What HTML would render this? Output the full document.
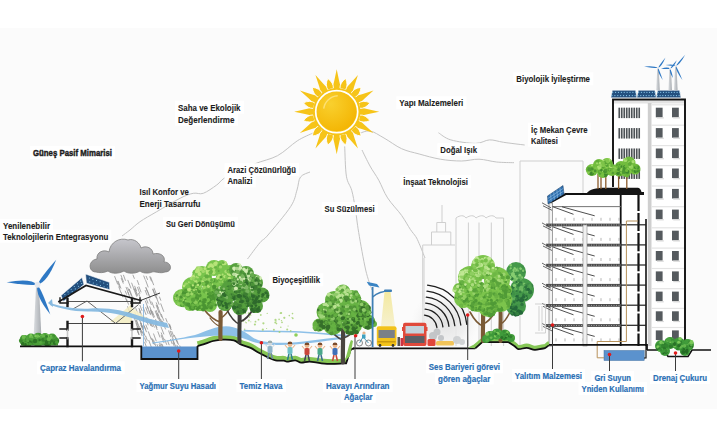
<!DOCTYPE html>
<html><head><meta charset="utf-8">
<style>
html,body{margin:0;padding:0;background:#fff;}
svg{display:block;}
.t{font-family:"Liberation Sans",sans-serif;font-weight:bold;fill:#1c1c1c;stroke:#1c1c1c;stroke-width:0.1px;font-size:9.8px;}
.g{stroke-width:0.45px;}
.b{font-family:"Liberation Sans",sans-serif;font-weight:bold;fill:#2a70b5;stroke:#2a70b5;stroke-width:0.2px;font-size:9.6px;}
</style></head><body>
<svg width="720" height="427" viewBox="0 0 720 427">
<defs>
<radialGradient id="sung" cx="0.35" cy="0.3" r="0.8"><stop offset="0" stop-color="#f9d02e"/><stop offset="1" stop-color="#f3b300"/></radialGradient>
<linearGradient id="towerg" x1="0" y1="0" x2="1" y2="0"><stop offset="0" stop-color="#dadde0"/><stop offset="1" stop-color="#a9adb2"/></linearGradient>
<radialGradient id="hazeg"><stop offset="0" stop-color="#e2e2e2"/><stop offset="0.6" stop-color="#ececec" stop-opacity="0.8"/><stop offset="1" stop-color="#f4f4f4" stop-opacity="0"/></radialGradient>
<linearGradient id="conegr" x1="0" y1="0" x2="0" y2="1"><stop offset="0" stop-color="#f3e9a0"/><stop offset="1" stop-color="#f6f1cf"/></linearGradient>
<linearGradient id="cloudg" x1="0" y1="0" x2="0" y2="1"><stop offset="0" stop-color="#c6c6cc"/><stop offset="1" stop-color="#8e8e8e"/></linearGradient>
</defs>
<rect x="0" y="0" width="720" height="427" fill="#fff"/>
<rect x="0" y="28" width="717" height="381" fill="#fbfbfb"/>
<g fill="none" stroke="#c4c4c4" stroke-width="1">
<path d="M122.0,236.0 C123.3,235.0 127.0,232.4 130.0,230.0 C133.0,227.6 135.6,224.8 140.0,221.7 C144.4,218.6 150.0,215.6 156.7,211.7 C163.4,207.8 173.9,201.4 180.0,198.3 C186.1,195.2 189.4,194.1 193.3,193.3 C197.2,192.5 199.4,194.7 203.3,193.3 C207.2,191.9 212.8,187.8 216.7,185.0 C220.6,182.2 220.4,180.2 226.7,176.7 C233.0,173.2 246.1,167.4 254.6,163.9 C263.1,160.4 270.4,159.5 277.5,155.7 C284.6,151.9 291.3,144.7 297.2,140.9 C303.1,137.1 310.4,134.3 313.0,133.0"/>
<path d="M247.5,259.0 C249.6,256.3 256.6,246.6 260.0,242.6 C263.4,238.6 262.9,241.0 268.0,235.0 C273.1,229.0 285.9,214.0 290.7,206.5 C295.5,199.0 295.4,194.9 297.0,190.0 C298.6,185.1 298.3,180.0 300.5,177.0 C302.7,174.0 308.4,172.8 310.0,172.0"/>
<path d="M344.7,146.4 C345.0,151.4 345.2,168.9 346.4,176.2 C347.6,183.5 350.2,185.0 351.7,190.3 C353.2,195.6 354.0,200.9 355.2,207.9 C356.4,214.9 356.9,222.2 358.7,232.5 C360.4,242.8 363.5,260.4 365.7,270.0 C367.9,279.6 370.9,286.7 372.0,290.0"/>
<path d="M362.0,150.0 C363.3,152.7 367.2,160.9 370.0,166.0 C372.8,171.1 375.9,175.0 378.8,180.3 C381.7,185.6 383.8,192.1 387.6,197.9 C391.4,203.8 397.8,210.1 401.6,215.4 C405.4,220.7 408.0,226.0 410.4,229.5 C412.8,233.0 414.2,234.2 415.7,236.5 C417.2,238.8 417.6,240.0 419.2,243.6 C420.8,247.2 424.0,255.6 425.0,258.0"/>
<path d="M358.0,134.0 C360.0,133.5 365.7,130.3 370.0,131.0 C374.3,131.7 378.7,135.1 384.0,138.0 C389.3,140.9 395.7,146.0 401.6,148.7 C407.5,151.4 412.8,152.2 419.2,154.0 C425.6,155.8 433.3,158.0 440.3,159.2 C447.3,160.4 454.9,161.0 461.4,161.0 C467.8,161.0 473.1,159.0 479.0,159.2 C484.9,159.4 490.7,161.4 496.5,162.0 C502.3,162.6 511.1,162.6 514.0,162.7"/>
<path d="M438.5,132.8 C440.6,134.0 444.6,138.1 450.8,139.9 C457.0,141.7 469.1,143.4 475.5,143.4 C481.9,143.4 484.8,140.1 489.5,139.9 C494.2,139.7 497.7,141.5 503.6,142.3 C509.5,143.2 521.2,144.6 524.7,145.0"/>
</g>
<g fill="none" stroke="#cfcfcf" stroke-width="1">
<path d="M520,346 V161 H583 V194"/>
<path d="M456,346 V218 C460,215 464,215 466,218 C470,215 474,215 476,218 C480,215 484,215 486,218 C490,215 494,215 496,218 L503.6,218 V346"/>
<path d="M468.4,222.5 V346 M479,222.5 V346 M491.3,222.5 V346"/>
<path d="M442,205 V222.5 M436.8,232 V222.5 H445.6 V232 M431.5,245 V232 H450.8 V245 M422.7,346 V245 H455"/>
<path d="M424,258 V346"/>
</g>
<path d="M331.86,90.75 Q334.31,81.29 336.70,69.20 Q339.09,81.29 341.54,90.75 Z" fill="#f6c419"/><path d="M342.99,91.14 Q349.83,84.17 357.95,74.89 Q353.98,86.56 351.36,95.98 Z" fill="#f6c419"/><path d="M352.42,97.04 Q361.84,94.42 373.51,90.45 Q364.23,98.57 357.26,105.41 Z" fill="#f6c419"/><path d="M357.65,106.86 Q367.11,109.31 379.20,111.70 Q367.11,114.09 357.65,116.54 Z" fill="#f6c419"/><path d="M357.26,117.99 Q364.23,124.83 373.51,132.95 Q361.84,128.98 352.42,126.36 Z" fill="#f6c419"/><path d="M351.36,127.42 Q353.98,136.84 357.95,148.51 Q349.83,139.23 342.99,132.26 Z" fill="#f6c419"/><path d="M341.54,132.65 Q339.09,142.11 336.70,154.20 Q334.31,142.11 331.86,132.65 Z" fill="#f6c419"/><path d="M330.41,132.26 Q323.57,139.23 315.45,148.51 Q319.42,136.84 322.04,127.42 Z" fill="#f6c419"/><path d="M320.98,126.36 Q311.56,128.98 299.89,132.95 Q309.17,124.83 316.14,117.99 Z" fill="#f6c419"/><path d="M315.75,116.54 Q306.29,114.09 294.20,111.70 Q306.29,109.31 315.75,106.86 Z" fill="#f6c419"/><path d="M316.14,105.41 Q309.17,98.57 299.89,90.45 Q311.56,94.42 320.98,97.04 Z" fill="#f6c419"/><path d="M322.04,95.98 Q319.42,86.56 315.45,74.89 Q323.57,84.17 330.41,91.14 Z" fill="#f6c419"/><path d="M339.97,88.43 Q339.73,82.86 345.63,78.38 Q348.50,85.21 345.50,89.91 Z" fill="#f6c419" stroke="#fff" stroke-width="0.9"/><path d="M351.17,93.18 Q353.75,88.24 361.10,87.30 Q360.16,94.65 355.22,97.23 Z" fill="#f6c419" stroke="#fff" stroke-width="0.9"/><path d="M358.49,102.90 Q363.19,99.90 370.02,102.77 Q365.54,108.67 359.97,108.43 Z" fill="#f6c419" stroke="#fff" stroke-width="0.9"/><path d="M359.97,114.97 Q365.54,114.73 370.02,120.63 Q363.19,123.50 358.49,120.50 Z" fill="#f6c419" stroke="#fff" stroke-width="0.9"/><path d="M355.22,126.17 Q360.16,128.75 361.10,136.10 Q353.75,135.16 351.17,130.22 Z" fill="#f6c419" stroke="#fff" stroke-width="0.9"/><path d="M345.50,133.49 Q348.50,138.19 345.63,145.02 Q339.73,140.54 339.97,134.97 Z" fill="#f6c419" stroke="#fff" stroke-width="0.9"/><path d="M333.43,134.97 Q333.67,140.54 327.77,145.02 Q324.90,138.19 327.90,133.49 Z" fill="#f6c419" stroke="#fff" stroke-width="0.9"/><path d="M322.23,130.22 Q319.65,135.16 312.30,136.10 Q313.24,128.75 318.18,126.17 Z" fill="#f6c419" stroke="#fff" stroke-width="0.9"/><path d="M314.91,120.50 Q310.21,123.50 303.38,120.63 Q307.86,114.73 313.43,114.97 Z" fill="#f6c419" stroke="#fff" stroke-width="0.9"/><path d="M313.43,108.43 Q307.86,108.67 303.38,102.77 Q310.21,99.90 314.91,102.90 Z" fill="#f6c419" stroke="#fff" stroke-width="0.9"/><path d="M318.18,97.23 Q313.24,94.65 312.30,87.30 Q319.65,88.24 322.23,93.18 Z" fill="#f6c419" stroke="#fff" stroke-width="0.9"/><path d="M327.90,89.91 Q324.90,85.21 327.77,78.38 Q333.67,82.86 333.43,88.43 Z" fill="#f6c419" stroke="#fff" stroke-width="0.9"/><circle cx="336.7" cy="111.7" r="23.8" fill="#f6c419"/><circle cx="336.7" cy="111.7" r="21" fill="none" stroke="#fff" stroke-width="1.7"/><circle cx="336.7" cy="111.7" r="19.6" fill="url(#sung)"/><path d="M323.7,108.7 A15,15 0 0 1 337.7,95.7" fill="none" stroke="#fde27c" stroke-width="1.4" opacity="0.9"/>
<g stroke="#8a8a8a" stroke-width="0.8" stroke-linecap="round" opacity="0.9">
<line x1="147.3" y1="306.6" x2="150.2" y2="314.2"/>
<line x1="145.8" y1="307.5" x2="148.0" y2="313.5"/>
<line x1="137.5" y1="287.3" x2="139.8" y2="293.4"/>
<line x1="140.3" y1="331.1" x2="142.0" y2="335.6"/>
<line x1="145.7" y1="280.5" x2="148.1" y2="287.0"/>
<line x1="150.6" y1="277.0" x2="153.6" y2="284.8"/>
<line x1="155.4" y1="321.1" x2="156.8" y2="324.9"/>
<line x1="133.0" y1="275.1" x2="134.3" y2="278.4"/>
<line x1="127.7" y1="287.7" x2="128.9" y2="290.8"/>
<line x1="143.2" y1="307.4" x2="146.0" y2="314.6"/>
<line x1="152.3" y1="311.4" x2="154.4" y2="316.9"/>
<line x1="149.8" y1="321.7" x2="151.5" y2="326.1"/>
<line x1="179.8" y1="345.8" x2="182.5" y2="353.0"/>
<line x1="145.9" y1="325.0" x2="147.5" y2="329.1"/>
<line x1="124.3" y1="294.8" x2="126.9" y2="301.6"/>
<line x1="156.3" y1="302.8" x2="158.2" y2="307.8"/>
<line x1="173.1" y1="343.0" x2="174.2" y2="346.0"/>
<line x1="153.0" y1="289.1" x2="155.0" y2="294.4"/>
<line x1="157.1" y1="344.6" x2="158.4" y2="348.0"/>
<line x1="160.7" y1="319.3" x2="162.3" y2="323.7"/>
<line x1="127.9" y1="280.3" x2="130.9" y2="288.1"/>
<line x1="140.1" y1="328.6" x2="141.7" y2="332.8"/>
<line x1="118.2" y1="281.3" x2="120.9" y2="288.3"/>
<line x1="139.0" y1="286.8" x2="141.0" y2="292.0"/>
<line x1="145.8" y1="287.7" x2="147.2" y2="291.4"/>
<line x1="136.6" y1="320.3" x2="138.6" y2="325.5"/>
<line x1="129.4" y1="289.3" x2="132.4" y2="297.2"/>
<line x1="148.4" y1="331.8" x2="151.2" y2="339.3"/>
<line x1="133.9" y1="289.2" x2="136.7" y2="296.4"/>
<line x1="136.0" y1="320.2" x2="139.0" y2="328.2"/>
<line x1="129.0" y1="289.4" x2="131.6" y2="296.2"/>
<line x1="133.8" y1="297.7" x2="135.1" y2="301.1"/>
<line x1="137.3" y1="280.5" x2="138.9" y2="284.7"/>
<line x1="144.8" y1="317.3" x2="146.8" y2="322.6"/>
<line x1="159.7" y1="343.1" x2="161.9" y2="348.9"/>
<line x1="145.8" y1="336.4" x2="147.2" y2="340.2"/>
<line x1="170.5" y1="339.4" x2="172.1" y2="343.7"/>
<line x1="146.1" y1="287.7" x2="149.0" y2="295.4"/>
<line x1="154.1" y1="288.2" x2="156.9" y2="295.6"/>
<line x1="146.7" y1="317.5" x2="148.0" y2="321.0"/>
<line x1="149.8" y1="276.8" x2="151.4" y2="281.0"/>
<line x1="143.6" y1="324.7" x2="146.4" y2="331.8"/>
<line x1="141.8" y1="316.9" x2="143.2" y2="320.8"/>
<line x1="137.2" y1="325.9" x2="138.7" y2="330.0"/>
<line x1="161.3" y1="314.3" x2="163.6" y2="320.3"/>
<line x1="155.3" y1="294.2" x2="156.9" y2="298.2"/>
<line x1="123.5" y1="275.2" x2="125.4" y2="280.4"/>
<line x1="121.3" y1="278.4" x2="123.2" y2="283.2"/>
<line x1="135.0" y1="315.2" x2="136.9" y2="320.0"/>
<line x1="176.0" y1="338.1" x2="178.4" y2="344.4"/>
<line x1="155.4" y1="323.8" x2="156.8" y2="327.5"/>
<line x1="114.7" y1="276.5" x2="117.6" y2="284.1"/>
<line x1="169.7" y1="324.5" x2="170.8" y2="327.6"/>
<line x1="149.9" y1="319.8" x2="152.5" y2="326.5"/>
<line x1="159.5" y1="297.0" x2="160.8" y2="300.3"/>
<line x1="156.7" y1="313.3" x2="159.5" y2="320.8"/>
<line x1="161.1" y1="327.1" x2="163.8" y2="334.0"/>
<line x1="153.5" y1="339.9" x2="155.9" y2="346.3"/>
<line x1="172.3" y1="338.9" x2="174.2" y2="343.9"/>
<line x1="168.7" y1="330.9" x2="170.9" y2="336.8"/>
<line x1="145.9" y1="319.0" x2="148.1" y2="324.9"/>
<line x1="134.2" y1="317.8" x2="136.6" y2="324.0"/>
<line x1="175.4" y1="345.5" x2="177.9" y2="352.2"/>
<line x1="151.8" y1="302.0" x2="154.1" y2="307.9"/>
<line x1="157.2" y1="305.7" x2="158.5" y2="309.1"/>
<line x1="136.6" y1="328.0" x2="138.9" y2="334.0"/>
<line x1="135.9" y1="308.6" x2="138.4" y2="315.1"/>
<line x1="150.7" y1="309.8" x2="153.5" y2="317.4"/>
<line x1="121.1" y1="292.4" x2="122.8" y2="296.9"/>
<line x1="140.8" y1="322.8" x2="142.3" y2="326.7"/>
<line x1="164.6" y1="339.2" x2="166.6" y2="344.4"/>
<line x1="151.8" y1="338.2" x2="154.3" y2="344.5"/>
<line x1="134.9" y1="288.3" x2="137.6" y2="295.3"/>
<line x1="173.0" y1="339.8" x2="174.9" y2="344.7"/>
<line x1="142.2" y1="316.0" x2="143.6" y2="319.7"/>
<line x1="158.9" y1="309.7" x2="161.6" y2="317.0"/>
<line x1="169.5" y1="325.2" x2="171.2" y2="329.6"/>
<line x1="134.7" y1="286.2" x2="136.4" y2="290.6"/>
<line x1="134.7" y1="289.4" x2="137.1" y2="295.5"/>
<line x1="139.5" y1="309.6" x2="142.2" y2="316.8"/>
<line x1="159.2" y1="344.7" x2="160.5" y2="348.1"/>
<line x1="146.2" y1="276.3" x2="147.5" y2="279.5"/>
<line x1="155.4" y1="325.0" x2="157.1" y2="329.6"/>
<line x1="137.5" y1="331.0" x2="138.9" y2="334.7"/>
<line x1="127.6" y1="306.7" x2="130.3" y2="313.9"/>
<line x1="125.3" y1="291.1" x2="126.6" y2="294.3"/>
<line x1="148.4" y1="319.3" x2="150.7" y2="325.5"/>
<line x1="162.5" y1="321.2" x2="165.5" y2="329.0"/>
<line x1="140.9" y1="323.3" x2="143.0" y2="328.7"/>
<line x1="118.8" y1="286.9" x2="120.8" y2="292.2"/>
<line x1="141.1" y1="325.4" x2="142.7" y2="329.8"/>
<line x1="149.2" y1="298.9" x2="151.3" y2="304.5"/>
<line x1="159.4" y1="318.2" x2="161.3" y2="323.2"/>
<line x1="170.3" y1="331.0" x2="171.6" y2="334.5"/>
<line x1="167.7" y1="341.1" x2="169.1" y2="344.8"/>
<line x1="149.8" y1="306.7" x2="152.6" y2="314.2"/>
<line x1="145.4" y1="301.1" x2="148.2" y2="308.5"/>
<line x1="171.8" y1="331.4" x2="173.9" y2="336.7"/>
<line x1="140.1" y1="320.9" x2="142.6" y2="327.5"/>
<line x1="161.3" y1="332.9" x2="163.8" y2="339.5"/>
<line x1="152.7" y1="289.4" x2="155.7" y2="297.3"/>
<line x1="162.2" y1="344.4" x2="164.8" y2="351.3"/>
<line x1="156.3" y1="297.1" x2="159.0" y2="304.3"/>
<line x1="126.5" y1="299.1" x2="128.5" y2="304.3"/>
<line x1="157.9" y1="313.6" x2="160.0" y2="319.1"/>
<line x1="143.8" y1="276.0" x2="145.1" y2="279.4"/>
<line x1="143.4" y1="331.6" x2="145.2" y2="336.3"/>
<line x1="141.8" y1="330.7" x2="143.3" y2="334.5"/>
<line x1="155.3" y1="311.2" x2="158.0" y2="318.4"/>
<line x1="168.7" y1="323.6" x2="170.7" y2="329.1"/>
<line x1="144.7" y1="342.3" x2="146.2" y2="346.4"/>
<line x1="139.5" y1="311.9" x2="142.1" y2="318.6"/>
<line x1="151.5" y1="320.0" x2="154.3" y2="327.2"/>
<line x1="141.3" y1="314.3" x2="143.2" y2="319.2"/>
<line x1="171.7" y1="334.9" x2="173.2" y2="338.9"/>
<line x1="174.4" y1="335.3" x2="176.5" y2="340.9"/>
<line x1="137.6" y1="315.3" x2="139.8" y2="320.9"/>
<line x1="150.5" y1="310.2" x2="151.7" y2="313.4"/>
<line x1="161.2" y1="343.8" x2="163.1" y2="348.8"/>
<line x1="157.9" y1="331.7" x2="159.9" y2="337.1"/>
<line x1="136.2" y1="323.8" x2="138.3" y2="329.4"/>
<line x1="160.8" y1="303.8" x2="163.7" y2="311.4"/>
<line x1="138.6" y1="293.4" x2="140.0" y2="297.0"/>
<line x1="156.2" y1="305.2" x2="159.0" y2="312.7"/>
<line x1="139.0" y1="308.3" x2="140.5" y2="312.3"/>
<line x1="165.8" y1="318.5" x2="167.2" y2="322.1"/>
<line x1="137.2" y1="330.1" x2="138.7" y2="334.1"/>
<line x1="145.2" y1="290.4" x2="147.0" y2="295.0"/>
<line x1="146.6" y1="299.6" x2="147.9" y2="303.1"/>
<line x1="139.5" y1="326.6" x2="141.6" y2="332.2"/>
<line x1="127.8" y1="292.0" x2="130.0" y2="297.7"/>
<line x1="140.0" y1="305.4" x2="141.9" y2="310.5"/>
<line x1="134.8" y1="312.1" x2="136.3" y2="316.1"/>
<line x1="155.6" y1="319.5" x2="157.7" y2="325.1"/>
<line x1="161.2" y1="335.3" x2="163.9" y2="342.6"/>
<line x1="147.4" y1="290.8" x2="150.1" y2="297.8"/>
<line x1="151.8" y1="339.0" x2="153.5" y2="343.6"/>
<line x1="148.8" y1="340.4" x2="151.8" y2="348.4"/>
<line x1="144.6" y1="337.9" x2="146.2" y2="342.1"/>
<line x1="144.4" y1="326.3" x2="145.7" y2="329.8"/>
<line x1="153.6" y1="333.9" x2="156.2" y2="340.9"/>
<line x1="131.7" y1="283.1" x2="134.1" y2="289.5"/>
<line x1="121.0" y1="275.3" x2="123.4" y2="281.7"/>
<line x1="176.2" y1="339.6" x2="177.5" y2="343.2"/>
<line x1="156.2" y1="310.4" x2="158.3" y2="315.9"/>
<line x1="140.6" y1="323.4" x2="141.8" y2="326.7"/>
<line x1="117.6" y1="281.6" x2="119.8" y2="287.4"/>
<line x1="149.5" y1="311.1" x2="150.9" y2="314.8"/>
<line x1="126.1" y1="287.3" x2="128.8" y2="294.5"/>
<line x1="177.0" y1="345.3" x2="178.3" y2="348.8"/>
</g>
<path d="M96,272 C88,272 88,260 97,259 C96,252 104,249 109,252 C110,242 120,237 128,240 C134,238 140,243 141,248 C146,245 153,248 153,254 C160,252 166,256 164,262 C172,262 173,272 165,272 C160,274 155,271 152,272 C148,274 142,273 140,271 C135,274 128,274 124,271 C118,274 112,274 108,271 C104,273 99,273 96,272 Z" fill="url(#cloudg)" stroke="#7d7d7d" stroke-width="0.8"/>
<polygon points="36.10,284.70 38.90,284.70 41.30,334.50 33.70,334.50" fill="url(#towerg)"/><path d="M37.50,284.70 Q47.37,282.38 56.20,259.80 Q40.62,277.30 37.50,284.70 Z" fill="#2e78c4"/><path d="M37.50,284.70 Q30.28,277.62 6.60,282.30 Q29.62,286.04 37.50,284.70 Z" fill="#2e78c4"/><path d="M37.50,284.70 Q34.73,294.70 50.30,314.40 Q42.49,291.35 37.50,284.70 Z" fill="#2e78c4"/><circle cx="37.50" cy="284.70" r="2.93" fill="#e4e8ee"/>
<rect x="21" y="340" width="37" height="5.5" fill="#3f9032"/>
<g fill="#4a9e38"><circle cx="25.0" cy="340.5" r="5.5"/><circle cx="31.0" cy="338.5" r="5.0"/><circle cx="38.0" cy="337.5" r="4.8"/><circle cx="45.0" cy="338.0" r="5.0"/><circle cx="52.0" cy="338.5" r="5.0"/><circle cx="55.0" cy="341.0" r="4.2"/><circle cx="28.0" cy="342.0" r="4.5"/><circle cx="48.0" cy="342.0" r="4.5"/><circle cx="38.0" cy="342.0" r="5.0"/></g><circle cx="26.4" cy="342.0" r="1.6" fill="#37822b"/><circle cx="28.4" cy="343.3" r="1.6" fill="#2c7224"/><circle cx="39.7" cy="336.1" r="1.4" fill="#7cc858"/><circle cx="51.0" cy="336.0" r="1.1" fill="#75c253"/><circle cx="54.1" cy="341.0" r="1.4" fill="#56a83f"/><circle cx="39.4" cy="334.5" r="1.4" fill="#429333"/><circle cx="26.0" cy="343.6" r="2.1" fill="#4da03a"/><circle cx="37.7" cy="340.2" r="1.6" fill="#4a9e38"/><circle cx="53.8" cy="336.1" r="1.3" fill="#3e8c30"/><circle cx="49.4" cy="342.9" r="1.9" fill="#2c7224"/><circle cx="24.8" cy="339.2" r="1.2" fill="#3a872d"/><circle cx="36.0" cy="337.7" r="1.5" fill="#58aa41"/><circle cx="39.3" cy="339.4" r="1.9" fill="#419232"/><circle cx="28.7" cy="340.9" r="1.7" fill="#3f8e30"/><circle cx="33.5" cy="340.8" r="1.1" fill="#4da039"/><circle cx="22.6" cy="343.6" r="1.4" fill="#2c7224"/><circle cx="46.7" cy="341.8" r="2.1" fill="#2c7224"/><circle cx="57.5" cy="340.7" r="1.6" fill="#2c7224"/><circle cx="34.6" cy="336.2" r="1.2" fill="#419032"/><circle cx="22.7" cy="343.5" r="1.6" fill="#2c7224"/><circle cx="30.1" cy="336.8" r="1.2" fill="#6cbb4e"/><circle cx="22.7" cy="337.4" r="2.2" fill="#3f8f31"/><circle cx="49.1" cy="339.2" r="2.2" fill="#53a63e"/><circle cx="40.5" cy="342.5" r="1.3" fill="#56a83f"/><circle cx="54.4" cy="340.8" r="1.7" fill="#3b882e"/><circle cx="53.1" cy="337.0" r="1.3" fill="#479a36"/><circle cx="20.9" cy="340.7" r="2.0" fill="#3f8e30"/><circle cx="42.8" cy="336.3" r="2.2" fill="#65b549"/><circle cx="25.5" cy="344.3" r="1.2" fill="#2c7224"/><circle cx="41.0" cy="337.2" r="1.3" fill="#53a53e"/><circle cx="34.7" cy="342.2" r="1.1" fill="#36812b"/><circle cx="47.7" cy="344.4" r="1.9" fill="#2c7224"/><circle cx="22.5" cy="342.9" r="1.9" fill="#52a43d"/><circle cx="29.9" cy="342.1" r="1.1" fill="#469935"/><circle cx="35.2" cy="337.0" r="1.4" fill="#3b892e"/><circle cx="39.6" cy="340.1" r="1.1" fill="#2c7224"/><circle cx="43.4" cy="339.6" r="2.2" fill="#357f2a"/><circle cx="32.1" cy="342.1" r="1.7" fill="#3a862d"/><circle cx="22.5" cy="343.6" r="1.4" fill="#2c7224"/><circle cx="22.9" cy="343.6" r="1.5" fill="#2c7224"/><circle cx="45.1" cy="338.8" r="1.5" fill="#439533"/><circle cx="35.7" cy="335.9" r="1.5" fill="#7cc858"/><circle cx="29.6" cy="342.2" r="1.9" fill="#2c7224"/><circle cx="37.8" cy="336.1" r="1.6" fill="#70be50"/><circle cx="23.3" cy="339.2" r="1.9" fill="#51a33c"/><circle cx="54.7" cy="343.1" r="1.9" fill="#2c7224"/><circle cx="46.1" cy="344.2" r="1.8" fill="#2c7224"/><circle cx="35.1" cy="341.0" r="2.2" fill="#2d7425"/><circle cx="32.2" cy="337.1" r="1.2" fill="#6bb94d"/><circle cx="49.0" cy="339.0" r="2.1" fill="#67b64a"/><circle cx="47.5" cy="335.7" r="1.8" fill="#70be50"/><circle cx="46.6" cy="336.4" r="1.4" fill="#36812b"/><circle cx="29.9" cy="344.0" r="1.8" fill="#469835"/><circle cx="27.8" cy="340.8" r="1.5" fill="#56a840"/><circle cx="56.7" cy="339.1" r="1.7" fill="#419132"/><circle cx="30.9" cy="335.3" r="1.3" fill="#7cc858"/><circle cx="56.5" cy="342.2" r="1.6" fill="#499d37"/><circle cx="21.5" cy="340.9" r="1.3" fill="#3a872d"/><circle cx="23.7" cy="337.0" r="2.1" fill="#6cbb4e"/><circle cx="27.3" cy="338.2" r="1.3" fill="#50a33b"/><circle cx="49.1" cy="342.9" r="1.1" fill="#409031"/><circle cx="51.8" cy="340.9" r="1.6" fill="#317927"/><circle cx="51.2" cy="337.4" r="1.4" fill="#62b247"/>
<path d="M128,305 L150,320 L136,320 Z" fill="#f7f1c9" opacity="0.9"/>
<polygon points="110,322 132,304 132,324" fill="#f3ecbd" opacity="0.8"/>
<polygon points="61,295.5 82,277.5 84,284.5 63.5,301.5" fill="#234f7e" stroke="#fff" stroke-width="0.6"/>
<polygon points="85.5,274 109.4,282.3 109.8,289.8 86.4,283.3" fill="#234f7e" stroke="#fff" stroke-width="0.6"/>
<g fill="#8fd0f0">
<circle cx="64.9" cy="294.6" r="0.55"/>
<circle cx="89.4" cy="278.0" r="0.55"/>
<circle cx="65.9" cy="297.0" r="0.55"/>
<circle cx="89.7" cy="281.8" r="0.55"/>
<circle cx="68.0" cy="291.9" r="0.55"/>
<circle cx="92.9" cy="279.3" r="0.55"/>
<circle cx="69.0" cy="294.3" r="0.55"/>
<circle cx="93.3" cy="283.0" r="0.55"/>
<circle cx="71.2" cy="289.2" r="0.55"/>
<circle cx="96.5" cy="280.5" r="0.55"/>
<circle cx="72.2" cy="291.6" r="0.55"/>
<circle cx="96.9" cy="284.2" r="0.55"/>
<circle cx="74.3" cy="286.5" r="0.55"/>
<circle cx="100.1" cy="281.8" r="0.55"/>
<circle cx="75.3" cy="288.9" r="0.55"/>
<circle cx="100.5" cy="285.5" r="0.55"/>
<circle cx="77.5" cy="283.8" r="0.55"/>
<circle cx="103.7" cy="283.0" r="0.55"/>
<circle cx="78.5" cy="286.2" r="0.55"/>
<circle cx="104.1" cy="286.7" r="0.55"/>
<circle cx="80.7" cy="281.1" r="0.55"/>
<circle cx="107.3" cy="284.3" r="0.55"/>
<circle cx="81.7" cy="283.5" r="0.55"/>
<circle cx="107.6" cy="288.0" r="0.55"/>
</g>
<g fill="none" stroke="#1a1a1a" stroke-linecap="square">
<path d="M59,301.5 L86,285.5 L141,300.5" stroke-width="1.7"/>
<path d="M68,301.5 H132" stroke="#555" stroke-width="1"/>
<path d="M68,323.5 H132" stroke="#444" stroke-width="1.2"/>
<path d="M67.5,299 V306 M67.5,322 V329.5 M67.5,338.5 V346 M132,299 V306 M132,322 V329.5 M132,338.5 V346" stroke-width="2.4"/>
<path d="M67.5,329.5 V338.5 M132,329.5 V338.5" stroke="#c8c8c8" stroke-width="1.6"/>
<path d="M60,298 V303 H68 M131,303 H140 V298" stroke-width="1.4"/>
<path d="M60,329 H67 M60,338 H67 M133,329 H140 M133,338 H140" stroke-width="1.4"/>
</g>
<path d="M72,309.5 L87,301 L115.6,323.4 L138.5,304.6" fill="none" stroke="#555" stroke-width="0.9"/>
<path d="M50,303 C60,306 72,309.5 91,308.5 C110,307.5 125,311 138,315.5 C150,319 158,321 167,323 L169,328 C158,326 148,323.5 138,320 C124,315.5 110,311.5 91,311.5 C72,312 60,308 50,305 Z" fill="#86b9e0" opacity="0.95"/>
<path d="M48,303 L52,299 L53,307 Z" fill="#86b9e0"/>
<path d="M197.5,346.0 C198.5,345.7 200.7,345.2 203.3,344.4 C205.9,343.6 209.8,341.8 213.0,341.0 C216.2,340.2 219.3,339.7 222.8,339.6 C226.3,339.5 230.9,339.5 233.9,340.3 C236.9,341.1 238.0,343.1 240.8,344.4 C243.6,345.7 247.6,346.5 250.6,347.9 C253.6,349.3 256.1,351.3 258.9,352.8 C261.7,354.3 264.4,355.7 267.2,357.0 C270.0,358.3 272.8,359.8 275.6,360.4 C278.4,361.0 282.0,360.4 283.9,360.6 C285.8,360.8 285.1,361.6 287.0,361.6 C288.9,361.6 292.9,360.2 295.3,360.4 C297.7,360.6 298.9,362.5 301.3,362.7 C303.7,362.9 306.2,361.5 309.5,361.6 C312.8,361.7 317.4,362.9 321.3,363.3 C325.2,363.7 329.0,363.9 333.1,363.9 C337.2,363.9 343.9,363.4 346.1,363.3" fill="none" stroke="#86c654" stroke-width="5" transform="translate(0,-2.2)"/>
<path d="M197.5,346.0 C198.5,345.7 200.7,345.2 203.3,344.4 C205.9,343.6 209.8,341.8 213.0,341.0 C216.2,340.2 219.3,339.7 222.8,339.6 C226.3,339.5 230.9,339.5 233.9,340.3 C236.9,341.1 238.0,343.1 240.8,344.4 C243.6,345.7 247.6,346.5 250.6,347.9 C253.6,349.3 256.1,351.3 258.9,352.8 C261.7,354.3 264.4,355.7 267.2,357.0 C270.0,358.3 272.8,359.8 275.6,360.4 C278.4,361.0 282.0,360.4 283.9,360.6 C285.8,360.8 285.1,361.6 287.0,361.6 C288.9,361.6 292.9,360.2 295.3,360.4 C297.7,360.6 298.9,362.5 301.3,362.7 C303.7,362.9 306.2,361.5 309.5,361.6 C312.8,361.7 317.4,362.9 321.3,363.3 C325.2,363.7 329.0,363.9 333.1,363.9 C337.2,363.9 343.9,363.4 346.1,363.3 C347,361 348,357 348.5,356.3 C349.5,353 350,351 350.8,349.8 C351.5,349 352,348.6 354,348.5" fill="none" stroke="#111" stroke-width="1.8"/>
<path d="M344,362 C347,356 348,347 351,340 L353,341 C352,346 351,352 350,356 Z" fill="#86c654"/>
<path d="M152,342.5 C165,341 172,339.5 179,338.3 C186,337 190,336 195,335 C200,333.5 205,331 210,329.5 C216,327.5 221,326.3 226,326.3 C236,326.5 244,331 252,337 C258,341 266,342.5 280,342.8 C300,343 320,339 345,336.5 L345,338.5 C320,341.5 300,345 280,345 C266,345 256,343.5 248,340 C240,337 234,335.4 226,335.4 C220,335.4 215,335.6 210,336 C205,336.5 200,337 195,337.6 C188,338.5 184,339 179,339.6 C170,341 160,343 152,343.6 Z" fill="#8dc0e8"/>
<path d="M243.6,330.6 C260,331.5 280,331 300,332 C320,333 335,335 348,336" fill="none" stroke="#8dc0e8" stroke-width="1.6"/>
<g fill="#9fd06a" opacity="0.8">
<circle cx="260.8" cy="315.0" r="0.9"/>
<circle cx="246.2" cy="322.7" r="0.7"/>
<circle cx="245.4" cy="322.1" r="0.5"/>
<circle cx="267.2" cy="313.4" r="0.6"/>
<circle cx="266.6" cy="328.5" r="0.6"/>
<circle cx="254.9" cy="324.5" r="1.1"/>
<circle cx="275.5" cy="319.9" r="1.1"/>
<circle cx="244.7" cy="329.2" r="0.7"/>
<circle cx="250.4" cy="314.4" r="0.7"/>
<circle cx="289.3" cy="315.6" r="0.8"/>
<circle cx="279.1" cy="319.4" r="0.8"/>
<circle cx="245.6" cy="313.2" r="0.6"/>
<circle cx="281.5" cy="320.6" r="0.7"/>
<circle cx="276.0" cy="321.1" r="0.7"/>
<circle cx="288.1" cy="326.0" r="0.6"/>
<circle cx="275.3" cy="322.5" r="1.0"/>
<circle cx="284.3" cy="317.8" r="1.1"/>
<circle cx="248.8" cy="320.4" r="1.0"/>
<circle cx="250.8" cy="321.8" r="0.5"/>
<circle cx="280.8" cy="327.3" r="0.8"/>
<circle cx="292.8" cy="318.3" r="0.9"/>
<circle cx="276.5" cy="323.6" r="0.8"/>
<circle cx="290.7" cy="330.9" r="0.8"/>
<circle cx="280.5" cy="313.2" r="0.9"/>
<circle cx="279.5" cy="331.9" r="1.0"/>
<circle cx="258.5" cy="319.7" r="0.9"/>
<circle cx="243.3" cy="321.2" r="0.6"/>
<circle cx="248.8" cy="313.2" r="1.0"/>
<circle cx="249.5" cy="317.0" r="0.7"/>
<circle cx="292.5" cy="313.6" r="0.8"/>
<circle cx="273.9" cy="329.7" r="1.0"/>
<circle cx="292.1" cy="317.6" r="0.7"/>
<circle cx="262.8" cy="329.7" r="1.1"/>
<circle cx="250.8" cy="315.5" r="0.6"/>
<circle cx="255.5" cy="321.7" r="0.9"/>
<circle cx="257.2" cy="312.1" r="0.8"/>
<circle cx="263.4" cy="323.3" r="1.1"/>
<circle cx="282.0" cy="322.3" r="0.9"/>
<circle cx="281.2" cy="313.1" r="1.0"/>
<circle cx="287.2" cy="329.5" r="1.0"/>
</g>
<g fill="none" stroke="#7a5a36" stroke-linecap="round"><path d="M220.5,339.0 C220.0,329.0 221.0,320.0 220.5,312.0" stroke-width="4.2"/><path d="M220.5,322.0 Q211.8,320.0 203.0,308.0" stroke-width="1.8"/><path d="M220.5,318.0 Q226.2,316.0 232.0,304.0" stroke-width="1.6"/><path d="M219.0,326.0 Q214.5,324.0 210.0,318.0" stroke-width="1.2"/></g>
<g fill="none" stroke="#3f3d3a" stroke-linecap="round"><path d="M239.5,342.0 C239.0,332.0 240.0,320.0 239.5,312.0" stroke-width="4.0"/><path d="M239.5,324.0 Q232.8,322.0 226.0,308.0" stroke-width="1.6"/><path d="M239.5,322.0 Q247.2,320.0 255.0,306.0" stroke-width="1.8"/></g>
<g fill="#78c44c"><circle cx="182.0" cy="298.0" r="9.0"/><circle cx="192.0" cy="287.0" r="10.0"/><circle cx="202.0" cy="276.0" r="10.0"/><circle cx="214.0" cy="268.0" r="8.0"/><circle cx="222.0" cy="266.0" r="6.0"/><circle cx="200.0" cy="300.0" r="11.0"/><circle cx="214.0" cy="290.0" r="12.0"/><circle cx="226.0" cy="280.0" r="10.0"/><circle cx="190.0" cy="305.0" r="6.0"/><circle cx="210.0" cy="305.0" r="7.0"/><circle cx="230.0" cy="270.0" r="5.0"/></g><circle cx="181.5" cy="305.6" r="1.3" fill="#4a9432"/><circle cx="204.2" cy="283.7" r="1.9" fill="#67b242"/><circle cx="225.7" cy="282.8" r="1.0" fill="#56a038"/><circle cx="201.1" cy="298.7" r="2.1" fill="#72be48"/><circle cx="232.2" cy="280.0" r="1.5" fill="#90d05d"/><circle cx="200.6" cy="286.3" r="1.3" fill="#94d260"/><circle cx="186.8" cy="284.3" r="1.0" fill="#9dd666"/><circle cx="213.5" cy="269.2" r="2.0" fill="#5ea93d"/><circle cx="218.5" cy="298.1" r="1.5" fill="#4a9432"/><circle cx="192.1" cy="291.3" r="2.0" fill="#4c9633"/><circle cx="204.8" cy="291.4" r="1.3" fill="#9fd768"/><circle cx="223.2" cy="281.8" r="1.7" fill="#99d463"/><circle cx="217.3" cy="296.1" r="1.5" fill="#63ae40"/><circle cx="205.0" cy="301.8" r="1.5" fill="#539d37"/><circle cx="175.7" cy="297.7" r="1.7" fill="#4a9432"/><circle cx="197.8" cy="268.4" r="2.2" fill="#a5da6c"/><circle cx="221.5" cy="288.7" r="1.3" fill="#4a9432"/><circle cx="209.4" cy="284.3" r="1.7" fill="#8dce5b"/><circle cx="224.0" cy="287.5" r="1.5" fill="#5faa3e"/><circle cx="208.9" cy="270.0" r="1.6" fill="#96d361"/><circle cx="195.5" cy="278.0" r="1.7" fill="#82c953"/><circle cx="211.6" cy="284.2" r="1.3" fill="#b2e175"/><circle cx="184.2" cy="291.1" r="2.0" fill="#529c36"/><circle cx="189.1" cy="305.3" r="1.1" fill="#4a9432"/><circle cx="179.9" cy="293.4" r="1.1" fill="#7dc650"/><circle cx="217.8" cy="284.0" r="1.6" fill="#7fc751"/><circle cx="199.5" cy="269.3" r="2.1" fill="#b8e47a"/><circle cx="205.1" cy="270.5" r="2.0" fill="#88cc57"/><circle cx="182.2" cy="298.5" r="1.8" fill="#88cc57"/><circle cx="215.7" cy="289.0" r="2.2" fill="#81c852"/><circle cx="223.3" cy="287.4" r="1.8" fill="#7fc751"/><circle cx="197.9" cy="290.7" r="1.8" fill="#7ac54e"/><circle cx="192.3" cy="306.2" r="2.1" fill="#62ad40"/><circle cx="219.9" cy="281.9" r="1.0" fill="#8fcf5c"/><circle cx="208.9" cy="268.4" r="2.2" fill="#6cb845"/><circle cx="217.4" cy="287.0" r="1.4" fill="#72be48"/><circle cx="186.0" cy="296.1" r="1.2" fill="#6cb745"/><circle cx="179.6" cy="295.6" r="1.6" fill="#7ec750"/><circle cx="193.5" cy="306.9" r="1.0" fill="#4a9432"/><circle cx="215.5" cy="305.1" r="1.4" fill="#4a9432"/><circle cx="187.8" cy="298.9" r="1.2" fill="#8ecf5c"/><circle cx="230.4" cy="270.7" r="1.7" fill="#68b343"/><circle cx="226.0" cy="279.2" r="1.3" fill="#84ca55"/><circle cx="194.5" cy="292.8" r="1.5" fill="#519b36"/><circle cx="209.0" cy="271.3" r="1.3" fill="#b8e47a"/><circle cx="231.3" cy="284.2" r="1.9" fill="#7ac54d"/><circle cx="215.2" cy="264.0" r="2.1" fill="#b8e47a"/><circle cx="188.2" cy="299.9" r="2.1" fill="#87cb57"/><circle cx="230.3" cy="275.2" r="1.6" fill="#9bd565"/><circle cx="179.3" cy="294.9" r="1.0" fill="#a9dc6f"/><circle cx="210.6" cy="283.7" r="1.1" fill="#87cb57"/><circle cx="186.6" cy="293.0" r="1.7" fill="#4a9432"/><circle cx="216.4" cy="295.4" r="1.6" fill="#6eba46"/><circle cx="214.1" cy="294.4" r="1.5" fill="#4a9432"/><circle cx="193.0" cy="305.6" r="1.4" fill="#4a9432"/><circle cx="194.1" cy="288.9" r="1.7" fill="#68b443"/><circle cx="177.7" cy="293.9" r="2.0" fill="#86cb56"/><circle cx="204.1" cy="306.4" r="1.6" fill="#6ab544"/><circle cx="223.1" cy="263.2" r="1.2" fill="#68b343"/><circle cx="224.8" cy="276.6" r="1.6" fill="#b2e176"/><circle cx="230.9" cy="275.1" r="1.2" fill="#55a038"/><circle cx="192.9" cy="308.7" r="2.1" fill="#4a9432"/><circle cx="216.4" cy="268.8" r="1.2" fill="#9fd768"/><circle cx="218.0" cy="295.7" r="1.1" fill="#6db946"/><circle cx="207.6" cy="288.8" r="1.5" fill="#4c9633"/><circle cx="197.9" cy="277.6" r="1.0" fill="#aedf72"/><circle cx="213.7" cy="281.9" r="1.1" fill="#6cb845"/><circle cx="225.2" cy="280.9" r="1.7" fill="#77c34b"/><circle cx="206.3" cy="286.5" r="1.5" fill="#61ac3f"/><circle cx="216.3" cy="299.2" r="1.6" fill="#6ab544"/><circle cx="203.2" cy="271.4" r="1.7" fill="#a5da6c"/><circle cx="190.3" cy="294.6" r="1.1" fill="#9fd768"/><circle cx="205.2" cy="307.3" r="1.9" fill="#67b342"/><circle cx="228.6" cy="276.1" r="2.0" fill="#65b041"/><circle cx="196.4" cy="297.6" r="1.7" fill="#4c9633"/><circle cx="186.7" cy="290.3" r="1.1" fill="#5aa53b"/><circle cx="215.9" cy="298.4" r="1.6" fill="#62ad3f"/><circle cx="183.4" cy="299.1" r="2.2" fill="#98d463"/><circle cx="223.9" cy="293.6" r="2.1" fill="#6db946"/><circle cx="214.6" cy="297.5" r="2.1" fill="#5ca73c"/><circle cx="234.2" cy="280.0" r="1.5" fill="#539d37"/><circle cx="210.8" cy="281.5" r="1.4" fill="#adde72"/><circle cx="188.6" cy="300.2" r="1.2" fill="#96d361"/><circle cx="212.5" cy="292.3" r="1.2" fill="#4a9432"/><circle cx="190.9" cy="288.8" r="1.7" fill="#8ecf5b"/><circle cx="188.8" cy="296.6" r="2.0" fill="#4c9633"/><circle cx="203.9" cy="306.1" r="1.7" fill="#4a9432"/><circle cx="197.1" cy="274.6" r="2.0" fill="#b8e47a"/><circle cx="180.4" cy="300.1" r="2.2" fill="#5ea93d"/><circle cx="209.1" cy="276.1" r="1.4" fill="#83c954"/><circle cx="200.9" cy="283.7" r="1.5" fill="#91d05d"/><circle cx="222.3" cy="296.6" r="1.8" fill="#56a139"/><circle cx="196.8" cy="270.2" r="1.3" fill="#b8e47a"/><circle cx="210.7" cy="307.5" r="1.6" fill="#4a9432"/><circle cx="225.6" cy="281.5" r="2.2" fill="#59a43a"/><circle cx="212.1" cy="288.2" r="1.0" fill="#74c049"/><circle cx="197.5" cy="282.4" r="2.0" fill="#88cc57"/><circle cx="209.8" cy="299.4" r="1.9" fill="#4a9432"/><circle cx="204.0" cy="300.0" r="1.8" fill="#4c9633"/><circle cx="212.7" cy="281.4" r="1.8" fill="#69b443"/><circle cx="224.4" cy="292.3" r="1.3" fill="#68b443"/><circle cx="207.3" cy="267.4" r="1.6" fill="#72bd48"/><circle cx="205.1" cy="300.0" r="1.4" fill="#5ea93d"/><circle cx="216.5" cy="281.1" r="1.7" fill="#62ae40"/><circle cx="228.8" cy="273.8" r="2.0" fill="#b8e47a"/><circle cx="206.0" cy="279.3" r="1.9" fill="#7ac54d"/><circle cx="183.6" cy="294.9" r="2.0" fill="#58a23a"/><circle cx="190.0" cy="292.5" r="1.7" fill="#89cc58"/><circle cx="183.9" cy="302.4" r="1.4" fill="#4a9432"/><circle cx="200.2" cy="300.9" r="1.2" fill="#4a9432"/><circle cx="212.4" cy="268.1" r="1.5" fill="#62ae40"/><circle cx="211.2" cy="273.4" r="1.2" fill="#86cb56"/><circle cx="181.7" cy="298.4" r="1.9" fill="#70bc47"/><circle cx="188.2" cy="298.5" r="1.4" fill="#4f9a35"/><circle cx="210.6" cy="307.9" r="1.0" fill="#5faa3e"/><circle cx="194.6" cy="305.1" r="1.8" fill="#73bf49"/><circle cx="204.2" cy="279.8" r="1.3" fill="#b0e074"/><circle cx="224.7" cy="284.4" r="1.3" fill="#62ad40"/><circle cx="218.0" cy="277.2" r="2.1" fill="#70bc47"/><circle cx="193.1" cy="280.1" r="2.1" fill="#77c34b"/><circle cx="198.2" cy="307.4" r="1.2" fill="#4a9432"/><circle cx="182.1" cy="295.6" r="1.5" fill="#a1d86a"/><circle cx="213.2" cy="300.0" r="2.0" fill="#4a9432"/><circle cx="214.8" cy="280.4" r="2.2" fill="#69b443"/><circle cx="213.4" cy="272.4" r="2.1" fill="#b8e47a"/><circle cx="210.2" cy="278.2" r="1.7" fill="#71bd48"/><circle cx="195.3" cy="281.7" r="2.1" fill="#acde71"/><circle cx="199.7" cy="295.4" r="1.9" fill="#509a35"/><circle cx="224.2" cy="284.8" r="2.2" fill="#73bf49"/><circle cx="197.9" cy="297.9" r="1.0" fill="#4a9432"/><circle cx="223.4" cy="263.7" r="1.5" fill="#b8e47a"/><circle cx="219.2" cy="276.2" r="2.0" fill="#b5e277"/><circle cx="192.1" cy="282.4" r="1.7" fill="#a5da6d"/><circle cx="193.8" cy="277.6" r="2.1" fill="#6ab644"/><circle cx="209.8" cy="264.8" r="1.5" fill="#8fcf5c"/><circle cx="206.7" cy="308.3" r="1.3" fill="#4a9432"/><circle cx="194.8" cy="290.6" r="2.0" fill="#a9dc6f"/><circle cx="191.8" cy="278.4" r="1.9" fill="#a6db6d"/><circle cx="204.6" cy="287.9" r="2.1" fill="#99d463"/><circle cx="193.5" cy="277.0" r="2.2" fill="#b8e47a"/><circle cx="203.2" cy="309.2" r="2.2" fill="#4a9432"/><circle cx="220.0" cy="278.9" r="1.8" fill="#509a35"/><circle cx="198.4" cy="284.6" r="1.6" fill="#4d9733"/><circle cx="216.3" cy="290.0" r="1.2" fill="#4a9432"/><circle cx="198.9" cy="299.0" r="1.1" fill="#8acd58"/><circle cx="207.4" cy="273.6" r="1.3" fill="#b8e47a"/><circle cx="212.8" cy="288.0" r="1.1" fill="#9dd666"/><circle cx="190.9" cy="308.0" r="2.0" fill="#4a9432"/><circle cx="229.2" cy="282.4" r="1.7" fill="#5ca73c"/><circle cx="185.7" cy="300.1" r="1.6" fill="#4a9432"/><circle cx="203.7" cy="281.2" r="2.0" fill="#58a23a"/><circle cx="226.6" cy="284.2" r="1.4" fill="#8cce5a"/><circle cx="209.0" cy="289.3" r="1.7" fill="#65b141"/><circle cx="198.7" cy="293.6" r="1.4" fill="#75c14a"/><circle cx="204.9" cy="291.2" r="2.2" fill="#62ad3f"/><circle cx="183.3" cy="294.0" r="1.9" fill="#4a9432"/><circle cx="208.7" cy="279.3" r="2.1" fill="#89cc58"/><circle cx="226.3" cy="280.1" r="2.0" fill="#72be49"/><circle cx="196.5" cy="300.2" r="1.4" fill="#5ca73c"/><circle cx="195.3" cy="281.8" r="1.2" fill="#b8e47a"/><circle cx="189.4" cy="306.2" r="1.3" fill="#4d9733"/><circle cx="205.4" cy="299.7" r="1.5" fill="#4a9432"/><circle cx="222.0" cy="285.7" r="1.6" fill="#56a139"/><circle cx="198.1" cy="298.8" r="1.1" fill="#4a9432"/><circle cx="207.6" cy="288.4" r="2.1" fill="#76c24b"/><circle cx="207.8" cy="282.1" r="1.1" fill="#66b142"/><circle cx="203.2" cy="302.6" r="1.9" fill="#4a9432"/><circle cx="215.6" cy="263.8" r="1.8" fill="#b6e379"/><circle cx="191.5" cy="286.9" r="1.1" fill="#529c36"/><circle cx="197.3" cy="308.8" r="1.6" fill="#65b041"/><circle cx="199.2" cy="307.8" r="1.3" fill="#4a9432"/><circle cx="204.0" cy="308.2" r="1.3" fill="#4a9432"/><circle cx="220.9" cy="277.5" r="1.0" fill="#77c34b"/><circle cx="189.9" cy="288.7" r="1.9" fill="#76c24b"/><circle cx="226.1" cy="271.6" r="1.8" fill="#a7db6e"/><circle cx="185.3" cy="289.8" r="2.2" fill="#69b443"/><circle cx="206.6" cy="292.5" r="1.5" fill="#88cc58"/><circle cx="190.6" cy="297.2" r="1.3" fill="#76c24a"/><circle cx="196.2" cy="284.9" r="1.7" fill="#8cce5a"/><circle cx="216.7" cy="288.4" r="1.4" fill="#9bd565"/><circle cx="216.5" cy="294.5" r="2.1" fill="#4a9432"/><circle cx="192.9" cy="286.2" r="1.2" fill="#8cce5a"/><circle cx="217.3" cy="290.0" r="1.3" fill="#549e37"/><circle cx="185.6" cy="290.2" r="1.5" fill="#519b35"/><circle cx="192.2" cy="292.8" r="1.3" fill="#9dd667"/><circle cx="194.5" cy="292.1" r="1.0" fill="#68b343"/><circle cx="188.8" cy="301.3" r="1.0" fill="#4d9834"/><circle cx="177.9" cy="298.9" r="1.4" fill="#93d15f"/><circle cx="213.2" cy="272.3" r="1.3" fill="#73bf49"/><circle cx="205.5" cy="276.7" r="1.4" fill="#59a43a"/><circle cx="223.6" cy="294.3" r="1.7" fill="#4a9432"/><circle cx="227.8" cy="281.3" r="1.7" fill="#5ea93d"/><circle cx="206.2" cy="290.0" r="1.5" fill="#65b041"/><circle cx="205.0" cy="268.6" r="1.5" fill="#b8e47a"/><circle cx="207.4" cy="272.8" r="1.6" fill="#b3e176"/><circle cx="202.8" cy="281.2" r="1.4" fill="#b7e379"/><circle cx="214.2" cy="288.9" r="2.0" fill="#62ad3f"/><circle cx="218.6" cy="296.7" r="1.4" fill="#84ca54"/><circle cx="216.0" cy="267.6" r="1.2" fill="#67b242"/><circle cx="228.4" cy="270.9" r="2.0" fill="#62ad3f"/><circle cx="183.1" cy="305.7" r="1.5" fill="#61ac3f"/><circle cx="180.4" cy="292.1" r="1.8" fill="#8dce5b"/><circle cx="223.4" cy="292.2" r="2.1" fill="#92d15e"/><circle cx="196.9" cy="289.9" r="1.6" fill="#4c9633"/><circle cx="222.1" cy="291.9" r="2.1" fill="#64af40"/><circle cx="198.7" cy="292.3" r="1.6" fill="#9fd768"/><circle cx="175.4" cy="297.7" r="1.1" fill="#a9dc6f"/><circle cx="205.0" cy="278.6" r="2.2" fill="#a3d96b"/><circle cx="188.4" cy="303.5" r="1.7" fill="#6fba46"/><circle cx="192.8" cy="307.4" r="1.8" fill="#5da83d"/><circle cx="196.7" cy="275.2" r="1.5" fill="#6ab644"/><circle cx="217.1" cy="293.9" r="1.1" fill="#5ba63b"/><circle cx="183.8" cy="294.4" r="1.4" fill="#6bb745"/><circle cx="197.1" cy="304.9" r="1.9" fill="#6eb946"/><circle cx="222.4" cy="284.4" r="1.6" fill="#6cb845"/><circle cx="185.2" cy="283.2" r="1.7" fill="#7ac54d"/><circle cx="221.3" cy="295.7" r="1.3" fill="#4a9432"/><circle cx="212.9" cy="299.5" r="1.6" fill="#4a9432"/><circle cx="194.6" cy="272.2" r="2.1" fill="#74c049"/><circle cx="233.5" cy="268.7" r="1.6" fill="#79c44d"/><circle cx="199.9" cy="302.7" r="1.9" fill="#4a9432"/><circle cx="217.1" cy="297.0" r="1.6" fill="#4b9532"/><circle cx="188.6" cy="301.9" r="1.8" fill="#7ec750"/><circle cx="197.4" cy="289.8" r="1.6" fill="#60ab3e"/><circle cx="199.2" cy="291.7" r="1.8" fill="#4a9432"/><circle cx="193.1" cy="288.4" r="1.6" fill="#74c04a"/><circle cx="199.3" cy="268.2" r="1.5" fill="#b5e278"/><circle cx="185.6" cy="303.9" r="1.2" fill="#65b041"/><circle cx="208.7" cy="305.5" r="1.7" fill="#4a9432"/><circle cx="219.1" cy="277.5" r="1.3" fill="#afdf73"/><circle cx="195.0" cy="274.4" r="1.2" fill="#9ad564"/><circle cx="185.4" cy="303.1" r="1.2" fill="#58a23a"/><circle cx="200.0" cy="307.0" r="1.7" fill="#4a9432"/><circle cx="197.7" cy="269.8" r="1.1" fill="#8dce5b"/><circle cx="222.5" cy="262.2" r="1.5" fill="#7ec750"/><circle cx="216.0" cy="291.5" r="1.6" fill="#87cb57"/><circle cx="197.0" cy="274.7" r="2.2" fill="#78c44c"/><circle cx="195.5" cy="305.1" r="1.9" fill="#6ab544"/><circle cx="194.9" cy="288.4" r="2.0" fill="#a8dc6f"/><circle cx="186.2" cy="284.5" r="2.0" fill="#9dd666"/><circle cx="210.3" cy="292.8" r="1.3" fill="#4c9633"/><circle cx="192.9" cy="303.7" r="1.8" fill="#4a9432"/><circle cx="212.9" cy="272.5" r="1.6" fill="#b8e47a"/><circle cx="181.4" cy="298.4" r="1.0" fill="#7ac54d"/><circle cx="221.1" cy="279.8" r="1.7" fill="#74c049"/><circle cx="189.9" cy="294.1" r="2.1" fill="#5aa43b"/><circle cx="204.7" cy="306.0" r="1.9" fill="#4a9432"/><circle cx="199.5" cy="274.0" r="2.0" fill="#b8e47a"/><circle cx="186.5" cy="304.3" r="2.1" fill="#55a038"/><circle cx="199.6" cy="283.3" r="1.7" fill="#509a35"/><circle cx="185.0" cy="287.0" r="1.2" fill="#74c04a"/><circle cx="195.7" cy="307.3" r="1.9" fill="#4a9432"/><circle cx="201.9" cy="304.9" r="1.2" fill="#6bb745"/><circle cx="230.1" cy="274.7" r="1.6" fill="#b8e47a"/><circle cx="213.7" cy="280.7" r="1.6" fill="#529d37"/><circle cx="230.3" cy="285.2" r="1.7" fill="#6bb745"/><circle cx="210.1" cy="305.8" r="2.0" fill="#5ea93d"/><circle cx="222.8" cy="290.7" r="1.7" fill="#86cb56"/><circle cx="194.2" cy="279.3" r="1.8" fill="#7ec750"/><circle cx="209.7" cy="285.7" r="2.0" fill="#62ad40"/><circle cx="193.0" cy="287.0" r="2.2" fill="#58a33a"/><circle cx="212.7" cy="304.1" r="2.2" fill="#61ac3f"/><circle cx="207.7" cy="290.6" r="1.1" fill="#5ca73c"/><circle cx="190.8" cy="298.9" r="1.3" fill="#73bf49"/><circle cx="190.5" cy="285.4" r="1.4" fill="#63ae40"/><circle cx="224.8" cy="263.1" r="2.1" fill="#b8e47a"/><circle cx="200.9" cy="279.0" r="1.0" fill="#68b343"/><circle cx="192.9" cy="300.2" r="1.0" fill="#4a9432"/><circle cx="210.1" cy="295.5" r="1.5" fill="#4a9432"/><circle cx="210.0" cy="265.7" r="1.2" fill="#b8e47a"/><circle cx="218.6" cy="271.1" r="1.0" fill="#5ea93d"/><circle cx="189.0" cy="289.4" r="1.9" fill="#b7e379"/><circle cx="178.3" cy="303.9" r="1.6" fill="#8dce5b"/><circle cx="203.9" cy="279.4" r="1.8" fill="#8ecf5c"/><circle cx="231.8" cy="282.4" r="1.0" fill="#6bb745"/><circle cx="212.4" cy="295.5" r="1.5" fill="#4a9432"/><circle cx="217.6" cy="277.9" r="1.5" fill="#b8e47a"/><circle cx="208.5" cy="289.3" r="1.6" fill="#68b343"/><circle cx="215.9" cy="290.7" r="1.5" fill="#4a9432"/><circle cx="202.7" cy="304.8" r="1.6" fill="#4a9432"/><circle cx="208.5" cy="303.3" r="1.3" fill="#4a9432"/><circle cx="192.5" cy="292.3" r="1.5" fill="#a5da6c"/><circle cx="229.2" cy="271.8" r="1.8" fill="#89cc58"/><circle cx="212.4" cy="280.1" r="1.8" fill="#7ec750"/><circle cx="195.4" cy="302.2" r="1.9" fill="#89cc58"/><circle cx="219.7" cy="275.9" r="1.4" fill="#b8e47a"/><circle cx="210.1" cy="302.3" r="1.3" fill="#4a9432"/><circle cx="181.1" cy="297.0" r="1.7" fill="#4a9432"/><circle cx="217.1" cy="269.1" r="1.6" fill="#70bc47"/><circle cx="209.2" cy="279.1" r="1.5" fill="#9ad564"/><circle cx="206.2" cy="284.4" r="1.1" fill="#539d37"/><circle cx="211.3" cy="293.0" r="1.3" fill="#56a038"/><circle cx="197.9" cy="270.6" r="2.2" fill="#b8e47a"/><circle cx="192.4" cy="286.4" r="1.0" fill="#65b141"/><circle cx="196.4" cy="289.5" r="1.6" fill="#4e9834"/><circle cx="193.0" cy="292.2" r="1.4" fill="#63ae40"/><circle cx="207.5" cy="274.2" r="1.4" fill="#b8e47a"/><circle cx="204.6" cy="306.9" r="1.9" fill="#4a9432"/><circle cx="196.5" cy="271.7" r="1.6" fill="#b8e47a"/><circle cx="176.9" cy="299.2" r="1.1" fill="#4a9432"/><circle cx="207.7" cy="272.8" r="1.3" fill="#b8e47a"/><circle cx="228.9" cy="272.1" r="1.5" fill="#77c34b"/><circle cx="193.9" cy="281.4" r="1.2" fill="#b8e47a"/><circle cx="213.3" cy="300.9" r="1.2" fill="#6ab544"/><circle cx="182.2" cy="304.8" r="1.1" fill="#76c24b"/><circle cx="210.1" cy="283.3" r="1.8" fill="#59a33a"/><circle cx="220.0" cy="265.4" r="2.0" fill="#65b141"/><circle cx="188.9" cy="282.3" r="1.0" fill="#a8dc6e"/><circle cx="195.0" cy="284.0" r="1.8" fill="#58a23a"/><circle cx="211.8" cy="306.5" r="1.5" fill="#539d37"/><circle cx="188.4" cy="304.7" r="2.1" fill="#4a9432"/><circle cx="211.1" cy="265.3" r="2.0" fill="#b8e47a"/><circle cx="228.8" cy="288.3" r="2.1" fill="#4a9432"/><circle cx="220.5" cy="279.4" r="1.4" fill="#77c34b"/><circle cx="198.0" cy="284.9" r="1.2" fill="#b8e47a"/><circle cx="212.5" cy="266.4" r="1.7" fill="#b8e47a"/><circle cx="187.8" cy="294.5" r="2.0" fill="#8ecf5c"/><circle cx="192.5" cy="282.6" r="2.1" fill="#76c24b"/><circle cx="216.1" cy="262.8" r="1.6" fill="#b8e47a"/><circle cx="222.3" cy="293.5" r="1.4" fill="#4d9734"/><circle cx="226.4" cy="277.0" r="1.4" fill="#81c853"/><circle cx="196.2" cy="308.0" r="1.3" fill="#6cb745"/><circle cx="192.6" cy="287.1" r="1.6" fill="#519c36"/><circle cx="200.2" cy="306.9" r="1.6" fill="#4a9432"/><circle cx="205.3" cy="278.6" r="1.1" fill="#89cc58"/><circle cx="185.9" cy="301.0" r="1.2" fill="#81c852"/><circle cx="211.4" cy="296.3" r="1.1" fill="#4a9432"/><circle cx="213.6" cy="269.8" r="1.7" fill="#acde71"/><circle cx="192.9" cy="285.4" r="1.1" fill="#b8e47a"/><circle cx="196.1" cy="289.8" r="1.1" fill="#9cd666"/><circle cx="193.1" cy="299.8" r="2.2" fill="#58a239"/><circle cx="211.1" cy="308.0" r="1.6" fill="#4a9432"/><circle cx="177.0" cy="295.2" r="1.0" fill="#4e9834"/><circle cx="192.7" cy="304.9" r="1.4" fill="#69b543"/><circle cx="191.6" cy="293.9" r="1.5" fill="#a0d869"/><circle cx="231.4" cy="271.0" r="1.8" fill="#98d463"/><circle cx="208.6" cy="290.7" r="1.8" fill="#5da73c"/><circle cx="193.3" cy="278.3" r="1.6" fill="#99d464"/><circle cx="208.7" cy="307.1" r="1.5" fill="#539d37"/><circle cx="188.3" cy="299.2" r="1.9" fill="#75c14a"/><circle cx="208.9" cy="297.5" r="2.0" fill="#4a9432"/><circle cx="208.5" cy="286.3" r="1.7" fill="#b0e074"/><circle cx="208.4" cy="299.8" r="1.7" fill="#72be48"/><circle cx="176.2" cy="298.9" r="1.5" fill="#4b9532"/><circle cx="216.3" cy="295.4" r="1.1" fill="#6ab644"/><circle cx="220.8" cy="278.6" r="1.5" fill="#a7db6d"/><circle cx="183.9" cy="286.0" r="1.3" fill="#b8e47a"/><circle cx="214.2" cy="287.0" r="2.2" fill="#4a9432"/><circle cx="207.9" cy="282.5" r="1.7" fill="#77c34b"/><circle cx="183.7" cy="292.9" r="1.7" fill="#4a9432"/><circle cx="222.6" cy="274.5" r="1.0" fill="#b3e176"/><circle cx="196.9" cy="295.0" r="1.7" fill="#509a35"/><circle cx="200.7" cy="303.8" r="2.0" fill="#58a23a"/><circle cx="176.4" cy="298.7" r="1.5" fill="#96d361"/><circle cx="200.9" cy="269.0" r="2.0" fill="#a9dc6f"/><circle cx="197.6" cy="309.2" r="1.2" fill="#4a9432"/><circle cx="210.7" cy="268.9" r="1.7" fill="#72be48"/><circle cx="223.3" cy="262.6" r="1.3" fill="#6bb644"/><circle cx="226.5" cy="283.3" r="1.1" fill="#4a9432"/><circle cx="231.6" cy="284.6" r="1.2" fill="#65b041"/><circle cx="207.1" cy="282.5" r="1.9" fill="#549e37"/><circle cx="211.5" cy="271.4" r="1.3" fill="#6bb644"/><circle cx="201.6" cy="307.2" r="1.1" fill="#6eb946"/><circle cx="196.6" cy="276.7" r="1.0" fill="#aedf73"/><circle cx="203.7" cy="283.5" r="1.4" fill="#60ab3e"/><circle cx="209.6" cy="276.2" r="1.2" fill="#68b443"/><circle cx="203.8" cy="283.5" r="1.6" fill="#77c34b"/><circle cx="206.8" cy="276.4" r="2.1" fill="#63ae40"/><circle cx="208.2" cy="294.0" r="1.4" fill="#4e9834"/><circle cx="210.3" cy="284.4" r="1.5" fill="#70bc48"/><circle cx="206.8" cy="271.0" r="1.2" fill="#b8e47a"/><circle cx="210.5" cy="272.5" r="2.1" fill="#6cb745"/><circle cx="220.9" cy="277.1" r="1.4" fill="#529d36"/><circle cx="195.8" cy="291.7" r="1.5" fill="#5ca73c"/><circle cx="198.0" cy="297.4" r="1.2" fill="#519b36"/><circle cx="197.5" cy="308.6" r="1.7" fill="#4a9432"/><circle cx="211.5" cy="280.2" r="1.4" fill="#64b041"/><circle cx="200.3" cy="303.5" r="1.5" fill="#75c14a"/><circle cx="220.5" cy="266.9" r="1.7" fill="#a1d869"/><circle cx="213.2" cy="297.5" r="2.1" fill="#4a9432"/><circle cx="209.9" cy="266.1" r="1.4" fill="#b8e47a"/><circle cx="187.8" cy="286.3" r="2.1" fill="#77c34b"/><circle cx="208.6" cy="266.9" r="1.2" fill="#b7e379"/><circle cx="229.3" cy="278.2" r="1.6" fill="#b0e074"/><circle cx="206.3" cy="307.8" r="1.2" fill="#4a9432"/>
<g fill="#56a03e"><circle cx="240.0" cy="282.0" r="8.0"/><circle cx="236.0" cy="270.0" r="7.0"/><circle cx="246.0" cy="274.0" r="8.0"/><circle cx="254.0" cy="283.0" r="9.0"/><circle cx="262.0" cy="295.0" r="7.5"/><circle cx="248.0" cy="295.0" r="12.0"/><circle cx="232.0" cy="290.0" r="11.0"/><circle cx="225.0" cy="303.0" r="8.0"/><circle cx="240.0" cy="307.0" r="8.0"/><circle cx="256.0" cy="306.0" r="7.0"/><circle cx="222.0" cy="294.0" r="8.0"/></g><circle cx="259.8" cy="301.7" r="1.4" fill="#2e6a2c"/><circle cx="245.6" cy="294.8" r="1.2" fill="#3d7e32"/><circle cx="234.7" cy="283.3" r="2.2" fill="#488d37"/><circle cx="266.9" cy="291.4" r="1.3" fill="#438735"/><circle cx="236.8" cy="279.2" r="2.1" fill="#99c97e"/><circle cx="240.6" cy="292.3" r="1.0" fill="#6dae54"/><circle cx="249.8" cy="271.8" r="2.0" fill="#468b37"/><circle cx="253.5" cy="311.0" r="1.9" fill="#2e6a2c"/><circle cx="254.7" cy="300.6" r="1.6" fill="#397931"/><circle cx="238.4" cy="311.9" r="2.0" fill="#2e6a2c"/><circle cx="243.2" cy="311.7" r="1.6" fill="#2e6a2c"/><circle cx="251.4" cy="271.0" r="1.3" fill="#468b37"/><circle cx="239.3" cy="290.0" r="1.7" fill="#418434"/><circle cx="239.7" cy="312.4" r="1.1" fill="#2e6a2c"/><circle cx="258.9" cy="301.2" r="1.2" fill="#2e6a2c"/><circle cx="248.5" cy="276.7" r="2.1" fill="#c4e3a7"/><circle cx="218.7" cy="298.3" r="2.1" fill="#99c97e"/><circle cx="219.4" cy="299.3" r="1.1" fill="#4e953a"/><circle cx="246.1" cy="302.1" r="1.4" fill="#539c3c"/><circle cx="255.5" cy="302.0" r="1.9" fill="#2e6a2c"/><circle cx="261.5" cy="300.1" r="1.3" fill="#36752f"/><circle cx="249.0" cy="279.1" r="1.5" fill="#d2ecb4"/><circle cx="244.3" cy="283.2" r="1.2" fill="#539c3c"/><circle cx="245.6" cy="284.7" r="1.7" fill="#d2ecb4"/><circle cx="223.5" cy="293.9" r="2.0" fill="#438735"/><circle cx="252.0" cy="275.9" r="1.6" fill="#88bf6e"/><circle cx="233.3" cy="268.0" r="1.3" fill="#7cb762"/><circle cx="240.3" cy="287.1" r="1.8" fill="#78b45e"/><circle cx="234.9" cy="289.6" r="1.1" fill="#488e38"/><circle cx="233.9" cy="290.4" r="1.1" fill="#95c679"/><circle cx="257.8" cy="281.8" r="2.1" fill="#50973b"/><circle cx="245.9" cy="277.6" r="1.4" fill="#397931"/><circle cx="260.1" cy="298.3" r="1.5" fill="#6aac51"/><circle cx="233.5" cy="288.2" r="1.7" fill="#9aca7f"/><circle cx="219.9" cy="292.9" r="1.6" fill="#5ca343"/><circle cx="254.7" cy="283.3" r="1.1" fill="#b1d794"/><circle cx="248.9" cy="304.0" r="1.6" fill="#2e6a2c"/><circle cx="230.2" cy="286.7" r="1.3" fill="#3f8133"/><circle cx="240.6" cy="287.8" r="2.0" fill="#2e6a2c"/><circle cx="238.3" cy="276.0" r="1.8" fill="#9ccb81"/><circle cx="265.0" cy="293.6" r="1.1" fill="#2e6a2c"/><circle cx="248.2" cy="268.9" r="1.3" fill="#d2ecb4"/><circle cx="249.6" cy="298.8" r="1.6" fill="#3f8234"/><circle cx="252.4" cy="275.9" r="1.6" fill="#3f8234"/><circle cx="251.6" cy="283.8" r="1.9" fill="#2e6a2c"/><circle cx="243.6" cy="269.8" r="1.0" fill="#b6db9a"/><circle cx="244.9" cy="309.6" r="1.6" fill="#448735"/><circle cx="237.9" cy="283.9" r="2.1" fill="#468b37"/><circle cx="251.7" cy="287.5" r="1.4" fill="#2e6a2c"/><circle cx="254.2" cy="297.6" r="2.0" fill="#2e6a2c"/><circle cx="221.9" cy="295.5" r="1.8" fill="#519a3c"/><circle cx="252.1" cy="309.7" r="2.0" fill="#2e6a2c"/><circle cx="253.2" cy="294.7" r="2.1" fill="#2e6a2c"/><circle cx="254.1" cy="293.7" r="2.0" fill="#5ca343"/><circle cx="216.5" cy="295.1" r="1.3" fill="#529b3c"/><circle cx="243.1" cy="287.2" r="2.2" fill="#92c577"/><circle cx="238.1" cy="307.2" r="1.9" fill="#2e6a2c"/><circle cx="238.1" cy="298.4" r="1.3" fill="#4c9239"/><circle cx="218.8" cy="302.5" r="1.5" fill="#2e6a2c"/><circle cx="249.8" cy="304.5" r="1.2" fill="#2e6a2c"/><circle cx="236.8" cy="277.9" r="1.7" fill="#d2ecb4"/><circle cx="241.4" cy="282.6" r="2.0" fill="#69ab50"/><circle cx="227.1" cy="297.0" r="1.6" fill="#478c37"/><circle cx="259.1" cy="278.4" r="2.0" fill="#4b9139"/><circle cx="248.5" cy="283.2" r="1.1" fill="#3a7a31"/><circle cx="247.3" cy="283.1" r="2.0" fill="#51993b"/><circle cx="257.5" cy="296.0" r="1.3" fill="#4a9038"/><circle cx="236.4" cy="274.5" r="2.1" fill="#d2ecb4"/><circle cx="231.5" cy="281.7" r="1.1" fill="#a5d089"/><circle cx="236.4" cy="271.0" r="1.4" fill="#badd9e"/><circle cx="235.4" cy="296.5" r="1.4" fill="#2e6a2c"/><circle cx="219.8" cy="298.6" r="1.4" fill="#50983b"/><circle cx="258.1" cy="296.2" r="2.0" fill="#438635"/><circle cx="254.0" cy="302.6" r="2.1" fill="#2e6a2c"/><circle cx="226.1" cy="295.6" r="1.4" fill="#3c7e32"/><circle cx="232.5" cy="271.4" r="1.4" fill="#498f38"/><circle cx="237.6" cy="310.3" r="2.2" fill="#458936"/><circle cx="229.7" cy="281.4" r="2.1" fill="#3e8033"/><circle cx="255.2" cy="285.6" r="1.3" fill="#498f38"/><circle cx="259.7" cy="283.1" r="1.8" fill="#79b55f"/><circle cx="245.9" cy="280.2" r="1.9" fill="#86be6c"/><circle cx="260.8" cy="285.2" r="1.2" fill="#377630"/><circle cx="240.4" cy="307.7" r="1.9" fill="#3d7e32"/><circle cx="245.8" cy="283.3" r="1.5" fill="#2f6c2c"/><circle cx="237.4" cy="295.5" r="2.0" fill="#529a3c"/><circle cx="245.0" cy="293.8" r="2.2" fill="#418434"/><circle cx="236.2" cy="284.2" r="1.1" fill="#549d3d"/><circle cx="223.0" cy="288.0" r="1.2" fill="#51993b"/><circle cx="239.1" cy="265.3" r="2.1" fill="#d2ecb4"/><circle cx="259.0" cy="290.2" r="2.1" fill="#377630"/><circle cx="231.5" cy="295.6" r="2.1" fill="#2e6a2c"/><circle cx="252.5" cy="289.4" r="1.2" fill="#2e6a2c"/><circle cx="246.9" cy="273.4" r="1.4" fill="#aed692"/><circle cx="234.7" cy="285.1" r="2.0" fill="#72b159"/><circle cx="258.3" cy="292.4" r="1.3" fill="#438735"/><circle cx="222.2" cy="300.0" r="1.8" fill="#35742f"/><circle cx="243.9" cy="296.8" r="1.9" fill="#377630"/><circle cx="251.6" cy="287.7" r="1.9" fill="#b1d895"/><circle cx="259.0" cy="307.1" r="1.0" fill="#2e6a2c"/><circle cx="247.4" cy="291.4" r="2.1" fill="#76b45d"/><circle cx="236.8" cy="277.8" r="2.0" fill="#d2ecb4"/><circle cx="251.5" cy="277.0" r="1.7" fill="#3e7f33"/><circle cx="233.6" cy="284.4" r="1.5" fill="#468b37"/><circle cx="248.9" cy="268.6" r="1.3" fill="#66a94d"/><circle cx="228.7" cy="291.1" r="1.6" fill="#58a140"/><circle cx="255.9" cy="299.4" r="1.5" fill="#2e6a2c"/><circle cx="236.2" cy="280.7" r="1.3" fill="#75b35b"/><circle cx="219.8" cy="287.7" r="1.6" fill="#b9dc9c"/><circle cx="243.5" cy="278.7" r="1.7" fill="#d1ebb3"/><circle cx="246.2" cy="297.6" r="1.8" fill="#2e6a2c"/><circle cx="259.9" cy="278.2" r="2.0" fill="#d2ecb4"/><circle cx="252.9" cy="280.5" r="1.5" fill="#64a84b"/><circle cx="243.9" cy="269.1" r="1.7" fill="#d2ecb4"/><circle cx="244.5" cy="311.4" r="1.6" fill="#2e6a2c"/><circle cx="257.6" cy="311.5" r="1.4" fill="#3e8033"/><circle cx="220.6" cy="300.0" r="1.7" fill="#2e6a2c"/><circle cx="251.5" cy="290.3" r="1.3" fill="#68ab4f"/><circle cx="216.6" cy="295.6" r="1.5" fill="#549e3d"/><circle cx="237.4" cy="282.5" r="1.3" fill="#b6da99"/><circle cx="241.0" cy="306.1" r="2.1" fill="#51993b"/><circle cx="251.8" cy="283.7" r="1.1" fill="#4f973b"/><circle cx="239.6" cy="290.1" r="1.7" fill="#377730"/><circle cx="251.7" cy="301.7" r="1.0" fill="#4a9038"/><circle cx="237.7" cy="269.0" r="1.4" fill="#d2ecb4"/><circle cx="241.3" cy="295.3" r="2.1" fill="#397931"/><circle cx="235.1" cy="269.6" r="1.8" fill="#d2ecb4"/><circle cx="237.3" cy="313.0" r="1.4" fill="#35742f"/><circle cx="265.2" cy="294.7" r="1.9" fill="#5da444"/><circle cx="247.4" cy="305.5" r="1.6" fill="#2e6a2c"/><circle cx="229.1" cy="307.2" r="1.8" fill="#67aa4e"/><circle cx="241.5" cy="294.9" r="1.5" fill="#488e38"/><circle cx="249.7" cy="277.9" r="1.0" fill="#3d7e32"/><circle cx="223.3" cy="304.6" r="1.5" fill="#2e6a2c"/><circle cx="239.0" cy="277.2" r="1.1" fill="#549e3d"/><circle cx="240.1" cy="290.5" r="2.1" fill="#529b3c"/><circle cx="236.5" cy="282.1" r="1.7" fill="#377630"/><circle cx="240.0" cy="285.8" r="2.1" fill="#59a241"/><circle cx="257.5" cy="297.0" r="1.7" fill="#539c3c"/><circle cx="243.3" cy="275.5" r="1.6" fill="#93c578"/><circle cx="221.6" cy="302.5" r="2.0" fill="#2e6a2c"/><circle cx="226.7" cy="307.4" r="1.7" fill="#2e6a2c"/><circle cx="243.3" cy="299.1" r="1.9" fill="#4f973b"/><circle cx="236.6" cy="297.8" r="1.6" fill="#3d7f33"/><circle cx="254.8" cy="284.7" r="2.1" fill="#4d953a"/><circle cx="254.3" cy="297.3" r="1.1" fill="#2e6a2c"/><circle cx="245.1" cy="295.7" r="2.2" fill="#448936"/><circle cx="246.2" cy="303.3" r="1.4" fill="#2e6a2c"/><circle cx="257.5" cy="280.8" r="1.8" fill="#b4d997"/><circle cx="248.3" cy="284.1" r="2.2" fill="#519a3c"/><circle cx="258.1" cy="284.0" r="1.7" fill="#306d2d"/><circle cx="233.1" cy="296.9" r="2.1" fill="#306c2c"/><circle cx="249.6" cy="298.0" r="1.0" fill="#438735"/><circle cx="236.2" cy="268.2" r="1.4" fill="#4e953a"/><circle cx="245.5" cy="301.6" r="2.0" fill="#4f973b"/><circle cx="245.2" cy="283.7" r="1.5" fill="#35732f"/><circle cx="228.4" cy="287.8" r="2.2" fill="#377630"/><circle cx="262.3" cy="296.5" r="1.3" fill="#34722e"/><circle cx="246.0" cy="271.0" r="2.0" fill="#d2ecb4"/><circle cx="243.2" cy="301.2" r="1.3" fill="#3c7d32"/><circle cx="239.2" cy="293.0" r="2.0" fill="#69ac50"/><circle cx="223.0" cy="305.8" r="1.3" fill="#2e6a2c"/><circle cx="244.3" cy="274.9" r="1.7" fill="#468b37"/><circle cx="239.7" cy="270.7" r="1.6" fill="#c2e2a4"/><circle cx="220.3" cy="299.8" r="2.0" fill="#2e6a2c"/><circle cx="246.1" cy="304.7" r="1.3" fill="#4e953a"/><circle cx="226.9" cy="292.8" r="1.1" fill="#4e963a"/><circle cx="257.9" cy="309.5" r="2.2" fill="#2e6a2c"/><circle cx="238.0" cy="266.0" r="1.6" fill="#67ab4f"/><circle cx="257.5" cy="277.5" r="2.1" fill="#d2ecb4"/><circle cx="215.8" cy="293.7" r="1.2" fill="#529b3c"/><circle cx="222.2" cy="295.4" r="2.0" fill="#418434"/><circle cx="239.3" cy="311.8" r="2.1" fill="#2e6a2c"/><circle cx="246.1" cy="281.0" r="1.9" fill="#36752f"/><circle cx="220.2" cy="291.9" r="1.0" fill="#d2ecb4"/><circle cx="247.6" cy="300.8" r="1.9" fill="#2e6a2c"/><circle cx="237.8" cy="277.9" r="1.8" fill="#d2ecb4"/><circle cx="258.9" cy="310.5" r="2.0" fill="#316e2d"/><circle cx="243.1" cy="309.5" r="1.1" fill="#2e6a2c"/><circle cx="265.7" cy="292.9" r="1.3" fill="#2e6a2c"/><circle cx="233.5" cy="297.5" r="1.4" fill="#2e6a2c"/><circle cx="265.4" cy="297.3" r="1.2" fill="#428535"/><circle cx="267.3" cy="297.5" r="1.8" fill="#5ca343"/><circle cx="231.4" cy="284.7" r="1.3" fill="#448735"/><circle cx="224.6" cy="291.2" r="1.1" fill="#33712e"/><circle cx="219.0" cy="297.7" r="1.9" fill="#408234"/><circle cx="241.3" cy="278.9" r="1.3" fill="#6eaf55"/><circle cx="236.2" cy="283.9" r="1.3" fill="#d0eab2"/><circle cx="229.4" cy="283.3" r="1.9" fill="#559f3d"/><circle cx="224.1" cy="292.0" r="1.3" fill="#6bad52"/><circle cx="234.2" cy="299.2" r="1.2" fill="#2e6a2c"/><circle cx="222.4" cy="289.9" r="1.4" fill="#3c7d32"/><circle cx="233.8" cy="288.1" r="1.9" fill="#387830"/><circle cx="257.9" cy="277.9" r="1.6" fill="#519a3c"/><circle cx="243.6" cy="279.4" r="1.0" fill="#d2ecb4"/><circle cx="236.5" cy="266.8" r="1.6" fill="#5ca343"/><circle cx="237.2" cy="296.5" r="1.3" fill="#70b057"/><circle cx="258.5" cy="301.7" r="1.5" fill="#2e6a2c"/><circle cx="239.5" cy="310.2" r="1.1" fill="#468b37"/><circle cx="240.0" cy="301.8" r="1.3" fill="#2e6a2c"/><circle cx="242.8" cy="310.5" r="1.4" fill="#2e6a2c"/><circle cx="257.1" cy="310.4" r="1.7" fill="#2e6a2c"/><circle cx="246.4" cy="283.6" r="1.1" fill="#35742f"/><circle cx="267.4" cy="296.9" r="1.2" fill="#397931"/><circle cx="233.9" cy="274.2" r="1.8" fill="#bcde9f"/><circle cx="226.4" cy="297.5" r="1.9" fill="#76b45d"/><circle cx="234.0" cy="306.9" r="1.7" fill="#2e6a2c"/><circle cx="255.0" cy="287.7" r="2.1" fill="#2e6a2c"/><circle cx="246.0" cy="293.8" r="1.0" fill="#83bb69"/><circle cx="220.7" cy="300.9" r="1.9" fill="#2e6a2c"/><circle cx="249.6" cy="297.5" r="1.3" fill="#438735"/><circle cx="252.4" cy="291.4" r="1.3" fill="#9dcb82"/><circle cx="221.4" cy="298.1" r="1.2" fill="#3a7a31"/><circle cx="267.2" cy="293.5" r="1.3" fill="#316f2d"/><circle cx="258.8" cy="292.5" r="1.4" fill="#36742f"/><circle cx="237.4" cy="297.5" r="1.4" fill="#3a7a31"/><circle cx="267.7" cy="295.7" r="1.5" fill="#2e6a2c"/><circle cx="241.2" cy="296.9" r="1.7" fill="#549e3d"/><circle cx="245.6" cy="287.9" r="1.2" fill="#9ac97e"/><circle cx="231.2" cy="297.2" r="1.2" fill="#498f38"/><circle cx="216.5" cy="293.8" r="1.4" fill="#519a3c"/><circle cx="226.2" cy="304.6" r="1.9" fill="#2e6a2c"/><circle cx="220.8" cy="307.3" r="1.1" fill="#6dae54"/><circle cx="244.8" cy="295.8" r="1.9" fill="#2e6a2c"/><circle cx="252.3" cy="290.0" r="1.3" fill="#448836"/><circle cx="255.9" cy="305.6" r="1.4" fill="#2e6a2c"/><circle cx="237.0" cy="296.8" r="2.0" fill="#3d7e32"/><circle cx="255.0" cy="308.7" r="1.2" fill="#428535"/><circle cx="234.2" cy="307.6" r="2.2" fill="#2e6a2c"/><circle cx="224.9" cy="295.6" r="1.5" fill="#2e6b2c"/><circle cx="244.4" cy="274.1" r="1.5" fill="#488d37"/><circle cx="238.1" cy="297.4" r="2.0" fill="#4e963a"/><circle cx="236.5" cy="285.2" r="1.8" fill="#448836"/><circle cx="252.0" cy="309.2" r="1.5" fill="#2e6a2c"/><circle cx="240.7" cy="283.8" r="1.3" fill="#c6e4a8"/><circle cx="254.5" cy="309.8" r="1.9" fill="#2e6a2c"/><circle cx="218.2" cy="299.3" r="1.9" fill="#2e6a2c"/><circle cx="225.1" cy="299.8" r="1.5" fill="#4b9139"/><circle cx="253.3" cy="298.5" r="1.8" fill="#549e3d"/><circle cx="223.8" cy="303.3" r="1.6" fill="#559f3d"/><circle cx="234.9" cy="291.8" r="1.1" fill="#326f2d"/><circle cx="221.3" cy="288.0" r="1.6" fill="#549e3d"/><circle cx="240.7" cy="297.1" r="2.0" fill="#3f8133"/><circle cx="218.8" cy="295.3" r="1.7" fill="#99c97e"/><circle cx="228.7" cy="304.3" r="1.7" fill="#33712e"/><circle cx="246.9" cy="283.4" r="1.7" fill="#306d2d"/><circle cx="223.5" cy="293.6" r="1.8" fill="#2e6a2c"/><circle cx="221.2" cy="294.2" r="1.1" fill="#8fc374"/><circle cx="255.9" cy="288.2" r="1.8" fill="#418334"/><circle cx="244.8" cy="284.5" r="1.6" fill="#7db763"/><circle cx="258.3" cy="280.5" r="1.8" fill="#438635"/><circle cx="236.9" cy="304.4" r="1.0" fill="#448735"/><circle cx="233.3" cy="285.0" r="2.0" fill="#4d953a"/><circle cx="225.4" cy="303.0" r="1.3" fill="#2e6a2c"/><circle cx="248.0" cy="273.7" r="1.1" fill="#408334"/><circle cx="238.4" cy="291.7" r="1.3" fill="#36752f"/><circle cx="243.1" cy="290.0" r="1.7" fill="#448836"/><circle cx="234.8" cy="282.9" r="2.2" fill="#81ba67"/><circle cx="240.4" cy="267.8" r="1.9" fill="#d2ecb4"/><circle cx="233.6" cy="286.4" r="1.3" fill="#3b7b31"/><circle cx="241.0" cy="296.1" r="1.2" fill="#2e6a2c"/><circle cx="256.2" cy="283.4" r="1.8" fill="#87be6d"/><circle cx="258.1" cy="276.5" r="1.3" fill="#89bf6e"/><circle cx="224.4" cy="308.8" r="1.0" fill="#66a94d"/><circle cx="219.4" cy="304.4" r="1.9" fill="#397931"/><circle cx="234.1" cy="284.3" r="1.5" fill="#d2ecb4"/><circle cx="216.9" cy="290.7" r="1.5" fill="#3d7e32"/><circle cx="251.8" cy="306.0" r="1.5" fill="#2e6a2c"/><circle cx="238.9" cy="276.7" r="2.0" fill="#529b3c"/><circle cx="265.0" cy="296.2" r="1.1" fill="#65a94c"/><circle cx="229.2" cy="305.5" r="1.2" fill="#4d9339"/><circle cx="239.0" cy="290.6" r="1.9" fill="#5ba343"/><circle cx="226.7" cy="288.3" r="1.8" fill="#559f3d"/><circle cx="256.0" cy="280.3" r="1.5" fill="#34722e"/><circle cx="240.8" cy="271.9" r="1.7" fill="#4b9139"/><circle cx="240.2" cy="277.4" r="1.3" fill="#d2ecb4"/><circle cx="247.8" cy="298.9" r="1.0" fill="#2e6b2c"/><circle cx="256.2" cy="299.5" r="1.6" fill="#2e6a2c"/><circle cx="244.2" cy="285.3" r="2.0" fill="#4e953a"/><circle cx="250.0" cy="303.9" r="1.7" fill="#418434"/><circle cx="222.6" cy="293.2" r="1.6" fill="#c8e6aa"/><circle cx="238.1" cy="309.1" r="1.0" fill="#468a36"/><circle cx="242.3" cy="280.6" r="1.7" fill="#83bb69"/><circle cx="254.9" cy="308.6" r="1.7" fill="#377630"/><circle cx="247.1" cy="299.0" r="1.6" fill="#36742f"/><circle cx="219.3" cy="298.3" r="1.4" fill="#4b9139"/><circle cx="251.2" cy="272.8" r="1.5" fill="#a9d38d"/><circle cx="251.7" cy="306.1" r="1.3" fill="#2e6a2c"/><circle cx="216.5" cy="292.2" r="1.9" fill="#6dae54"/><circle cx="221.4" cy="299.3" r="1.3" fill="#4f973b"/><circle cx="219.2" cy="302.7" r="1.7" fill="#418334"/><circle cx="241.8" cy="279.7" r="2.0" fill="#b7db9a"/><circle cx="234.9" cy="269.5" r="1.0" fill="#d2ecb4"/><circle cx="239.0" cy="295.9" r="2.2" fill="#2e6a2c"/><circle cx="240.9" cy="298.9" r="1.0" fill="#377730"/><circle cx="233.3" cy="288.6" r="1.9" fill="#62a74a"/><circle cx="256.9" cy="297.8" r="1.9" fill="#2e6a2c"/><circle cx="246.0" cy="294.3" r="1.9" fill="#3c7d32"/><circle cx="251.9" cy="286.7" r="1.5" fill="#377730"/><circle cx="253.9" cy="311.4" r="1.2" fill="#2e6a2c"/><circle cx="234.0" cy="283.7" r="1.2" fill="#408334"/><circle cx="231.4" cy="303.6" r="1.5" fill="#76b35c"/><circle cx="255.0" cy="290.8" r="1.0" fill="#51993b"/><circle cx="252.3" cy="275.1" r="2.2" fill="#66aa4d"/><circle cx="222.9" cy="299.1" r="1.6" fill="#498f38"/><circle cx="229.8" cy="287.9" r="1.9" fill="#4c9339"/><circle cx="246.5" cy="287.4" r="2.0" fill="#7fb965"/><circle cx="267.7" cy="296.8" r="1.2" fill="#34732f"/><circle cx="237.7" cy="304.4" r="1.5" fill="#448936"/><circle cx="235.8" cy="278.7" r="1.4" fill="#56a03e"/><circle cx="234.2" cy="268.5" r="1.9" fill="#d2ecb4"/><circle cx="230.1" cy="295.9" r="1.8" fill="#529a3c"/><circle cx="236.4" cy="271.0" r="1.7" fill="#4d953a"/><circle cx="252.7" cy="299.5" r="1.2" fill="#2e6a2c"/><circle cx="239.8" cy="291.6" r="1.8" fill="#3d7e32"/><circle cx="230.4" cy="303.0" r="1.2" fill="#3b7c32"/><circle cx="244.2" cy="281.0" r="1.2" fill="#549e3d"/><circle cx="233.8" cy="283.7" r="1.1" fill="#3c7e32"/><circle cx="239.9" cy="305.8" r="2.1" fill="#3b7c32"/><circle cx="223.8" cy="288.7" r="1.3" fill="#8abf6f"/><circle cx="237.6" cy="271.8" r="2.1" fill="#71b057"/><circle cx="242.5" cy="276.2" r="2.0" fill="#77b45d"/><circle cx="258.8" cy="295.9" r="1.0" fill="#2e6a2c"/><circle cx="235.9" cy="288.4" r="2.0" fill="#cfeab1"/><circle cx="241.9" cy="301.5" r="1.9" fill="#2e6a2c"/><circle cx="254.3" cy="296.5" r="1.9" fill="#3b7b31"/><circle cx="256.5" cy="278.1" r="1.2" fill="#418434"/><circle cx="241.0" cy="311.7" r="2.1" fill="#3f8234"/><circle cx="238.0" cy="301.4" r="1.1" fill="#559e3d"/><circle cx="223.6" cy="294.2" r="1.7" fill="#306c2c"/><circle cx="240.4" cy="282.5" r="1.9" fill="#5aa242"/><circle cx="249.8" cy="280.7" r="1.1" fill="#a1ce85"/><circle cx="233.1" cy="294.9" r="1.5" fill="#468b37"/><circle cx="255.7" cy="286.5" r="1.7" fill="#3d7e32"/><circle cx="235.4" cy="303.5" r="2.0" fill="#488d37"/><circle cx="241.8" cy="292.3" r="1.3" fill="#56a03e"/><circle cx="252.0" cy="284.7" r="1.3" fill="#4b9239"/><circle cx="250.3" cy="278.4" r="1.7" fill="#80ba66"/><circle cx="236.9" cy="268.5" r="1.7" fill="#acd48f"/><circle cx="263.0" cy="294.6" r="1.7" fill="#2e6a2c"/><circle cx="253.0" cy="296.2" r="1.9" fill="#2e6a2c"/><circle cx="236.3" cy="292.1" r="1.6" fill="#3c7e32"/>
<g fill="none" stroke="#4a4440" stroke-linecap="round"><path d="M343.0,362.5 C342.5,352.5 343.5,334.0 343.0,326.0" stroke-width="4.2"/><path d="M343.0,340.0 Q335.5,338.0 328.0,326.0" stroke-width="1.6"/><path d="M343.0,338.0 Q351.5,336.0 360.0,324.0" stroke-width="1.8"/></g>
<g fill="#66b243"><circle cx="343.0" cy="292.0" r="7.5"/><circle cx="334.0" cy="300.0" r="9.0"/><circle cx="352.0" cy="299.0" r="9.0"/><circle cx="326.0" cy="312.0" r="9.5"/><circle cx="343.0" cy="310.0" r="12.0"/><circle cx="360.0" cy="311.0" r="11.0"/><circle cx="319.0" cy="325.0" r="6.5"/><circle cx="333.0" cy="325.0" r="10.0"/><circle cx="352.0" cy="325.0" r="10.0"/><circle cx="368.0" cy="322.0" r="7.5"/><circle cx="374.0" cy="324.0" r="3.0"/></g><circle cx="328.2" cy="312.3" r="1.7" fill="#71b84d"/><circle cx="329.6" cy="296.2" r="1.6" fill="#519638"/><circle cx="366.5" cy="308.8" r="1.2" fill="#488933"/><circle cx="353.6" cy="329.1" r="1.9" fill="#356f2a"/><circle cx="361.5" cy="314.7" r="1.0" fill="#5da53e"/><circle cx="368.4" cy="308.6" r="2.1" fill="#407f30"/><circle cx="338.3" cy="325.6" r="2.1" fill="#468733"/><circle cx="353.1" cy="299.7" r="1.5" fill="#72b94e"/><circle cx="335.5" cy="314.4" r="2.1" fill="#509538"/><circle cx="356.6" cy="332.3" r="2.2" fill="#356f2a"/><circle cx="356.0" cy="292.5" r="2.2" fill="#589f3c"/><circle cx="366.2" cy="313.8" r="1.1" fill="#5ea73f"/><circle cx="318.7" cy="325.6" r="1.2" fill="#529739"/><circle cx="331.8" cy="324.0" r="1.1" fill="#356f2a"/><circle cx="359.0" cy="301.2" r="2.2" fill="#448432"/><circle cx="325.6" cy="305.2" r="1.2" fill="#64af42"/><circle cx="315.7" cy="329.1" r="2.2" fill="#569c3a"/><circle cx="342.5" cy="311.0" r="1.7" fill="#4e9237"/><circle cx="348.8" cy="316.2" r="1.6" fill="#356f2a"/><circle cx="340.6" cy="321.5" r="1.4" fill="#5fa93f"/><circle cx="339.6" cy="314.2" r="1.7" fill="#a4d67d"/><circle cx="353.1" cy="308.2" r="1.4" fill="#4b8e35"/><circle cx="358.2" cy="322.4" r="1.1" fill="#6cb549"/><circle cx="329.1" cy="307.7" r="1.4" fill="#5fa93f"/><circle cx="336.3" cy="300.3" r="1.7" fill="#9cd276"/><circle cx="332.2" cy="303.6" r="1.0" fill="#569c3a"/><circle cx="349.4" cy="322.2" r="1.3" fill="#539939"/><circle cx="325.0" cy="306.6" r="1.1" fill="#5aa13d"/><circle cx="333.6" cy="301.4" r="1.5" fill="#549939"/><circle cx="334.5" cy="317.8" r="1.5" fill="#356f2a"/><circle cx="346.9" cy="293.9" r="2.0" fill="#5ea73f"/><circle cx="364.7" cy="317.4" r="1.4" fill="#356f2a"/><circle cx="335.2" cy="305.7" r="1.5" fill="#7cbf58"/><circle cx="355.4" cy="311.0" r="1.4" fill="#6ab447"/><circle cx="350.7" cy="298.9" r="1.1" fill="#539839"/><circle cx="370.8" cy="320.1" r="2.1" fill="#356f2a"/><circle cx="355.4" cy="311.3" r="2.1" fill="#5ca53e"/><circle cx="352.2" cy="301.8" r="2.0" fill="#9dd277"/><circle cx="343.5" cy="324.7" r="1.2" fill="#4e9136"/><circle cx="347.2" cy="326.5" r="2.0" fill="#59a03c"/><circle cx="372.0" cy="325.9" r="1.0" fill="#356f2a"/><circle cx="353.2" cy="328.9" r="1.3" fill="#5ca53e"/><circle cx="330.2" cy="311.4" r="1.6" fill="#68b345"/><circle cx="318.5" cy="310.1" r="1.4" fill="#8fca6a"/><circle cx="335.5" cy="317.6" r="1.4" fill="#4a8c34"/><circle cx="320.9" cy="312.9" r="1.5" fill="#4e9237"/><circle cx="336.9" cy="315.4" r="1.5" fill="#3c792d"/><circle cx="364.3" cy="316.4" r="1.4" fill="#4d9036"/><circle cx="344.8" cy="320.5" r="1.8" fill="#4f9337"/><circle cx="342.5" cy="296.7" r="1.8" fill="#84c35f"/><circle cx="340.3" cy="329.7" r="1.4" fill="#356f2a"/><circle cx="370.5" cy="325.1" r="1.6" fill="#488a34"/><circle cx="320.9" cy="326.3" r="2.1" fill="#3a762c"/><circle cx="363.7" cy="318.7" r="1.7" fill="#356f2a"/><circle cx="319.6" cy="314.6" r="1.2" fill="#b8e290"/><circle cx="314.5" cy="327.8" r="2.0" fill="#6fb74b"/><circle cx="356.1" cy="327.5" r="1.7" fill="#356f2a"/><circle cx="362.1" cy="310.6" r="1.1" fill="#407e2f"/><circle cx="349.1" cy="327.1" r="1.2" fill="#509538"/><circle cx="329.0" cy="316.0" r="1.5" fill="#418030"/><circle cx="336.5" cy="304.6" r="1.5" fill="#8dc968"/><circle cx="318.3" cy="310.0" r="1.5" fill="#3e7c2e"/><circle cx="357.2" cy="323.3" r="1.6" fill="#356f2a"/><circle cx="344.0" cy="317.4" r="1.2" fill="#356f2a"/><circle cx="319.1" cy="322.9" r="1.6" fill="#356f2a"/><circle cx="325.7" cy="314.5" r="1.3" fill="#75bb51"/><circle cx="331.9" cy="320.7" r="2.0" fill="#559b3a"/><circle cx="350.4" cy="297.9" r="1.0" fill="#b6e18e"/><circle cx="343.7" cy="303.9" r="1.4" fill="#addb85"/><circle cx="333.6" cy="324.3" r="2.2" fill="#65b142"/><circle cx="343.7" cy="315.1" r="2.0" fill="#559c3a"/><circle cx="365.6" cy="313.0" r="1.9" fill="#4e9237"/><circle cx="342.9" cy="295.9" r="1.9" fill="#b8e290"/><circle cx="329.3" cy="329.0" r="1.5" fill="#509437"/><circle cx="318.9" cy="327.4" r="1.4" fill="#59a13c"/><circle cx="350.1" cy="319.1" r="1.4" fill="#86c461"/><circle cx="340.9" cy="309.3" r="1.7" fill="#91cb6b"/><circle cx="347.8" cy="290.2" r="1.8" fill="#b8e290"/><circle cx="320.2" cy="330.1" r="1.1" fill="#356f2a"/><circle cx="362.4" cy="323.4" r="1.8" fill="#4d8f36"/><circle cx="354.9" cy="325.9" r="1.9" fill="#4e9136"/><circle cx="347.3" cy="289.9" r="1.4" fill="#a4d67e"/><circle cx="359.0" cy="319.3" r="1.2" fill="#3e7b2e"/><circle cx="354.3" cy="316.8" r="2.1" fill="#69b345"/><circle cx="334.2" cy="321.5" r="1.7" fill="#428231"/><circle cx="354.4" cy="307.8" r="1.2" fill="#74ba51"/><circle cx="317.4" cy="321.2" r="1.7" fill="#3d7a2e"/><circle cx="360.3" cy="302.7" r="1.5" fill="#8ec968"/><circle cx="345.3" cy="296.9" r="1.4" fill="#5da53e"/><circle cx="334.3" cy="305.0" r="1.9" fill="#68b344"/><circle cx="335.6" cy="328.0" r="1.3" fill="#60aa40"/><circle cx="362.9" cy="321.8" r="1.2" fill="#59a03c"/><circle cx="339.7" cy="322.7" r="1.9" fill="#356f2a"/><circle cx="350.9" cy="291.6" r="1.2" fill="#acdb85"/><circle cx="346.8" cy="313.6" r="1.3" fill="#7abd56"/><circle cx="348.4" cy="314.3" r="2.2" fill="#468733"/><circle cx="356.9" cy="299.6" r="1.6" fill="#4a8c35"/><circle cx="351.5" cy="321.8" r="1.9" fill="#7abd56"/><circle cx="355.4" cy="309.6" r="1.6" fill="#569c3a"/><circle cx="325.4" cy="311.5" r="1.6" fill="#b8e290"/><circle cx="354.3" cy="307.1" r="2.2" fill="#579e3b"/><circle cx="363.7" cy="316.4" r="1.4" fill="#7abe56"/><circle cx="347.5" cy="332.4" r="2.0" fill="#407e2f"/><circle cx="367.9" cy="315.3" r="1.9" fill="#356f2a"/><circle cx="360.3" cy="301.9" r="2.1" fill="#498a34"/><circle cx="368.1" cy="306.7" r="1.6" fill="#417f30"/><circle cx="323.3" cy="309.9" r="1.6" fill="#549a3a"/><circle cx="340.0" cy="317.8" r="1.6" fill="#61ab40"/><circle cx="361.5" cy="304.9" r="2.1" fill="#94cd6e"/><circle cx="359.1" cy="303.1" r="1.6" fill="#78bc54"/><circle cx="351.2" cy="295.6" r="1.3" fill="#b8e290"/><circle cx="342.4" cy="294.2" r="1.2" fill="#b8e290"/><circle cx="338.8" cy="292.8" r="1.1" fill="#b8e290"/><circle cx="323.8" cy="309.5" r="1.0" fill="#b8e290"/><circle cx="341.7" cy="305.2" r="1.1" fill="#549a3a"/><circle cx="338.8" cy="304.6" r="2.2" fill="#b8e290"/><circle cx="343.4" cy="292.6" r="1.4" fill="#83c35e"/><circle cx="359.6" cy="298.3" r="1.6" fill="#529638"/><circle cx="329.0" cy="297.8" r="1.8" fill="#5ea83f"/><circle cx="332.5" cy="315.6" r="1.1" fill="#356f2a"/><circle cx="331.8" cy="328.2" r="1.5" fill="#61ac40"/><circle cx="334.4" cy="319.4" r="1.2" fill="#356f2a"/><circle cx="366.5" cy="312.8" r="1.4" fill="#356f2a"/><circle cx="339.5" cy="295.9" r="1.6" fill="#60aa40"/><circle cx="359.1" cy="315.5" r="1.5" fill="#38742b"/><circle cx="344.2" cy="292.0" r="1.0" fill="#73b94f"/><circle cx="328.2" cy="327.9" r="2.1" fill="#356f2a"/><circle cx="368.8" cy="307.4" r="1.9" fill="#356f2a"/><circle cx="334.4" cy="303.2" r="1.5" fill="#b8e290"/><circle cx="322.8" cy="317.5" r="1.0" fill="#509438"/><circle cx="327.1" cy="313.2" r="1.9" fill="#65b142"/><circle cx="351.7" cy="325.0" r="1.2" fill="#39752c"/><circle cx="327.3" cy="327.1" r="1.8" fill="#39752c"/><circle cx="335.1" cy="315.4" r="1.1" fill="#5ba33d"/><circle cx="366.5" cy="314.9" r="1.2" fill="#356f2a"/><circle cx="347.5" cy="308.1" r="1.1" fill="#4a8c34"/><circle cx="335.2" cy="309.2" r="1.7" fill="#b3df8b"/><circle cx="360.1" cy="306.0" r="1.7" fill="#4f9337"/><circle cx="326.7" cy="302.2" r="1.4" fill="#478833"/><circle cx="340.6" cy="288.4" r="1.2" fill="#b8e290"/><circle cx="372.6" cy="321.8" r="2.2" fill="#356f2a"/><circle cx="352.2" cy="332.4" r="1.5" fill="#356f2a"/><circle cx="362.5" cy="305.2" r="2.1" fill="#356f2a"/><circle cx="331.7" cy="332.6" r="1.1" fill="#539839"/><circle cx="359.2" cy="299.3" r="1.8" fill="#6ab447"/><circle cx="315.6" cy="322.7" r="1.5" fill="#65b142"/><circle cx="335.1" cy="322.6" r="1.3" fill="#356f2a"/><circle cx="339.3" cy="288.0" r="1.9" fill="#b8e290"/><circle cx="336.8" cy="292.4" r="1.6" fill="#b8e290"/><circle cx="346.7" cy="312.2" r="2.0" fill="#63ae41"/><circle cx="331.3" cy="308.1" r="2.0" fill="#448331"/><circle cx="332.0" cy="296.6" r="1.0" fill="#60aa40"/><circle cx="321.4" cy="311.6" r="1.2" fill="#60aa40"/><circle cx="362.3" cy="308.2" r="1.9" fill="#356f2a"/><circle cx="340.7" cy="301.6" r="1.7" fill="#b8e290"/><circle cx="328.8" cy="325.7" r="1.3" fill="#4d9036"/><circle cx="353.2" cy="319.1" r="2.0" fill="#356f2a"/><circle cx="345.6" cy="327.2" r="1.3" fill="#36712a"/><circle cx="354.2" cy="330.6" r="1.6" fill="#356f2a"/><circle cx="355.6" cy="332.3" r="1.7" fill="#356f2a"/><circle cx="339.5" cy="311.0" r="1.2" fill="#93cc6d"/><circle cx="348.0" cy="305.2" r="1.5" fill="#7ec05a"/><circle cx="364.4" cy="307.5" r="1.2" fill="#356f2a"/><circle cx="333.2" cy="311.1" r="2.0" fill="#68b345"/><circle cx="349.8" cy="312.6" r="1.3" fill="#569c3a"/><circle cx="336.8" cy="310.8" r="2.2" fill="#3b782d"/><circle cx="354.2" cy="294.1" r="1.2" fill="#509438"/><circle cx="337.5" cy="327.1" r="1.3" fill="#4f9337"/><circle cx="333.3" cy="304.4" r="1.2" fill="#9fd379"/><circle cx="346.7" cy="322.6" r="1.8" fill="#356f2a"/><circle cx="343.9" cy="297.9" r="1.1" fill="#7bbe57"/><circle cx="356.2" cy="317.6" r="1.1" fill="#6bb447"/><circle cx="325.1" cy="326.8" r="1.1" fill="#356f2a"/><circle cx="337.5" cy="289.6" r="2.2" fill="#b8e290"/><circle cx="335.6" cy="331.6" r="1.2" fill="#5da53e"/><circle cx="344.0" cy="320.6" r="1.0" fill="#59a03c"/><circle cx="335.1" cy="322.9" r="1.7" fill="#356f2a"/><circle cx="342.7" cy="312.0" r="1.6" fill="#5ea73f"/><circle cx="351.0" cy="332.5" r="1.2" fill="#356f2a"/><circle cx="356.9" cy="311.3" r="1.1" fill="#3c792d"/><circle cx="347.6" cy="306.9" r="1.7" fill="#a1d47a"/><circle cx="333.7" cy="310.3" r="1.4" fill="#73b94f"/><circle cx="335.9" cy="315.3" r="2.1" fill="#356f2a"/><circle cx="368.2" cy="327.4" r="2.2" fill="#438231"/><circle cx="345.1" cy="322.1" r="1.8" fill="#539839"/><circle cx="342.0" cy="308.8" r="2.0" fill="#5ca53e"/><circle cx="341.3" cy="316.1" r="1.5" fill="#8fca6a"/><circle cx="367.2" cy="324.4" r="2.0" fill="#5da63e"/><circle cx="336.5" cy="295.2" r="2.1" fill="#8ec969"/><circle cx="340.6" cy="329.1" r="1.4" fill="#356f2a"/><circle cx="332.2" cy="310.3" r="1.4" fill="#70b74c"/><circle cx="354.7" cy="329.5" r="1.2" fill="#356f2a"/><circle cx="327.1" cy="303.3" r="1.2" fill="#68b345"/><circle cx="347.5" cy="331.9" r="1.9" fill="#356f2a"/><circle cx="366.0" cy="327.6" r="1.5" fill="#356f2a"/><circle cx="331.4" cy="293.9" r="1.7" fill="#64af42"/><circle cx="330.5" cy="304.2" r="1.5" fill="#75ba51"/><circle cx="353.2" cy="318.3" r="1.1" fill="#4e9136"/><circle cx="343.7" cy="305.9" r="2.0" fill="#418030"/><circle cx="334.2" cy="305.8" r="2.1" fill="#61ac40"/><circle cx="325.9" cy="304.4" r="1.8" fill="#b8e290"/><circle cx="346.5" cy="313.8" r="1.3" fill="#90cb6b"/><circle cx="347.5" cy="298.8" r="1.8" fill="#458532"/><circle cx="346.8" cy="294.5" r="2.1" fill="#b8e290"/><circle cx="321.5" cy="311.6" r="1.4" fill="#59a03c"/><circle cx="367.9" cy="322.4" r="1.1" fill="#549a3a"/><circle cx="340.7" cy="300.2" r="2.0" fill="#b8e290"/><circle cx="326.8" cy="326.8" r="1.1" fill="#356f2a"/><circle cx="337.6" cy="328.3" r="1.1" fill="#356f2a"/><circle cx="338.7" cy="304.2" r="1.3" fill="#afdd88"/><circle cx="329.9" cy="320.1" r="1.1" fill="#5ea73f"/><circle cx="327.1" cy="307.0" r="1.3" fill="#64af42"/><circle cx="357.8" cy="295.2" r="1.7" fill="#63ae41"/><circle cx="338.2" cy="312.1" r="1.8" fill="#529739"/><circle cx="341.3" cy="286.9" r="2.0" fill="#7dbf58"/><circle cx="344.4" cy="314.1" r="2.1" fill="#6db649"/><circle cx="356.9" cy="295.5" r="2.2" fill="#559c3a"/><circle cx="343.9" cy="293.3" r="1.4" fill="#6cb649"/><circle cx="359.9" cy="314.3" r="1.6" fill="#7cbf57"/><circle cx="367.5" cy="308.8" r="2.0" fill="#509438"/><circle cx="341.6" cy="309.6" r="2.0" fill="#579d3b"/><circle cx="361.7" cy="312.7" r="2.1" fill="#60aa40"/><circle cx="369.6" cy="312.2" r="2.0" fill="#356f2a"/><circle cx="360.0" cy="302.2" r="1.7" fill="#65b142"/><circle cx="329.0" cy="320.3" r="1.5" fill="#4a8c35"/><circle cx="320.0" cy="312.8" r="1.9" fill="#82c25d"/><circle cx="324.0" cy="304.5" r="1.5" fill="#b8e290"/><circle cx="325.9" cy="310.3" r="1.1" fill="#a5d77e"/><circle cx="347.4" cy="332.0" r="1.6" fill="#356f2a"/><circle cx="330.7" cy="300.3" r="1.1" fill="#4e9136"/><circle cx="340.8" cy="297.6" r="1.2" fill="#4c8f36"/><circle cx="349.6" cy="310.6" r="1.3" fill="#84c460"/><circle cx="319.3" cy="320.6" r="1.3" fill="#3d7b2e"/><circle cx="333.9" cy="323.6" r="1.8" fill="#65b042"/><circle cx="330.2" cy="310.5" r="2.0" fill="#76bb52"/><circle cx="360.7" cy="310.2" r="1.5" fill="#448331"/><circle cx="347.8" cy="314.5" r="1.1" fill="#5ca43e"/><circle cx="323.9" cy="317.3" r="1.9" fill="#80c15b"/><circle cx="367.3" cy="321.8" r="1.1" fill="#468733"/><circle cx="348.6" cy="322.8" r="1.2" fill="#356f2a"/><circle cx="360.3" cy="309.2" r="1.2" fill="#418030"/><circle cx="347.8" cy="318.8" r="1.2" fill="#417f30"/><circle cx="321.8" cy="316.5" r="1.2" fill="#38742b"/><circle cx="363.3" cy="304.3" r="2.2" fill="#62ad41"/><circle cx="352.1" cy="297.7" r="1.0" fill="#5ea73f"/><circle cx="331.0" cy="320.3" r="1.0" fill="#74ba50"/><circle cx="346.2" cy="301.0" r="1.1" fill="#428231"/><circle cx="364.3" cy="304.2" r="1.5" fill="#438231"/><circle cx="355.7" cy="301.0" r="1.5" fill="#a2d57b"/><circle cx="327.7" cy="305.6" r="1.4" fill="#b8e290"/><circle cx="349.7" cy="312.4" r="1.3" fill="#4d8f36"/><circle cx="334.7" cy="294.2" r="1.3" fill="#90ca6a"/><circle cx="361.8" cy="315.3" r="1.9" fill="#3c782d"/><circle cx="346.4" cy="306.2" r="1.1" fill="#85c460"/><circle cx="363.8" cy="310.0" r="2.1" fill="#8cc867"/><circle cx="350.2" cy="316.4" r="1.2" fill="#539839"/><circle cx="320.8" cy="310.0" r="1.3" fill="#6db649"/><circle cx="332.5" cy="308.6" r="1.4" fill="#8bc765"/><circle cx="321.5" cy="316.5" r="2.2" fill="#9ed378"/><circle cx="360.7" cy="311.6" r="1.6" fill="#3a762c"/><circle cx="356.1" cy="310.6" r="1.0" fill="#356f2a"/><circle cx="358.5" cy="313.1" r="1.6" fill="#59a13c"/><circle cx="332.6" cy="322.4" r="1.6" fill="#5fa93f"/><circle cx="329.4" cy="302.6" r="1.9" fill="#64af41"/><circle cx="350.4" cy="315.8" r="1.2" fill="#65b142"/><circle cx="345.1" cy="297.3" r="1.7" fill="#529738"/><circle cx="334.8" cy="306.4" r="1.9" fill="#b8e290"/><circle cx="361.1" cy="302.9" r="1.3" fill="#4e9136"/><circle cx="325.6" cy="315.5" r="1.9" fill="#4e9136"/><circle cx="319.6" cy="323.8" r="1.5" fill="#4f9337"/><circle cx="345.2" cy="306.5" r="1.5" fill="#9ad074"/><circle cx="354.3" cy="321.2" r="1.2" fill="#356f2a"/><circle cx="370.0" cy="325.6" r="2.2" fill="#356f2a"/><circle cx="321.8" cy="324.4" r="1.1" fill="#356f2a"/><circle cx="351.1" cy="333.2" r="2.0" fill="#3f7d2f"/><circle cx="366.1" cy="306.0" r="1.5" fill="#70b74c"/><circle cx="333.3" cy="304.0" r="1.3" fill="#428131"/><circle cx="318.5" cy="330.2" r="1.3" fill="#58a03c"/><circle cx="332.4" cy="295.2" r="1.7" fill="#93cc6e"/><circle cx="338.5" cy="310.4" r="2.0" fill="#7dbf59"/><circle cx="372.8" cy="323.2" r="1.1" fill="#356f2a"/><circle cx="329.0" cy="294.6" r="2.2" fill="#b8e290"/><circle cx="348.7" cy="290.1" r="1.1" fill="#b0dd88"/><circle cx="331.4" cy="333.2" r="2.1" fill="#519538"/><circle cx="332.9" cy="318.6" r="2.1" fill="#86c561"/><circle cx="338.5" cy="301.9" r="1.7" fill="#60aa40"/><circle cx="347.8" cy="305.2" r="1.3" fill="#82c25e"/><circle cx="344.1" cy="324.5" r="1.9" fill="#468733"/><circle cx="343.9" cy="290.3" r="2.0" fill="#b8e290"/><circle cx="343.7" cy="303.9" r="2.0" fill="#68b345"/><circle cx="337.0" cy="302.8" r="1.0" fill="#91cb6c"/><circle cx="347.9" cy="308.9" r="1.5" fill="#5da63e"/><circle cx="320.3" cy="329.0" r="2.0" fill="#60aa40"/><circle cx="347.6" cy="327.6" r="2.1" fill="#356f2a"/><circle cx="337.3" cy="289.6" r="1.5" fill="#7cbf57"/><circle cx="360.6" cy="325.4" r="1.8" fill="#356f2a"/><circle cx="369.0" cy="312.5" r="2.1" fill="#80c15b"/><circle cx="326.5" cy="321.2" r="1.6" fill="#8fca6a"/><circle cx="358.1" cy="322.7" r="1.9" fill="#356f2a"/><circle cx="325.3" cy="311.9" r="1.3" fill="#38732b"/><circle cx="367.2" cy="307.1" r="1.8" fill="#559b3a"/><circle cx="321.7" cy="321.9" r="2.0" fill="#36702a"/><circle cx="331.0" cy="296.2" r="2.1" fill="#b8e290"/><circle cx="341.0" cy="304.3" r="1.8" fill="#68b345"/><circle cx="333.4" cy="301.5" r="1.9" fill="#5aa13c"/><circle cx="372.4" cy="321.9" r="1.5" fill="#356f2a"/><circle cx="335.5" cy="315.2" r="2.1" fill="#62ad41"/><circle cx="354.6" cy="307.8" r="1.7" fill="#4d9036"/><circle cx="352.5" cy="309.8" r="1.6" fill="#579d3b"/><circle cx="344.0" cy="307.0" r="1.2" fill="#4f9337"/><circle cx="348.9" cy="314.0" r="1.2" fill="#9ed378"/><circle cx="342.1" cy="313.4" r="1.8" fill="#6eb64a"/><circle cx="365.0" cy="318.9" r="1.5" fill="#78bc54"/><circle cx="344.3" cy="286.3" r="1.4" fill="#7bbe57"/><circle cx="331.8" cy="316.5" r="1.6" fill="#4e9137"/><circle cx="368.0" cy="311.0" r="1.1" fill="#5da63e"/><circle cx="348.4" cy="302.9" r="1.4" fill="#64b042"/><circle cx="367.5" cy="314.2" r="1.9" fill="#61ab40"/><circle cx="331.3" cy="297.0" r="2.0" fill="#5ba33d"/><circle cx="350.1" cy="291.7" r="1.8" fill="#a7d880"/><circle cx="357.7" cy="316.1" r="1.3" fill="#356f2a"/><circle cx="324.5" cy="325.5" r="1.9" fill="#73ba4f"/><circle cx="338.4" cy="329.6" r="1.8" fill="#356f2a"/><circle cx="330.0" cy="303.2" r="1.8" fill="#8ac765"/><circle cx="369.3" cy="322.5" r="1.8" fill="#356f2a"/><circle cx="335.8" cy="310.4" r="2.0" fill="#498b34"/><circle cx="336.7" cy="302.5" r="1.3" fill="#64af42"/><circle cx="354.5" cy="309.3" r="1.7" fill="#86c461"/><circle cx="323.6" cy="327.0" r="2.2" fill="#356f2a"/><circle cx="361.6" cy="304.4" r="1.8" fill="#91cb6b"/><circle cx="326.5" cy="323.4" r="2.0" fill="#448432"/><circle cx="335.8" cy="299.8" r="1.8" fill="#509337"/><circle cx="337.2" cy="313.2" r="1.8" fill="#5fa93f"/><circle cx="346.1" cy="298.8" r="2.1" fill="#468632"/><circle cx="325.4" cy="322.0" r="1.8" fill="#356f2a"/><circle cx="326.7" cy="321.5" r="1.4" fill="#4c8f36"/><circle cx="350.7" cy="307.3" r="1.9" fill="#519538"/><circle cx="349.5" cy="333.2" r="1.7" fill="#356f2a"/><circle cx="363.7" cy="316.4" r="1.4" fill="#407e2f"/><circle cx="346.6" cy="297.4" r="2.0" fill="#4d8f36"/><circle cx="337.6" cy="311.2" r="2.0" fill="#96ce70"/><circle cx="361.9" cy="323.5" r="2.0" fill="#5fa93f"/><circle cx="344.2" cy="287.1" r="2.1" fill="#b8e290"/><circle cx="353.0" cy="300.4" r="1.4" fill="#4f9237"/><circle cx="347.8" cy="328.7" r="1.4" fill="#356f2a"/><circle cx="350.1" cy="316.6" r="1.5" fill="#5da53e"/><circle cx="327.4" cy="325.2" r="1.2" fill="#61ac40"/><circle cx="370.5" cy="326.6" r="1.9" fill="#4a8d35"/><circle cx="339.6" cy="295.6" r="1.8" fill="#b8e290"/><circle cx="348.9" cy="299.8" r="1.2" fill="#509437"/><circle cx="341.5" cy="288.5" r="2.1" fill="#b8e290"/><circle cx="345.0" cy="292.0" r="1.8" fill="#b8e290"/><circle cx="330.8" cy="330.1" r="2.0" fill="#63ae41"/><circle cx="352.8" cy="326.8" r="1.1" fill="#458632"/><circle cx="324.0" cy="316.6" r="1.1" fill="#a8d981"/><circle cx="367.8" cy="327.5" r="2.1" fill="#356f2a"/><circle cx="357.6" cy="313.0" r="1.0" fill="#579d3b"/><circle cx="342.5" cy="290.3" r="1.7" fill="#58a03c"/><circle cx="327.5" cy="330.1" r="1.3" fill="#356f2a"/><circle cx="321.0" cy="325.6" r="2.0" fill="#356f2a"/><circle cx="339.1" cy="315.3" r="1.3" fill="#8cc867"/><circle cx="339.8" cy="322.7" r="2.1" fill="#71b84d"/><circle cx="328.2" cy="326.6" r="2.1" fill="#356f2a"/><circle cx="343.1" cy="320.3" r="2.0" fill="#5ba43d"/><circle cx="320.0" cy="330.0" r="1.1" fill="#39752c"/><circle cx="353.4" cy="328.4" r="1.9" fill="#356f2a"/><circle cx="337.6" cy="297.1" r="1.7" fill="#b8e290"/><circle cx="326.1" cy="322.5" r="1.7" fill="#5da53e"/><circle cx="348.0" cy="316.7" r="1.3" fill="#75ba51"/><circle cx="357.1" cy="295.1" r="2.2" fill="#63ae41"/><circle cx="352.3" cy="333.1" r="1.9" fill="#356f2a"/><circle cx="356.7" cy="294.2" r="1.7" fill="#83c35f"/><circle cx="342.7" cy="318.3" r="2.0" fill="#356f2a"/><circle cx="358.0" cy="316.6" r="1.0" fill="#356f2a"/><circle cx="336.8" cy="320.7" r="1.5" fill="#438331"/><circle cx="341.1" cy="313.2" r="1.6" fill="#356f2a"/><circle cx="358.6" cy="315.4" r="2.1" fill="#36702a"/><circle cx="352.1" cy="297.5" r="1.1" fill="#85c460"/><circle cx="327.8" cy="327.6" r="2.0" fill="#356f2a"/><circle cx="337.3" cy="309.8" r="1.4" fill="#4d9036"/><circle cx="360.2" cy="314.4" r="1.9" fill="#5fa93f"/><circle cx="343.6" cy="311.0" r="1.5" fill="#509538"/><circle cx="372.5" cy="324.8" r="1.0" fill="#529638"/>
<line x1="269.0" y1="353.0" x2="267.5" y2="359.0" stroke="#6c8aa0" stroke-width="1.6"/><line x1="271.0" y1="353.0" x2="272.5" y2="359.0" stroke="#6c8aa0" stroke-width="1.6"/><rect x="267.5" y="346.0" width="5" height="7" rx="1.5" fill="#8fb4c8"/><line x1="267.5" y1="347.0" x2="265.0" y2="344.0" stroke="#cfd8de" stroke-width="1.1"/><line x1="272.5" y1="347.0" x2="275.0" y2="344.0" stroke="#cfd8de" stroke-width="1.1"/><circle cx="270.0" cy="343.5" r="2.4" fill="#cfd8de"/><path d="M267.6,343.0 a2.4,2.4 0 0 1 4.8,0 Z" fill="#9aa"/>
<line x1="289.0" y1="354.0" x2="287.5" y2="360.0" stroke="#2f7f8a" stroke-width="1.6"/><line x1="291.0" y1="354.0" x2="292.5" y2="360.0" stroke="#2f7f8a" stroke-width="1.6"/><rect x="287.5" y="347.0" width="5" height="7" rx="1.5" fill="#6fc0c8"/><line x1="287.5" y1="348.0" x2="285.0" y2="345.0" stroke="#e8b48a" stroke-width="1.1"/><line x1="292.5" y1="348.0" x2="295.0" y2="345.0" stroke="#e8b48a" stroke-width="1.1"/><circle cx="290.0" cy="344.5" r="2.4" fill="#e8b48a"/><path d="M287.6,344.0 a2.4,2.4 0 0 1 4.8,0 Z" fill="#7a4a2a"/>
<line x1="306.0" y1="355.0" x2="304.5" y2="361.0" stroke="#445" stroke-width="1.6"/><line x1="308.0" y1="355.0" x2="309.5" y2="361.0" stroke="#445" stroke-width="1.6"/><rect x="304.5" y="348.0" width="5" height="7" rx="1.5" fill="#c8453a"/><line x1="304.5" y1="349.0" x2="302.0" y2="346.0" stroke="#e8b48a" stroke-width="1.1"/><line x1="309.5" y1="349.0" x2="312.0" y2="346.0" stroke="#e8b48a" stroke-width="1.1"/><circle cx="307.0" cy="345.5" r="2.4" fill="#e8b48a"/><path d="M304.6,345.0 a2.4,2.4 0 0 1 4.8,0 Z" fill="#7a4a2a"/>
<line x1="319.0" y1="355.0" x2="317.5" y2="361.0" stroke="#3b6f8a" stroke-width="1.6"/><line x1="321.0" y1="355.0" x2="322.5" y2="361.0" stroke="#3b6f8a" stroke-width="1.6"/><rect x="317.5" y="348.0" width="5" height="7" rx="1.5" fill="#4aa78a"/><line x1="317.5" y1="349.0" x2="315.0" y2="346.0" stroke="#e8b48a" stroke-width="1.1"/><line x1="322.5" y1="349.0" x2="325.0" y2="346.0" stroke="#e8b48a" stroke-width="1.1"/><circle cx="320.0" cy="345.5" r="2.4" fill="#e8b48a"/><path d="M317.6,345.0 a2.4,2.4 0 0 1 4.8,0 Z" fill="#7a4a2a"/>
<line x1="334.0" y1="355.0" x2="332.5" y2="361.0" stroke="#c64a3a" stroke-width="1.6"/><line x1="336.0" y1="355.0" x2="337.5" y2="361.0" stroke="#c64a3a" stroke-width="1.6"/><rect x="332.5" y="348.0" width="5" height="7" rx="1.5" fill="#3e6fb8"/><line x1="332.5" y1="349.0" x2="330.0" y2="346.0" stroke="#e8b48a" stroke-width="1.1"/><line x1="337.5" y1="349.0" x2="340.0" y2="346.0" stroke="#e8b48a" stroke-width="1.1"/><circle cx="335.0" cy="345.5" r="2.4" fill="#e8b48a"/><path d="M332.6,345.0 a2.4,2.4 0 0 1 4.8,0 Z" fill="#7a4a2a"/>
<circle cx="296" cy="335" r="1.8" fill="#8ccf5a"/>
<ellipse cx="445" cy="322" rx="34" ry="30" fill="url(#hazeg)"/>
<polygon points="366.7,281.7 377,284 379.6,287.6 369,285.5" fill="#3a84c4"/>
<path d="M372.6,287 V347" stroke="#3f7fb5" stroke-width="1.8"/>
<path d="M372.6,297 C378,292 384,291 390,291" fill="none" stroke="#3f7fb5" stroke-width="1.5"/>
<polygon points="384.5,292 390.5,292 395,326 381,326" fill="url(#conegr)"/>
<rect x="384" y="289.5" width="8" height="2.5" rx="1" fill="#3f7fb5"/>
<g fill="none" stroke="#555" stroke-width="0.7"><circle cx="359.5" cy="343" r="3"/><circle cx="368.5" cy="343" r="3"/></g>
<path d="M359.5,343 L363,337 L368.5,343" fill="none" stroke="#3a8fb0" stroke-width="0.9"/><circle cx="364" cy="333" r="1.6" fill="#e8b48a"/><rect x="362" y="334.5" width="3.5" height="4" fill="#3fa0c0"/>
<rect x="376.8" y="326.2" width="19.7" height="19.8" rx="2" fill="#f2c21a"/>
<rect x="378.5" y="330" width="16.3" height="8" fill="#7a8087"/>
<rect x="377.5" y="341" width="18" height="1.5" fill="#c99a10"/>
<circle cx="380" cy="345.5" r="1.4" fill="#333"/><circle cx="393" cy="345.5" r="1.4" fill="#333"/>
<rect x="397.5" y="337" width="2.5" height="9" fill="#555"/><rect x="400.5" y="338" width="2.5" height="8" fill="#c34"/>
<rect x="403" y="322.7" width="23.5" height="23.3" rx="2" fill="#e04a3c"/>
<rect x="405.5" y="326" width="18.5" height="7.5" fill="#c5d3dc"/>
<rect x="405" y="336" width="19.5" height="7" fill="#5a5f66"/>
<rect x="402" y="327" width="1.5" height="4" fill="#e04a3c"/><rect x="426" y="327" width="1.5" height="4" fill="#e04a3c"/>
<g fill="#b9bcbf" opacity="0.8"><circle cx="433" cy="336" r="4"/><circle cx="437" cy="332" r="3.5"/><circle cx="441" cy="338" r="3"/></g>
<rect x="427.5" y="339" width="8" height="7" rx="1.5" fill="#e0453a"/>
<rect x="436" y="341" width="18" height="4.5" rx="1.5" fill="#f2c45a"/>
<g fill="#c9ccce" opacity="0.8"><circle cx="457" cy="340" r="4"/><circle cx="462" cy="342" r="3"/></g>
<path d="M353,348.3 H475.3" stroke="#111" stroke-width="1.8"/>
<g fill="none" stroke="#1d1d1d" stroke-width="1.3" stroke-linecap="round">
<path d="M427.6,285.2 A44.0,44.0 0 0 1 466.8,324.4"/>
<path d="M427.0,291.2 A38.0,38.0 0 0 1 460.8,325.0"/>
<path d="M426.3,297.2 A32.0,32.0 0 0 1 454.8,325.7"/>
<path d="M425.7,303.1 A26.0,26.0 0 0 1 448.9,326.3"/>
<path d="M425.1,309.1 A20.0,20.0 0 0 1 442.9,326.9"/>
<path d="M424.5,315.1 A14.0,14.0 0 0 1 436.9,327.5"/>
</g>
<rect x="613" y="99.5" width="72" height="246" fill="#ffffff"/>
<rect x="614" y="100.5" width="70" height="3" fill="#e3e3e3"/>
<rect x="647.8" y="103" width="3.7" height="243" fill="#cfcfcf"/>
<rect x="651.5" y="104.2" width="33" height="1.2" fill="#e4e4e4"/>
<rect x="655.8" y="107.7" width="6.8" height="9.6" fill="#555a5e"/><rect x="672" y="107.7" width="6.8" height="9.6" fill="#555a5e"/>
<rect x="657" y="117.3" width="6.8" height="1.2" fill="#d8d8d8"/><rect x="673.2" y="117.3" width="6.8" height="1.2" fill="#d8d8d8"/>
<rect x="651.5" y="124.6" width="33" height="1.2" fill="#e4e4e4"/>
<rect x="655.8" y="128.1" width="6.8" height="9.6" fill="#555a5e"/><rect x="672" y="128.1" width="6.8" height="9.6" fill="#555a5e"/>
<rect x="657" y="137.7" width="6.8" height="1.2" fill="#d8d8d8"/><rect x="673.2" y="137.7" width="6.8" height="1.2" fill="#d8d8d8"/>
<rect x="651.5" y="145.0" width="33" height="1.2" fill="#e4e4e4"/>
<rect x="655.8" y="148.5" width="6.8" height="9.6" fill="#555a5e"/><rect x="672" y="148.5" width="6.8" height="9.6" fill="#555a5e"/>
<rect x="657" y="158.1" width="6.8" height="1.2" fill="#d8d8d8"/><rect x="673.2" y="158.1" width="6.8" height="1.2" fill="#d8d8d8"/>
<rect x="651.5" y="165.0" width="33" height="1.2" fill="#e4e4e4"/>
<rect x="655.8" y="168.5" width="6.8" height="9.6" fill="#555a5e"/><rect x="672" y="168.5" width="6.8" height="9.6" fill="#555a5e"/>
<rect x="657" y="178.1" width="6.8" height="1.2" fill="#d8d8d8"/><rect x="673.2" y="178.1" width="6.8" height="1.2" fill="#d8d8d8"/>
<rect x="651.5" y="185.4" width="33" height="1.2" fill="#e4e4e4"/>
<rect x="655.8" y="188.9" width="6.8" height="9.6" fill="#555a5e"/><rect x="672" y="188.9" width="6.8" height="9.6" fill="#555a5e"/>
<rect x="657" y="198.5" width="6.8" height="1.2" fill="#d8d8d8"/><rect x="673.2" y="198.5" width="6.8" height="1.2" fill="#d8d8d8"/>
<rect x="651.5" y="206.1" width="33" height="1.2" fill="#e4e4e4"/>
<rect x="655.8" y="209.6" width="6.8" height="9.6" fill="#555a5e"/><rect x="672" y="209.6" width="6.8" height="9.6" fill="#555a5e"/>
<rect x="657" y="219.2" width="6.8" height="1.2" fill="#d8d8d8"/><rect x="673.2" y="219.2" width="6.8" height="1.2" fill="#d8d8d8"/>
<rect x="651.5" y="227.2" width="33" height="1.2" fill="#e4e4e4"/>
<rect x="655.8" y="230.7" width="6.8" height="9.6" fill="#555a5e"/><rect x="672" y="230.7" width="6.8" height="9.6" fill="#555a5e"/>
<rect x="657" y="240.3" width="6.8" height="1.2" fill="#d8d8d8"/><rect x="673.2" y="240.3" width="6.8" height="1.2" fill="#d8d8d8"/>
<rect x="651.5" y="247.5" width="33" height="1.2" fill="#e4e4e4"/>
<rect x="655.8" y="251.0" width="6.8" height="9.6" fill="#555a5e"/><rect x="672" y="251.0" width="6.8" height="9.6" fill="#555a5e"/>
<rect x="657" y="260.6" width="6.8" height="1.2" fill="#d8d8d8"/><rect x="673.2" y="260.6" width="6.8" height="1.2" fill="#d8d8d8"/>
<rect x="651.5" y="267.9" width="33" height="1.2" fill="#e4e4e4"/>
<rect x="655.8" y="271.4" width="6.8" height="9.6" fill="#555a5e"/><rect x="672" y="271.4" width="6.8" height="9.6" fill="#555a5e"/>
<rect x="657" y="281.0" width="6.8" height="1.2" fill="#d8d8d8"/><rect x="673.2" y="281.0" width="6.8" height="1.2" fill="#d8d8d8"/>
<rect x="651.5" y="288.1" width="33" height="1.2" fill="#e4e4e4"/>
<rect x="655.8" y="291.6" width="6.8" height="9.6" fill="#555a5e"/><rect x="672" y="291.6" width="6.8" height="9.6" fill="#555a5e"/>
<rect x="657" y="301.2" width="6.8" height="1.2" fill="#d8d8d8"/><rect x="673.2" y="301.2" width="6.8" height="1.2" fill="#d8d8d8"/>
<rect x="651.5" y="307.8" width="33" height="1.2" fill="#e4e4e4"/>
<rect x="655.8" y="311.3" width="6.8" height="9.6" fill="#555a5e"/><rect x="672" y="311.3" width="6.8" height="9.6" fill="#555a5e"/>
<rect x="657" y="320.9" width="6.8" height="1.2" fill="#d8d8d8"/><rect x="673.2" y="320.9" width="6.8" height="1.2" fill="#d8d8d8"/>
<rect x="651.5" y="326.9" width="33" height="1.2" fill="#e4e4e4"/>
<rect x="655.8" y="330.4" width="6.8" height="9.6" fill="#555a5e"/><rect x="672" y="330.4" width="6.8" height="9.6" fill="#555a5e"/>
<rect x="657" y="340.0" width="6.8" height="1.2" fill="#d8d8d8"/><rect x="673.2" y="340.0" width="6.8" height="1.2" fill="#d8d8d8"/>
<rect x="617.8" y="107.7" width="22.5" height="10.4" fill="#e6e6e6"/>
<rect x="618.5" y="107.7" width="1.5" height="10.4" fill="#4d5256"/>
<rect x="621.0" y="107.7" width="1.5" height="10.4" fill="#4d5256"/>
<rect x="623.5" y="107.7" width="1.5" height="10.4" fill="#4d5256"/>
<rect x="626.0" y="107.7" width="1.5" height="10.4" fill="#4d5256"/>
<rect x="628.5" y="107.7" width="1.5" height="10.4" fill="#4d5256"/>
<rect x="631.0" y="107.7" width="1.5" height="10.4" fill="#4d5256"/>
<rect x="633.5" y="107.7" width="1.5" height="10.4" fill="#4d5256"/>
<rect x="636.0" y="107.7" width="1.5" height="10.4" fill="#4d5256"/>
<rect x="638.5" y="107.7" width="1.5" height="10.4" fill="#4d5256"/>
<rect x="617.8" y="128.1" width="22.5" height="10.4" fill="#e6e6e6"/>
<rect x="618.5" y="128.1" width="1.5" height="10.4" fill="#4d5256"/>
<rect x="621.0" y="128.1" width="1.5" height="10.4" fill="#4d5256"/>
<rect x="623.5" y="128.1" width="1.5" height="10.4" fill="#4d5256"/>
<rect x="626.0" y="128.1" width="1.5" height="10.4" fill="#4d5256"/>
<rect x="628.5" y="128.1" width="1.5" height="10.4" fill="#4d5256"/>
<rect x="631.0" y="128.1" width="1.5" height="10.4" fill="#4d5256"/>
<rect x="633.5" y="128.1" width="1.5" height="10.4" fill="#4d5256"/>
<rect x="636.0" y="128.1" width="1.5" height="10.4" fill="#4d5256"/>
<rect x="638.5" y="128.1" width="1.5" height="10.4" fill="#4d5256"/>
<rect x="617.8" y="148.5" width="22.5" height="10.4" fill="#e6e6e6"/>
<rect x="618.5" y="148.5" width="1.5" height="10.4" fill="#4d5256"/>
<rect x="621.0" y="148.5" width="1.5" height="10.4" fill="#4d5256"/>
<rect x="623.5" y="148.5" width="1.5" height="10.4" fill="#4d5256"/>
<rect x="626.0" y="148.5" width="1.5" height="10.4" fill="#4d5256"/>
<rect x="628.5" y="148.5" width="1.5" height="10.4" fill="#4d5256"/>
<rect x="631.0" y="148.5" width="1.5" height="10.4" fill="#4d5256"/>
<rect x="633.5" y="148.5" width="1.5" height="10.4" fill="#4d5256"/>
<rect x="636.0" y="148.5" width="1.5" height="10.4" fill="#4d5256"/>
<rect x="638.5" y="148.5" width="1.5" height="10.4" fill="#4d5256"/>
<rect x="617.8" y="168.5" width="22.5" height="10.4" fill="#e6e6e6"/>
<rect x="618.5" y="168.5" width="1.5" height="10.4" fill="#4d5256"/>
<rect x="621.0" y="168.5" width="1.5" height="10.4" fill="#4d5256"/>
<rect x="623.5" y="168.5" width="1.5" height="10.4" fill="#4d5256"/>
<rect x="626.0" y="168.5" width="1.5" height="10.4" fill="#4d5256"/>
<rect x="628.5" y="168.5" width="1.5" height="10.4" fill="#4d5256"/>
<rect x="631.0" y="168.5" width="1.5" height="10.4" fill="#4d5256"/>
<rect x="633.5" y="168.5" width="1.5" height="10.4" fill="#4d5256"/>
<rect x="636.0" y="168.5" width="1.5" height="10.4" fill="#4d5256"/>
<rect x="638.5" y="168.5" width="1.5" height="10.4" fill="#4d5256"/>
<path d="M613,187 V99.5 H685 V346" fill="none" stroke="#111" stroke-width="1.9"/>
<polygon points="612.4,90.3 635.5,90.3 637.0,97.8 610.9,97.8" fill="#24507f" stroke="#fff" stroke-width="0.5"/>
<circle cx="612.7" cy="92.3" r="0.6" fill="#8fd0f0"/>
<circle cx="612.0" cy="95.6" r="0.6" fill="#8fd0f0"/>
<circle cx="615.6" cy="92.3" r="0.6" fill="#8fd0f0"/>
<circle cx="614.9" cy="95.6" r="0.6" fill="#8fd0f0"/>
<circle cx="618.5" cy="92.3" r="0.6" fill="#8fd0f0"/>
<circle cx="617.8" cy="95.6" r="0.6" fill="#8fd0f0"/>
<circle cx="621.4" cy="92.3" r="0.6" fill="#8fd0f0"/>
<circle cx="620.7" cy="95.6" r="0.6" fill="#8fd0f0"/>
<circle cx="624.2" cy="92.3" r="0.6" fill="#8fd0f0"/>
<circle cx="623.6" cy="95.6" r="0.6" fill="#8fd0f0"/>
<circle cx="627.1" cy="92.3" r="0.6" fill="#8fd0f0"/>
<circle cx="626.5" cy="95.6" r="0.6" fill="#8fd0f0"/>
<circle cx="630.0" cy="92.3" r="0.6" fill="#8fd0f0"/>
<circle cx="629.4" cy="95.6" r="0.6" fill="#8fd0f0"/>
<circle cx="632.9" cy="92.3" r="0.6" fill="#8fd0f0"/>
<circle cx="632.3" cy="95.6" r="0.6" fill="#8fd0f0"/>
<circle cx="635.8" cy="92.3" r="0.6" fill="#8fd0f0"/>
<circle cx="635.1" cy="95.6" r="0.6" fill="#8fd0f0"/>
<polygon points="638.4,90.3 654.8,90.3 656.3,97.8 636.9,97.8" fill="#24507f" stroke="#fff" stroke-width="0.5"/>
<circle cx="638.7" cy="92.3" r="0.6" fill="#8fd0f0"/>
<circle cx="638.0" cy="95.6" r="0.6" fill="#8fd0f0"/>
<circle cx="641.4" cy="92.3" r="0.6" fill="#8fd0f0"/>
<circle cx="640.8" cy="95.6" r="0.6" fill="#8fd0f0"/>
<circle cx="644.2" cy="92.3" r="0.6" fill="#8fd0f0"/>
<circle cx="643.5" cy="95.6" r="0.6" fill="#8fd0f0"/>
<circle cx="646.9" cy="92.3" r="0.6" fill="#8fd0f0"/>
<circle cx="646.2" cy="95.6" r="0.6" fill="#8fd0f0"/>
<circle cx="649.6" cy="92.3" r="0.6" fill="#8fd0f0"/>
<circle cx="649.0" cy="95.6" r="0.6" fill="#8fd0f0"/>
<circle cx="652.4" cy="92.3" r="0.6" fill="#8fd0f0"/>
<circle cx="651.7" cy="95.6" r="0.6" fill="#8fd0f0"/>
<circle cx="655.1" cy="92.3" r="0.6" fill="#8fd0f0"/>
<circle cx="654.4" cy="95.6" r="0.6" fill="#8fd0f0"/>
<polygon points="657.7,90.3 679.5,90.3 681.0,97.8 656.2,97.8" fill="#24507f" stroke="#fff" stroke-width="0.5"/>
<circle cx="658.0" cy="92.3" r="0.6" fill="#8fd0f0"/>
<circle cx="657.3" cy="95.6" r="0.6" fill="#8fd0f0"/>
<circle cx="660.7" cy="92.3" r="0.6" fill="#8fd0f0"/>
<circle cx="660.1" cy="95.6" r="0.6" fill="#8fd0f0"/>
<circle cx="663.5" cy="92.3" r="0.6" fill="#8fd0f0"/>
<circle cx="662.8" cy="95.6" r="0.6" fill="#8fd0f0"/>
<circle cx="666.2" cy="92.3" r="0.6" fill="#8fd0f0"/>
<circle cx="665.5" cy="95.6" r="0.6" fill="#8fd0f0"/>
<circle cx="668.9" cy="92.3" r="0.6" fill="#8fd0f0"/>
<circle cx="668.2" cy="95.6" r="0.6" fill="#8fd0f0"/>
<circle cx="671.6" cy="92.3" r="0.6" fill="#8fd0f0"/>
<circle cx="671.0" cy="95.6" r="0.6" fill="#8fd0f0"/>
<circle cx="674.3" cy="92.3" r="0.6" fill="#8fd0f0"/>
<circle cx="673.7" cy="95.6" r="0.6" fill="#8fd0f0"/>
<circle cx="677.1" cy="92.3" r="0.6" fill="#8fd0f0"/>
<circle cx="676.4" cy="95.6" r="0.6" fill="#8fd0f0"/>
<circle cx="679.8" cy="92.3" r="0.6" fill="#8fd0f0"/>
<circle cx="679.1" cy="95.6" r="0.6" fill="#8fd0f0"/>
<polygon points="657.30,68.00 658.70,68.00 659.80,90.30 656.20,90.30" fill="url(#towerg)"/><path d="M658.00,68.00 Q654.73,65.44 644.00,66.50 Q654.43,68.28 658.00,68.00 Z" fill="#2e78c4"/><path d="M658.00,68.00 Q661.67,66.65 665.50,57.50 Q659.34,64.99 658.00,68.00 Z" fill="#2e78c4"/><path d="M658.00,68.00 Q657.13,71.80 662.70,80.00 Q659.79,70.76 658.00,68.00 Z" fill="#2e78c4"/><circle cx="658.00" cy="68.00" r="0.99" fill="#e4e8ee"/>
<polygon points="669.50,68.70 670.90,68.70 672.00,90.30 668.40,90.30" fill="url(#towerg)"/><path d="M670.20,68.70 Q667.90,66.50 661.00,68.70 Q667.90,69.36 670.20,68.70 Z" fill="#2e78c4"/><path d="M670.20,68.70 Q673.58,67.96 676.80,60.30 Q671.33,66.19 670.20,68.70 Z" fill="#2e78c4"/><path d="M670.20,68.70 Q668.79,71.66 673.00,78.00 Q671.53,70.83 670.20,68.70 Z" fill="#2e78c4"/><circle cx="670.20" cy="68.70" r="0.99" fill="#e4e8ee"/>
<polygon points="675.10,66.00 676.50,66.00 677.60,90.30 674.00,90.30" fill="url(#towerg)"/><path d="M675.80,66.00 Q679.84,64.58 685.20,54.70 Q677.64,62.75 675.80,66.00 Z" fill="#2e78c4"/><path d="M675.80,66.00 Q673.44,63.56 665.50,65.00 Q673.16,66.41 675.80,66.00 Z" fill="#2e78c4"/><path d="M675.80,66.00 Q675.46,70.44 682.40,80.00 Q678.05,69.22 675.80,66.00 Z" fill="#2e78c4"/><circle cx="675.80" cy="66.00" r="0.99" fill="#e4e8ee"/>
<rect x="549" y="194" width="95" height="152" fill="#ffffff"/>
<g fill="none" stroke="#111">
<path d="M548.7,203.4 L565.6,194 H644" stroke-width="2.2"/>
<path d="M620.7,194 V346" stroke-width="1.8"/>
<path d="M638.5,194 V346" stroke-width="2.2" stroke-dasharray="18.1,2" stroke-dashoffset="1.1"/>
<path d="M646,219 V346" stroke-width="1.6"/>
</g>
<path d="M586,194 C590,189 596,187.8 605,187.8 H638 C640,188 641,190 641.5,192 H644 V195 H586 Z" fill="#151515"/>
<rect x="549" y="203" width="3.6" height="143" fill="#f2f2f2" stroke="#8a8a8a" stroke-width="0.8"/>
<rect x="552" y="206.2" width="69" height="0.9" fill="#666"/>
<rect x="546" y="223.6" width="75" height="2.8" fill="#4a4a4a"/>
<line x1="546" y1="225.0" x2="621" y2="225.0" stroke="#cfcfcf" stroke-width="0.7" stroke-dasharray="1,1.5"/>
<rect x="621" y="224.2" width="25" height="1.2" fill="#222"/>
<rect x="546" y="243.7" width="75" height="2.8" fill="#4a4a4a"/>
<line x1="546" y1="245.1" x2="621" y2="245.1" stroke="#cfcfcf" stroke-width="0.7" stroke-dasharray="1,1.5"/>
<rect x="621" y="244.3" width="25" height="1.2" fill="#222"/>
<rect x="546" y="263.8" width="75" height="2.8" fill="#4a4a4a"/>
<line x1="546" y1="265.2" x2="621" y2="265.2" stroke="#cfcfcf" stroke-width="0.7" stroke-dasharray="1,1.5"/>
<rect x="621" y="264.4" width="25" height="1.2" fill="#222"/>
<rect x="546" y="283.9" width="75" height="2.8" fill="#4a4a4a"/>
<line x1="546" y1="285.3" x2="621" y2="285.3" stroke="#cfcfcf" stroke-width="0.7" stroke-dasharray="1,1.5"/>
<rect x="621" y="284.5" width="25" height="1.2" fill="#222"/>
<rect x="546" y="304.0" width="75" height="2.8" fill="#4a4a4a"/>
<line x1="546" y1="305.4" x2="621" y2="305.4" stroke="#cfcfcf" stroke-width="0.7" stroke-dasharray="1,1.5"/>
<rect x="621" y="304.6" width="25" height="1.2" fill="#222"/>
<rect x="546" y="324.1" width="75" height="2.8" fill="#4a4a4a"/>
<line x1="546" y1="325.5" x2="621" y2="325.5" stroke="#cfcfcf" stroke-width="0.7" stroke-dasharray="1,1.5"/>
<rect x="621" y="324.7" width="25" height="1.2" fill="#222"/>
<path d="M542,202.8 L551,207.8 M543,205.8 L552,210.3" stroke="#444" stroke-width="0.8"/>
<path d="M553,206.8 L573.5,214.3 M562,206.8 L594.7,215.8" stroke="#3a3a3a" stroke-width="0.9"/>
<line x1="556.0" y1="217.8" x2="556.0" y2="220.8" stroke="#888" stroke-width="0.6"/>
<line x1="565.0" y1="217.8" x2="565.0" y2="220.8" stroke="#888" stroke-width="0.6"/>
<line x1="574.0" y1="217.8" x2="574.0" y2="220.8" stroke="#888" stroke-width="0.6"/>
<line x1="583.0" y1="217.8" x2="583.0" y2="220.8" stroke="#888" stroke-width="0.6"/>
<line x1="592.0" y1="217.8" x2="592.0" y2="220.8" stroke="#888" stroke-width="0.6"/>
<line x1="601.0" y1="217.8" x2="601.0" y2="220.8" stroke="#888" stroke-width="0.6"/>
<line x1="610.0" y1="217.8" x2="610.0" y2="220.8" stroke="#888" stroke-width="0.6"/>
<line x1="619.0" y1="217.8" x2="619.0" y2="220.8" stroke="#888" stroke-width="0.6"/>
<path d="M542,222.9 L551,227.9 M543,225.9 L552,230.4" stroke="#444" stroke-width="0.8"/>
<path d="M553,226.9 L573.5,234.4 M562,226.9 L594.7,235.9" stroke="#3a3a3a" stroke-width="0.9"/>
<line x1="556.0" y1="237.9" x2="556.0" y2="240.9" stroke="#888" stroke-width="0.6"/>
<line x1="565.0" y1="237.9" x2="565.0" y2="240.9" stroke="#888" stroke-width="0.6"/>
<line x1="574.0" y1="237.9" x2="574.0" y2="240.9" stroke="#888" stroke-width="0.6"/>
<line x1="583.0" y1="237.9" x2="583.0" y2="240.9" stroke="#888" stroke-width="0.6"/>
<line x1="592.0" y1="237.9" x2="592.0" y2="240.9" stroke="#888" stroke-width="0.6"/>
<line x1="601.0" y1="237.9" x2="601.0" y2="240.9" stroke="#888" stroke-width="0.6"/>
<line x1="610.0" y1="237.9" x2="610.0" y2="240.9" stroke="#888" stroke-width="0.6"/>
<line x1="619.0" y1="237.9" x2="619.0" y2="240.9" stroke="#888" stroke-width="0.6"/>
<path d="M542,243.0 L551,248.0 M543,246.0 L552,250.5" stroke="#444" stroke-width="0.8"/>
<path d="M553,247.0 L573.5,254.5 M562,247.0 L594.7,256.0" stroke="#3a3a3a" stroke-width="0.9"/>
<line x1="556.0" y1="258.0" x2="556.0" y2="261.0" stroke="#888" stroke-width="0.6"/>
<line x1="565.0" y1="258.0" x2="565.0" y2="261.0" stroke="#888" stroke-width="0.6"/>
<line x1="574.0" y1="258.0" x2="574.0" y2="261.0" stroke="#888" stroke-width="0.6"/>
<line x1="583.0" y1="258.0" x2="583.0" y2="261.0" stroke="#888" stroke-width="0.6"/>
<line x1="592.0" y1="258.0" x2="592.0" y2="261.0" stroke="#888" stroke-width="0.6"/>
<line x1="601.0" y1="258.0" x2="601.0" y2="261.0" stroke="#888" stroke-width="0.6"/>
<line x1="610.0" y1="258.0" x2="610.0" y2="261.0" stroke="#888" stroke-width="0.6"/>
<line x1="619.0" y1="258.0" x2="619.0" y2="261.0" stroke="#888" stroke-width="0.6"/>
<path d="M542,263.1 L551,268.1 M543,266.1 L552,270.6" stroke="#444" stroke-width="0.8"/>
<path d="M553,267.1 L573.5,274.6 M562,267.1 L594.7,276.1" stroke="#3a3a3a" stroke-width="0.9"/>
<line x1="556.0" y1="278.1" x2="556.0" y2="281.1" stroke="#888" stroke-width="0.6"/>
<line x1="565.0" y1="278.1" x2="565.0" y2="281.1" stroke="#888" stroke-width="0.6"/>
<line x1="574.0" y1="278.1" x2="574.0" y2="281.1" stroke="#888" stroke-width="0.6"/>
<line x1="583.0" y1="278.1" x2="583.0" y2="281.1" stroke="#888" stroke-width="0.6"/>
<line x1="592.0" y1="278.1" x2="592.0" y2="281.1" stroke="#888" stroke-width="0.6"/>
<line x1="601.0" y1="278.1" x2="601.0" y2="281.1" stroke="#888" stroke-width="0.6"/>
<line x1="610.0" y1="278.1" x2="610.0" y2="281.1" stroke="#888" stroke-width="0.6"/>
<line x1="619.0" y1="278.1" x2="619.0" y2="281.1" stroke="#888" stroke-width="0.6"/>
<path d="M542,283.2 L551,288.2 M543,286.2 L552,290.7" stroke="#444" stroke-width="0.8"/>
<path d="M553,287.2 L573.5,294.7 M562,287.2 L594.7,296.2" stroke="#3a3a3a" stroke-width="0.9"/>
<line x1="556.0" y1="298.2" x2="556.0" y2="301.2" stroke="#888" stroke-width="0.6"/>
<line x1="565.0" y1="298.2" x2="565.0" y2="301.2" stroke="#888" stroke-width="0.6"/>
<line x1="574.0" y1="298.2" x2="574.0" y2="301.2" stroke="#888" stroke-width="0.6"/>
<line x1="583.0" y1="298.2" x2="583.0" y2="301.2" stroke="#888" stroke-width="0.6"/>
<line x1="592.0" y1="298.2" x2="592.0" y2="301.2" stroke="#888" stroke-width="0.6"/>
<line x1="601.0" y1="298.2" x2="601.0" y2="301.2" stroke="#888" stroke-width="0.6"/>
<line x1="610.0" y1="298.2" x2="610.0" y2="301.2" stroke="#888" stroke-width="0.6"/>
<line x1="619.0" y1="298.2" x2="619.0" y2="301.2" stroke="#888" stroke-width="0.6"/>
<path d="M542,303.3 L551,308.3 M543,306.3 L552,310.8" stroke="#444" stroke-width="0.8"/>
<path d="M553,307.3 L573.5,314.8 M562,307.3 L594.7,316.3" stroke="#3a3a3a" stroke-width="0.9"/>
<line x1="556.0" y1="318.3" x2="556.0" y2="321.3" stroke="#888" stroke-width="0.6"/>
<line x1="565.0" y1="318.3" x2="565.0" y2="321.3" stroke="#888" stroke-width="0.6"/>
<line x1="574.0" y1="318.3" x2="574.0" y2="321.3" stroke="#888" stroke-width="0.6"/>
<line x1="583.0" y1="318.3" x2="583.0" y2="321.3" stroke="#888" stroke-width="0.6"/>
<line x1="592.0" y1="318.3" x2="592.0" y2="321.3" stroke="#888" stroke-width="0.6"/>
<line x1="601.0" y1="318.3" x2="601.0" y2="321.3" stroke="#888" stroke-width="0.6"/>
<line x1="610.0" y1="318.3" x2="610.0" y2="321.3" stroke="#888" stroke-width="0.6"/>
<line x1="619.0" y1="318.3" x2="619.0" y2="321.3" stroke="#888" stroke-width="0.6"/>
<path d="M542,323.4 L551,328.4 M543,326.4 L552,330.9" stroke="#444" stroke-width="0.8"/>
<path d="M553,327.4 L573.5,334.9 M562,327.4 L594.7,336.4" stroke="#3a3a3a" stroke-width="0.9"/>
<line x1="556.0" y1="338.4" x2="556.0" y2="341.4" stroke="#888" stroke-width="0.6"/>
<line x1="565.0" y1="338.4" x2="565.0" y2="341.4" stroke="#888" stroke-width="0.6"/>
<line x1="574.0" y1="338.4" x2="574.0" y2="341.4" stroke="#888" stroke-width="0.6"/>
<line x1="583.0" y1="338.4" x2="583.0" y2="341.4" stroke="#888" stroke-width="0.6"/>
<line x1="592.0" y1="338.4" x2="592.0" y2="341.4" stroke="#888" stroke-width="0.6"/>
<line x1="601.0" y1="338.4" x2="601.0" y2="341.4" stroke="#888" stroke-width="0.6"/>
<line x1="610.0" y1="338.4" x2="610.0" y2="341.4" stroke="#888" stroke-width="0.6"/>
<line x1="619.0" y1="338.4" x2="619.0" y2="341.4" stroke="#888" stroke-width="0.6"/>
<rect x="583" y="225" width="4" height="121" fill="#f0f0f0" stroke="#999" stroke-width="0.7"/>
<path d="M535,304 H545.5 V333 H535 M539,306 V331 M542,306 V331" fill="none" stroke="#c8c8c8" stroke-width="0.8"/>
<path d="M626.4,221 V341.5 H597.2" fill="none" stroke="#b8925a" stroke-width="1"/>
<path d="M626.4,221 H638" fill="none" stroke="#b8925a" stroke-width="1"/>
<polygon points="547.5,196 563,185.5 564,194 548,204" fill="#2f6fae" stroke="#1b3a5e" stroke-width="0.5"/>
<line x1="547.7" y1="198.6" x2="563.3" y2="188.3" stroke="#a9d2f2" stroke-width="0.45"/>
<line x1="547.8" y1="201.3" x2="563.7" y2="191.1" stroke="#a9d2f2" stroke-width="0.45"/>
<line x1="550.6" y1="193.9" x2="551.2" y2="202.0" stroke="#a9d2f2" stroke-width="0.45"/>
<line x1="553.7" y1="191.8" x2="554.4" y2="200.0" stroke="#a9d2f2" stroke-width="0.45"/>
<line x1="556.8" y1="189.7" x2="557.6" y2="198.0" stroke="#a9d2f2" stroke-width="0.45"/>
<line x1="559.9" y1="187.6" x2="560.8" y2="196.0" stroke="#a9d2f2" stroke-width="0.45"/>
<path d="M598.0,189 V174" stroke="#8a5a2b" stroke-width="1.3"/>
<path d="M601.0,189 V174" stroke="#8a5a2b" stroke-width="1.3"/>
<path d="M605.8,189 V174" stroke="#8a5a2b" stroke-width="1.3"/>
<path d="M618.6,189 V174" stroke="#8a5a2b" stroke-width="1.3"/>
<path d="M626.8,189 V174" stroke="#8a5a2b" stroke-width="1.3"/>
<g fill="#72bd3e"><circle cx="592.0" cy="170.0" r="6.0"/><circle cx="599.0" cy="165.0" r="6.0"/><circle cx="607.0" cy="164.0" r="6.0"/><circle cx="612.0" cy="170.0" r="6.0"/><circle cx="603.0" cy="172.0" r="6.0"/><circle cx="621.0" cy="167.0" r="6.0"/><circle cx="629.0" cy="163.0" r="6.5"/><circle cx="635.0" cy="169.0" r="5.5"/><circle cx="626.0" cy="172.0" r="5.0"/><circle cx="619.0" cy="172.0" r="4.5"/></g><circle cx="620.3" cy="173.3" r="2.1" fill="#3e8a2c"/><circle cx="637.9" cy="171.3" r="1.1" fill="#3e8a2c"/><circle cx="615.9" cy="169.6" r="1.3" fill="#97d460"/><circle cx="628.1" cy="160.5" r="1.2" fill="#66b23a"/><circle cx="597.5" cy="161.7" r="2.0" fill="#61ac38"/><circle cx="615.7" cy="171.9" r="2.1" fill="#6fba3d"/><circle cx="605.9" cy="160.7" r="1.1" fill="#a9e070"/><circle cx="602.6" cy="170.3" r="1.8" fill="#9fd967"/><circle cx="604.6" cy="163.8" r="1.6" fill="#62ad38"/><circle cx="603.4" cy="167.6" r="1.1" fill="#5ca736"/><circle cx="627.2" cy="175.6" r="1.9" fill="#69b43a"/><circle cx="606.1" cy="169.7" r="1.1" fill="#9fd967"/><circle cx="604.9" cy="164.8" r="1.9" fill="#7cc347"/><circle cx="591.9" cy="173.5" r="2.0" fill="#3e8a2c"/><circle cx="603.4" cy="160.9" r="1.2" fill="#a9e070"/><circle cx="608.3" cy="162.2" r="2.0" fill="#81c74c"/><circle cx="611.1" cy="166.3" r="2.1" fill="#a9e070"/><circle cx="587.8" cy="167.9" r="1.2" fill="#57a234"/><circle cx="620.7" cy="174.3" r="1.5" fill="#6ab53b"/><circle cx="602.2" cy="167.0" r="2.0" fill="#44902e"/><circle cx="612.8" cy="173.0" r="1.3" fill="#529d32"/><circle cx="608.2" cy="160.2" r="2.2" fill="#a9e070"/><circle cx="638.8" cy="170.8" r="1.4" fill="#4c9730"/><circle cx="605.9" cy="174.3" r="1.8" fill="#3e8a2c"/><circle cx="606.0" cy="172.5" r="1.6" fill="#6bb63b"/><circle cx="628.3" cy="172.2" r="2.1" fill="#5eaa37"/><circle cx="621.7" cy="169.8" r="1.7" fill="#92d15b"/><circle cx="599.8" cy="171.8" r="2.0" fill="#60ac38"/><circle cx="605.1" cy="171.2" r="2.0" fill="#47922f"/><circle cx="605.3" cy="175.5" r="1.8" fill="#3e8a2c"/><circle cx="614.5" cy="168.6" r="2.0" fill="#8acc54"/><circle cx="637.6" cy="167.5" r="1.9" fill="#4a9630"/><circle cx="626.2" cy="160.8" r="1.7" fill="#68b33a"/><circle cx="622.6" cy="166.3" r="1.9" fill="#5faa37"/><circle cx="621.0" cy="172.8" r="1.2" fill="#7bc346"/><circle cx="610.3" cy="171.3" r="1.8" fill="#75be40"/><circle cx="603.5" cy="161.0" r="1.0" fill="#a9e070"/><circle cx="611.6" cy="165.4" r="1.7" fill="#6ab53b"/><circle cx="601.3" cy="166.0" r="2.0" fill="#a9e070"/><circle cx="631.0" cy="166.2" r="1.8" fill="#48942f"/><circle cx="606.3" cy="160.1" r="1.7" fill="#91d15a"/><circle cx="619.5" cy="164.7" r="1.0" fill="#4e9a31"/><circle cx="591.9" cy="169.4" r="1.2" fill="#62ad38"/><circle cx="606.7" cy="166.5" r="1.3" fill="#97d560"/><circle cx="608.9" cy="164.0" r="1.6" fill="#4f9b32"/><circle cx="601.8" cy="167.5" r="1.7" fill="#a3dc6a"/><circle cx="610.4" cy="163.4" r="2.0" fill="#64af39"/><circle cx="629.0" cy="162.4" r="1.2" fill="#9bd764"/><circle cx="619.4" cy="167.4" r="1.7" fill="#59a435"/><circle cx="626.9" cy="159.6" r="1.4" fill="#6fba3d"/><circle cx="602.3" cy="168.7" r="1.4" fill="#6eb93c"/><circle cx="627.0" cy="170.0" r="1.3" fill="#88cb52"/><circle cx="634.8" cy="169.0" r="1.9" fill="#8ccd55"/><circle cx="609.5" cy="169.7" r="1.8" fill="#4e9a31"/><circle cx="607.2" cy="165.6" r="1.2" fill="#55a134"/><circle cx="602.3" cy="175.3" r="2.0" fill="#75bf40"/><circle cx="624.2" cy="166.5" r="1.9" fill="#81c64b"/><circle cx="612.3" cy="169.1" r="1.4" fill="#63ae38"/><circle cx="594.4" cy="169.9" r="1.1" fill="#4c9830"/><circle cx="629.5" cy="171.6" r="1.9" fill="#7dc448"/><circle cx="632.3" cy="161.8" r="2.1" fill="#6cb73c"/><circle cx="625.2" cy="160.0" r="2.1" fill="#a9e070"/><circle cx="594.2" cy="170.4" r="1.2" fill="#6fba3c"/><circle cx="592.0" cy="165.3" r="1.1" fill="#a9e070"/><circle cx="617.6" cy="173.3" r="1.2" fill="#3e8a2c"/><circle cx="609.7" cy="163.9" r="1.6" fill="#74be40"/><circle cx="589.1" cy="172.3" r="1.8" fill="#88cb52"/><circle cx="616.5" cy="170.7" r="1.7" fill="#6fba3d"/><circle cx="600.0" cy="173.5" r="1.2" fill="#539f33"/><circle cx="598.9" cy="165.2" r="1.2" fill="#67b23a"/><circle cx="625.2" cy="171.4" r="1.8" fill="#7ac245"/><circle cx="634.2" cy="167.6" r="2.0" fill="#6eb93c"/><circle cx="631.1" cy="160.1" r="1.4" fill="#79c145"/><circle cx="598.9" cy="164.3" r="1.4" fill="#78c143"/><circle cx="607.2" cy="160.0" r="1.8" fill="#71bc3d"/><circle cx="630.2" cy="166.5" r="1.6" fill="#44902e"/><circle cx="618.6" cy="169.6" r="1.5" fill="#46922e"/><circle cx="634.9" cy="167.6" r="1.0" fill="#45902e"/><circle cx="620.1" cy="166.4" r="1.1" fill="#6eb93c"/><circle cx="606.6" cy="165.5" r="1.2" fill="#539f33"/><circle cx="600.0" cy="163.1" r="1.3" fill="#a9e070"/><circle cx="598.9" cy="167.6" r="2.1" fill="#a9e070"/><circle cx="623.8" cy="171.8" r="2.1" fill="#529d33"/><circle cx="592.5" cy="171.7" r="1.8" fill="#77c042"/><circle cx="626.1" cy="160.6" r="1.0" fill="#a9e070"/><circle cx="606.0" cy="163.9" r="1.3" fill="#89cc53"/><circle cx="626.3" cy="172.8" r="1.3" fill="#69b43a"/><circle cx="621.5" cy="166.5" r="1.0" fill="#3e8a2c"/><circle cx="635.4" cy="167.8" r="1.1" fill="#3e8a2c"/><circle cx="600.0" cy="166.0" r="1.1" fill="#96d35e"/><circle cx="595.9" cy="168.2" r="1.6" fill="#7dc448"/><circle cx="591.9" cy="168.9" r="1.7" fill="#48932f"/><circle cx="633.1" cy="161.7" r="1.6" fill="#a9e070"/><circle cx="612.8" cy="169.6" r="1.8" fill="#6cb73b"/><circle cx="602.9" cy="166.9" r="1.3" fill="#549f33"/><circle cx="590.8" cy="174.0" r="1.4" fill="#3e8a2c"/><circle cx="609.6" cy="169.7" r="1.1" fill="#7dc448"/><circle cx="597.0" cy="163.3" r="1.1" fill="#a1db69"/><circle cx="609.1" cy="163.9" r="1.7" fill="#65b139"/><circle cx="635.3" cy="171.4" r="1.7" fill="#3e8a2c"/><circle cx="626.0" cy="172.4" r="2.0" fill="#61ac38"/><circle cx="607.0" cy="159.9" r="1.2" fill="#a9e070"/><circle cx="600.4" cy="171.9" r="1.1" fill="#70bb3d"/><circle cx="628.0" cy="169.3" r="1.1" fill="#8ecf57"/><circle cx="609.6" cy="165.0" r="1.0" fill="#91d15a"/><circle cx="626.0" cy="159.1" r="1.2" fill="#91d05a"/><circle cx="625.0" cy="166.8" r="2.0" fill="#3e8a2c"/><circle cx="636.3" cy="167.1" r="1.5" fill="#64b039"/><circle cx="630.8" cy="166.2" r="2.2" fill="#9dd865"/><circle cx="587.8" cy="169.7" r="2.1" fill="#6fba3d"/><circle cx="607.6" cy="161.7" r="1.2" fill="#a9e070"/><circle cx="616.9" cy="164.9" r="1.3" fill="#5da836"/><circle cx="605.3" cy="162.5" r="2.0" fill="#59a435"/><circle cx="632.7" cy="170.6" r="1.2" fill="#59a535"/><circle cx="631.7" cy="167.8" r="1.2" fill="#93d25c"/><circle cx="591.4" cy="172.8" r="1.2" fill="#3e8a2c"/><circle cx="629.8" cy="164.1" r="2.0" fill="#5faa37"/><circle cx="620.3" cy="174.6" r="1.0" fill="#509b32"/><circle cx="614.1" cy="169.9" r="1.5" fill="#80c54a"/><circle cx="603.2" cy="165.4" r="1.8" fill="#80c64a"/><circle cx="624.1" cy="171.7" r="2.0" fill="#4c9831"/><circle cx="606.0" cy="170.1" r="1.6" fill="#519c32"/><circle cx="617.9" cy="173.7" r="1.4" fill="#3e8a2c"/><circle cx="627.4" cy="171.7" r="2.1" fill="#3e8a2c"/><circle cx="626.6" cy="170.4" r="1.6" fill="#6fba3d"/><circle cx="607.5" cy="160.9" r="2.1" fill="#83c84d"/><circle cx="636.1" cy="170.5" r="1.1" fill="#59a535"/><circle cx="623.9" cy="169.2" r="1.4" fill="#48932f"/><circle cx="602.8" cy="162.9" r="2.1" fill="#7ec449"/><circle cx="595.2" cy="170.9" r="1.3" fill="#4b9630"/><circle cx="589.4" cy="169.4" r="2.1" fill="#4f9b32"/><circle cx="626.0" cy="166.2" r="1.6" fill="#70bb3d"/><circle cx="601.4" cy="170.3" r="1.2" fill="#3e8a2c"/>
<path d="M647,350 H664 L668,356.5 H688 L692,350 H711" fill="none" stroke="#111" stroke-width="1.6"/>
<g fill="#3f9a3a"><circle cx="661.0" cy="346.0" r="6.0"/><circle cx="670.0" cy="343.0" r="6.0"/><circle cx="679.0" cy="344.0" r="6.5"/><circle cx="688.0" cy="345.0" r="6.0"/><circle cx="665.0" cy="351.0" r="5.0"/><circle cx="685.0" cy="351.0" r="5.0"/></g><circle cx="686.7" cy="352.6" r="1.3" fill="#246b24"/><circle cx="665.9" cy="352.2" r="1.5" fill="#246b24"/><circle cx="662.7" cy="347.5" r="1.3" fill="#2c7a2b"/><circle cx="687.1" cy="350.0" r="1.4" fill="#246b24"/><circle cx="687.2" cy="345.5" r="1.2" fill="#65b74d"/><circle cx="680.4" cy="342.5" r="1.7" fill="#2c7a2b"/><circle cx="663.0" cy="349.5" r="2.1" fill="#3c9638"/><circle cx="691.4" cy="346.8" r="1.8" fill="#2b7729"/><circle cx="679.1" cy="342.8" r="1.1" fill="#3e9839"/><circle cx="690.2" cy="347.0" r="1.8" fill="#50a743"/><circle cx="667.5" cy="340.7" r="1.2" fill="#6cbd51"/><circle cx="663.4" cy="353.4" r="1.0" fill="#246b24"/><circle cx="679.8" cy="342.8" r="1.5" fill="#5aaf48"/><circle cx="657.2" cy="345.0" r="1.5" fill="#398f35"/><circle cx="686.8" cy="346.8" r="1.8" fill="#358932"/><circle cx="671.4" cy="338.6" r="1.3" fill="#52a944"/><circle cx="659.9" cy="348.2" r="1.3" fill="#47a03e"/><circle cx="665.2" cy="344.8" r="1.7" fill="#2f7f2d"/><circle cx="665.7" cy="346.0" r="1.2" fill="#419b3b"/><circle cx="670.1" cy="342.8" r="1.4" fill="#378c33"/><circle cx="691.9" cy="344.1" r="1.4" fill="#348731"/><circle cx="670.9" cy="346.3" r="2.1" fill="#2d7b2b"/><circle cx="679.5" cy="345.0" r="2.0" fill="#2e7c2c"/><circle cx="674.7" cy="345.9" r="1.4" fill="#6fbf53"/><circle cx="660.8" cy="348.9" r="1.2" fill="#338530"/><circle cx="680.1" cy="338.8" r="1.8" fill="#7cc95a"/><circle cx="658.3" cy="348.7" r="2.1" fill="#256e25"/><circle cx="690.7" cy="345.6" r="1.9" fill="#2c792a"/><circle cx="691.4" cy="345.4" r="1.5" fill="#287327"/><circle cx="666.1" cy="350.5" r="2.0" fill="#57ac46"/><circle cx="689.3" cy="342.3" r="1.5" fill="#297328"/><circle cx="680.5" cy="347.2" r="1.2" fill="#67b94f"/><circle cx="668.7" cy="338.5" r="1.1" fill="#59ae48"/><circle cx="676.9" cy="345.8" r="1.1" fill="#3b9336"/><circle cx="658.0" cy="346.9" r="1.6" fill="#7cc95a"/><circle cx="661.0" cy="342.4" r="1.7" fill="#7cc95a"/><circle cx="670.5" cy="341.2" r="1.7" fill="#7cc95a"/><circle cx="691.4" cy="345.0" r="1.4" fill="#59ae48"/><circle cx="664.6" cy="347.9" r="1.7" fill="#2b782a"/><circle cx="662.5" cy="343.2" r="1.5" fill="#6cbd52"/><circle cx="683.7" cy="349.3" r="1.4" fill="#246b24"/><circle cx="661.6" cy="348.9" r="1.1" fill="#3d9839"/><circle cx="659.6" cy="350.5" r="1.4" fill="#5aaf48"/><circle cx="686.5" cy="341.3" r="2.1" fill="#439d3c"/><circle cx="666.7" cy="345.9" r="2.0" fill="#338630"/><circle cx="661.7" cy="349.6" r="1.1" fill="#5cb149"/><circle cx="682.0" cy="350.9" r="1.3" fill="#246b24"/><circle cx="672.7" cy="340.8" r="1.9" fill="#398f35"/><circle cx="686.5" cy="341.1" r="1.3" fill="#419c3b"/><circle cx="686.6" cy="351.2" r="1.8" fill="#246b24"/><circle cx="682.4" cy="351.8" r="1.7" fill="#3b9337"/><circle cx="678.6" cy="342.2" r="1.5" fill="#7cc95a"/><circle cx="677.5" cy="348.9" r="1.3" fill="#32842f"/><circle cx="662.7" cy="345.5" r="1.7" fill="#32842f"/><circle cx="678.7" cy="346.0" r="1.6" fill="#277127"/><circle cx="682.8" cy="352.4" r="2.0" fill="#277026"/><circle cx="689.2" cy="343.4" r="1.2" fill="#5cb049"/><circle cx="670.2" cy="339.4" r="2.0" fill="#3b9437"/><circle cx="674.5" cy="343.9" r="2.0" fill="#297328"/><circle cx="659.4" cy="348.5" r="1.2" fill="#2f7f2d"/><circle cx="682.5" cy="351.8" r="2.2" fill="#3b9437"/><circle cx="669.0" cy="340.0" r="2.1" fill="#4ca441"/><circle cx="684.6" cy="345.7" r="1.7" fill="#63b64d"/><circle cx="691.5" cy="342.2" r="2.1" fill="#7cc95a"/><circle cx="666.0" cy="350.7" r="1.7" fill="#368b33"/><circle cx="660.9" cy="349.7" r="1.5" fill="#378d34"/><circle cx="682.1" cy="346.1" r="1.1" fill="#69ba50"/><circle cx="683.2" cy="352.1" r="2.0" fill="#246b24"/><circle cx="672.5" cy="341.9" r="1.4" fill="#53aa44"/>
<rect x="604" y="350.5" width="40.2" height="10" fill="#5b92cd" stroke="#3f6f9f" stroke-width="0.5"/>
<path d="M597.2,341.5 V357.8 H604" fill="none" stroke="#b8925a" stroke-width="1"/>
<path d="M646,345 V358 H644" fill="none" stroke="#111" stroke-width="1.2"/>
<path d="M468,347.5 L482,340.5 H500 V343 H482.2 L475.3,348.3 Z" fill="#86c757"/>
<path d="M475.3,348.3 L482.2,342.2 H508.6 L514,345.7 C516,347 517,349 518.3,349.2 C521,349.5 524,347.6 526.7,347.8 C530,348 532,350 535,349.9 C538,349.8 541,348.5 543.3,348.5 C546,348.5 547,346 549,345.5" fill="none" stroke="#86c757" stroke-width="4" transform="translate(0,-2.2)"/>
<path d="M475.3,348.3 L482.2,342.2 H508.6 L514,345.7 C516,347 517,349 518.3,349.2 C521,349.5 524,347.6 526.7,347.8 C530,348 532,350 535,349.9 C538,349.8 541,348.5 543.3,348.5 C546,348.5 547,346 549,345.5" fill="none" stroke="#111" stroke-width="1.8"/>
<path d="M549,344.8 H647 V350" fill="none" stroke="#111" stroke-width="1.8"/>
<g fill="none" stroke="#7a5a36" stroke-linecap="round"><path d="M483.0,341.0 C482.5,331.0 483.5,320.0 483.0,312.0" stroke-width="4.2"/><path d="M483.0,326.0 Q476.5,324.0 470.0,312.0" stroke-width="1.6"/><path d="M483.0,324.0 Q489.0,322.0 495.0,312.0" stroke-width="1.6"/></g>
<g fill="none" stroke="#7a5a36" stroke-linecap="round"><path d="M500.5,341.0 C500.0,331.0 501.0,320.0 500.5,312.0" stroke-width="4.0"/><path d="M500.5,324.0 Q505.2,322.0 510.0,312.0" stroke-width="1.6"/></g>
<g fill="#45994a"><circle cx="516.0" cy="272.0" r="10.0"/><circle cx="522.0" cy="290.0" r="12.0"/><circle cx="516.0" cy="306.0" r="10.0"/><circle cx="506.0" cy="296.0" r="9.0"/></g><circle cx="510.0" cy="268.7" r="1.1" fill="#62b05b"/><circle cx="517.8" cy="281.2" r="1.6" fill="#86cc70"/><circle cx="513.7" cy="308.0" r="1.3" fill="#409247"/><circle cx="519.4" cy="283.0" r="1.1" fill="#286d3b"/><circle cx="509.4" cy="307.3" r="1.7" fill="#409247"/><circle cx="521.6" cy="281.6" r="1.1" fill="#419348"/><circle cx="523.2" cy="284.8" r="1.7" fill="#54a452"/><circle cx="514.8" cy="277.4" r="1.8" fill="#3b8a45"/><circle cx="507.0" cy="293.3" r="2.1" fill="#3d8d46"/><circle cx="513.5" cy="303.9" r="1.6" fill="#439749"/><circle cx="499.5" cy="298.8" r="1.7" fill="#2d743e"/><circle cx="523.7" cy="294.5" r="1.5" fill="#30793f"/><circle cx="515.5" cy="298.5" r="1.8" fill="#5dac58"/><circle cx="512.3" cy="298.8" r="1.6" fill="#67b45e"/><circle cx="512.5" cy="310.5" r="1.5" fill="#419248"/><circle cx="518.3" cy="311.2" r="2.0" fill="#25683a"/><circle cx="511.3" cy="311.3" r="1.2" fill="#25683a"/><circle cx="519.8" cy="275.2" r="1.5" fill="#86cc70"/><circle cx="511.7" cy="292.8" r="1.8" fill="#25683a"/><circle cx="517.1" cy="295.8" r="1.1" fill="#2c733d"/><circle cx="501.8" cy="296.8" r="1.1" fill="#76bf66"/><circle cx="520.7" cy="268.6" r="1.4" fill="#86cc70"/><circle cx="511.5" cy="267.1" r="2.2" fill="#45994a"/><circle cx="515.2" cy="288.1" r="1.1" fill="#7ac268"/><circle cx="510.7" cy="275.4" r="1.2" fill="#3d8d46"/><circle cx="517.5" cy="268.5" r="1.0" fill="#69b55f"/><circle cx="517.7" cy="305.2" r="1.3" fill="#358142"/><circle cx="506.4" cy="290.0" r="1.0" fill="#55a653"/><circle cx="507.6" cy="300.2" r="1.5" fill="#25683a"/><circle cx="521.1" cy="312.2" r="1.6" fill="#25683a"/><circle cx="522.2" cy="306.4" r="1.8" fill="#409147"/><circle cx="525.8" cy="287.7" r="1.9" fill="#5dab58"/><circle cx="510.3" cy="306.4" r="1.5" fill="#25683a"/><circle cx="511.0" cy="291.8" r="1.0" fill="#6db861"/><circle cx="517.5" cy="314.2" r="2.0" fill="#26693a"/><circle cx="506.9" cy="294.0" r="1.5" fill="#58a855"/><circle cx="519.6" cy="312.4" r="2.1" fill="#276c3b"/><circle cx="516.6" cy="290.8" r="1.0" fill="#3b8945"/><circle cx="514.3" cy="270.6" r="2.0" fill="#86cc70"/><circle cx="524.8" cy="292.3" r="1.6" fill="#409247"/><circle cx="518.6" cy="305.5" r="1.7" fill="#429448"/><circle cx="526.6" cy="289.4" r="1.9" fill="#358042"/><circle cx="531.8" cy="285.7" r="1.6" fill="#337e41"/><circle cx="516.9" cy="300.2" r="1.6" fill="#348041"/><circle cx="515.7" cy="314.6" r="2.1" fill="#25683a"/><circle cx="500.7" cy="298.8" r="2.1" fill="#2b723d"/><circle cx="503.7" cy="301.5" r="1.2" fill="#2e763e"/><circle cx="512.7" cy="288.3" r="2.0" fill="#25683a"/><circle cx="517.1" cy="279.7" r="1.4" fill="#7fc66c"/><circle cx="518.5" cy="285.5" r="1.4" fill="#86cc70"/><circle cx="521.1" cy="289.7" r="2.2" fill="#70ba63"/><circle cx="513.6" cy="312.9" r="1.3" fill="#25683a"/><circle cx="519.1" cy="300.6" r="1.1" fill="#4d9f4e"/><circle cx="523.5" cy="284.7" r="2.1" fill="#7ac369"/><circle cx="521.5" cy="306.5" r="2.0" fill="#409247"/><circle cx="514.8" cy="279.7" r="2.1" fill="#499c4c"/><circle cx="517.5" cy="273.8" r="1.2" fill="#86cc70"/><circle cx="509.5" cy="277.7" r="1.3" fill="#3f9047"/><circle cx="516.5" cy="270.3" r="1.0" fill="#84cb6f"/><circle cx="525.1" cy="292.0" r="1.6" fill="#4fa150"/><circle cx="528.3" cy="285.1" r="2.0" fill="#3d8c46"/><circle cx="512.5" cy="289.4" r="2.2" fill="#358142"/><circle cx="510.7" cy="308.3" r="1.8" fill="#25683a"/><circle cx="513.0" cy="280.2" r="1.2" fill="#86cc70"/><circle cx="508.4" cy="274.0" r="1.6" fill="#86cc70"/><circle cx="515.6" cy="289.2" r="1.6" fill="#63b15c"/><circle cx="509.3" cy="273.5" r="1.6" fill="#5fad59"/><circle cx="525.8" cy="298.1" r="2.1" fill="#25683a"/><circle cx="512.4" cy="278.9" r="1.2" fill="#2f783f"/><circle cx="524.8" cy="297.3" r="2.0" fill="#56a654"/><circle cx="503.2" cy="290.4" r="2.0" fill="#439749"/><circle cx="519.6" cy="311.8" r="1.8" fill="#25683a"/><circle cx="518.7" cy="296.4" r="1.8" fill="#2e753e"/><circle cx="516.6" cy="291.0" r="1.1" fill="#337d41"/><circle cx="516.3" cy="282.2" r="1.8" fill="#4b9e4d"/><circle cx="526.4" cy="295.8" r="1.1" fill="#296f3c"/><circle cx="522.9" cy="300.1" r="1.3" fill="#25683a"/><circle cx="517.1" cy="287.0" r="1.1" fill="#429548"/><circle cx="514.6" cy="275.6" r="2.1" fill="#86cc70"/><circle cx="505.8" cy="293.7" r="1.6" fill="#6db861"/><circle cx="528.3" cy="289.5" r="1.8" fill="#25683a"/><circle cx="514.7" cy="277.5" r="1.4" fill="#86cc70"/><circle cx="509.7" cy="308.7" r="1.9" fill="#50a150"/><circle cx="516.9" cy="271.0" r="2.1" fill="#7dc56b"/><circle cx="521.3" cy="313.0" r="1.7" fill="#25683a"/><circle cx="525.1" cy="286.1" r="1.8" fill="#2e763e"/><circle cx="515.5" cy="279.9" r="1.9" fill="#70bb63"/><circle cx="522.3" cy="277.4" r="1.5" fill="#45994a"/><circle cx="516.4" cy="272.8" r="2.2" fill="#398644"/><circle cx="514.6" cy="268.1" r="1.1" fill="#86cc70"/><circle cx="510.7" cy="265.3" r="1.3" fill="#86cc70"/><circle cx="519.1" cy="311.5" r="1.5" fill="#25683a"/><circle cx="513.3" cy="290.4" r="1.4" fill="#479a4b"/><circle cx="516.6" cy="296.5" r="1.3" fill="#25683a"/><circle cx="508.0" cy="274.4" r="1.5" fill="#7cc46a"/><circle cx="531.1" cy="287.4" r="1.0" fill="#337e41"/><circle cx="512.5" cy="313.8" r="2.0" fill="#25683a"/><circle cx="517.3" cy="299.6" r="1.9" fill="#25683a"/><circle cx="522.0" cy="304.4" r="1.7" fill="#2d743e"/><circle cx="521.9" cy="277.6" r="1.3" fill="#86cc70"/><circle cx="521.5" cy="300.5" r="1.1" fill="#469a4a"/><circle cx="517.4" cy="293.8" r="1.3" fill="#3f9047"/><circle cx="530.7" cy="287.6" r="1.3" fill="#4d9f4f"/><circle cx="516.4" cy="299.1" r="1.3" fill="#388543"/><circle cx="523.3" cy="271.5" r="1.9" fill="#3d8d46"/><circle cx="516.7" cy="271.9" r="1.4" fill="#368242"/><circle cx="516.3" cy="270.9" r="1.5" fill="#86cc70"/><circle cx="522.6" cy="282.0" r="1.4" fill="#54a452"/><circle cx="511.2" cy="307.7" r="1.5" fill="#25683a"/><circle cx="511.8" cy="313.3" r="1.4" fill="#378443"/><circle cx="513.2" cy="307.1" r="1.0" fill="#25683a"/><circle cx="510.5" cy="275.8" r="1.7" fill="#358142"/><circle cx="507.7" cy="301.6" r="1.3" fill="#3f9147"/><circle cx="512.3" cy="274.6" r="1.6" fill="#70bb63"/><circle cx="520.5" cy="279.0" r="1.4" fill="#68b55e"/><circle cx="505.3" cy="303.7" r="1.1" fill="#429548"/><circle cx="524.3" cy="285.9" r="1.5" fill="#5baa57"/><circle cx="521.0" cy="299.1" r="2.0" fill="#25683a"/><circle cx="522.6" cy="267.0" r="1.4" fill="#409147"/><circle cx="519.0" cy="281.6" r="1.2" fill="#378443"/><circle cx="519.4" cy="278.9" r="2.2" fill="#5eac58"/><circle cx="516.8" cy="273.4" r="1.8" fill="#3d8e46"/><circle cx="515.6" cy="307.5" r="2.1" fill="#25683a"/><circle cx="530.0" cy="286.0" r="1.9" fill="#4fa04f"/><circle cx="520.1" cy="296.0" r="1.4" fill="#45994a"/><circle cx="507.4" cy="294.8" r="1.2" fill="#347f41"/><circle cx="523.1" cy="270.7" r="1.2" fill="#7fc66c"/><circle cx="527.4" cy="291.8" r="1.1" fill="#60ae5a"/><circle cx="512.6" cy="291.9" r="1.1" fill="#358142"/><circle cx="504.1" cy="300.3" r="1.3" fill="#3d8d46"/><circle cx="509.6" cy="292.9" r="1.5" fill="#489b4b"/><circle cx="511.5" cy="271.4" r="1.2" fill="#4b9e4d"/><circle cx="513.7" cy="307.6" r="2.1" fill="#307a3f"/><circle cx="515.1" cy="269.4" r="1.7" fill="#86cc70"/><circle cx="501.3" cy="296.1" r="1.6" fill="#489b4b"/><circle cx="517.3" cy="313.7" r="1.6" fill="#398744"/><circle cx="513.0" cy="309.1" r="1.2" fill="#25683a"/><circle cx="517.2" cy="282.2" r="1.3" fill="#83c96e"/><circle cx="499.5" cy="292.6" r="1.0" fill="#347f41"/><circle cx="520.2" cy="291.9" r="1.4" fill="#327c40"/><circle cx="513.5" cy="293.8" r="1.8" fill="#3f9047"/><circle cx="514.5" cy="285.4" r="1.7" fill="#86cc70"/><circle cx="516.1" cy="273.6" r="1.9" fill="#409247"/><circle cx="515.0" cy="270.4" r="1.1" fill="#72bc64"/><circle cx="516.6" cy="281.9" r="1.2" fill="#2c733d"/><circle cx="516.6" cy="313.4" r="1.3" fill="#347f41"/><circle cx="516.7" cy="278.5" r="1.2" fill="#86cc70"/><circle cx="502.3" cy="290.8" r="1.4" fill="#3c8b45"/><circle cx="530.3" cy="292.2" r="2.1" fill="#2f773f"/><circle cx="521.3" cy="282.9" r="1.3" fill="#317b40"/><circle cx="511.3" cy="304.3" r="1.2" fill="#337e41"/><circle cx="519.7" cy="298.5" r="1.0" fill="#3d8d46"/><circle cx="520.8" cy="285.1" r="2.1" fill="#3f9147"/><circle cx="506.3" cy="293.8" r="1.2" fill="#398744"/><circle cx="521.1" cy="287.5" r="2.1" fill="#6bb760"/><circle cx="501.5" cy="297.0" r="1.9" fill="#286c3b"/><circle cx="512.9" cy="275.3" r="1.8" fill="#86cc70"/><circle cx="518.8" cy="280.3" r="1.5" fill="#3e8f46"/><circle cx="513.0" cy="273.8" r="1.9" fill="#86cc70"/><circle cx="505.4" cy="295.3" r="1.8" fill="#3d8c46"/><circle cx="509.4" cy="277.4" r="2.1" fill="#86cc70"/><circle cx="525.6" cy="287.0" r="1.5" fill="#2e763e"/><circle cx="510.4" cy="303.5" r="2.0" fill="#266a3a"/><circle cx="518.5" cy="285.3" r="1.6" fill="#317a40"/><circle cx="507.8" cy="297.2" r="1.3" fill="#25683a"/><circle cx="507.6" cy="273.7" r="2.1" fill="#479b4b"/><circle cx="521.3" cy="300.2" r="2.2" fill="#26693a"/><circle cx="515.4" cy="308.7" r="2.0" fill="#25683a"/><circle cx="514.2" cy="302.0" r="1.4" fill="#2d743e"/><circle cx="505.8" cy="296.1" r="2.1" fill="#70ba63"/><circle cx="510.8" cy="268.2" r="1.0" fill="#86cc70"/><circle cx="523.6" cy="296.8" r="1.9" fill="#266b3a"/><circle cx="500.4" cy="294.2" r="2.0" fill="#50a150"/>
<g fill="#7cc44c"><circle cx="470.0" cy="278.0" r="12.0"/><circle cx="483.0" cy="267.0" r="12.0"/><circle cx="497.0" cy="280.0" r="13.0"/><circle cx="478.0" cy="297.0" r="15.0"/><circle cx="464.0" cy="298.0" r="10.0"/><circle cx="500.0" cy="300.0" r="12.0"/><circle cx="488.0" cy="307.0" r="10.0"/><circle cx="459.0" cy="289.0" r="6.0"/><circle cx="506.0" cy="290.0" r="6.0"/></g><circle cx="460.6" cy="298.7" r="1.3" fill="#9dd56f"/><circle cx="491.5" cy="283.5" r="1.6" fill="#76bf49"/><circle cx="464.5" cy="306.5" r="1.3" fill="#81c752"/><circle cx="475.7" cy="262.1" r="2.2" fill="#c0e894"/><circle cx="456.8" cy="293.5" r="1.8" fill="#7fc650"/><circle cx="473.3" cy="297.9" r="1.8" fill="#66af41"/><circle cx="507.1" cy="291.1" r="1.1" fill="#7fc54f"/><circle cx="487.7" cy="300.2" r="1.3" fill="#4f9a36"/><circle cx="474.4" cy="309.4" r="1.9" fill="#72bb47"/><circle cx="458.9" cy="297.8" r="2.1" fill="#5ca63c"/><circle cx="503.6" cy="286.2" r="1.2" fill="#88ca58"/><circle cx="484.7" cy="286.6" r="2.1" fill="#adde80"/><circle cx="483.4" cy="298.5" r="1.3" fill="#77bf49"/><circle cx="469.0" cy="281.3" r="2.0" fill="#99d36a"/><circle cx="476.8" cy="265.3" r="2.2" fill="#91cf63"/><circle cx="465.1" cy="302.5" r="1.0" fill="#73bb47"/><circle cx="498.9" cy="276.2" r="1.5" fill="#afdf82"/><circle cx="466.9" cy="280.4" r="1.5" fill="#92cf63"/><circle cx="488.3" cy="272.9" r="1.1" fill="#c0e894"/><circle cx="459.4" cy="287.3" r="2.0" fill="#92d064"/><circle cx="483.3" cy="298.9" r="1.1" fill="#4f9a36"/><circle cx="476.2" cy="290.6" r="1.4" fill="#5ba53c"/><circle cx="479.5" cy="260.2" r="1.6" fill="#a8db7a"/><circle cx="481.4" cy="264.6" r="1.7" fill="#c0e894"/><circle cx="480.2" cy="262.8" r="1.9" fill="#bbe58f"/><circle cx="495.9" cy="284.2" r="1.4" fill="#78c04a"/><circle cx="479.8" cy="261.7" r="1.8" fill="#8fce60"/><circle cx="474.8" cy="281.8" r="2.2" fill="#c0e894"/><circle cx="498.3" cy="286.2" r="1.2" fill="#5ba53b"/><circle cx="466.8" cy="287.6" r="1.8" fill="#64ad40"/><circle cx="507.5" cy="301.1" r="2.2" fill="#4f9a36"/><circle cx="466.4" cy="273.4" r="2.2" fill="#96d268"/><circle cx="504.0" cy="287.0" r="2.1" fill="#5da73d"/><circle cx="500.0" cy="273.3" r="1.2" fill="#61ab3f"/><circle cx="503.8" cy="274.3" r="1.7" fill="#9bd46d"/><circle cx="503.6" cy="297.4" r="1.9" fill="#4f9a36"/><circle cx="502.3" cy="292.5" r="1.5" fill="#6cb544"/><circle cx="482.4" cy="287.8" r="1.3" fill="#559f39"/><circle cx="457.1" cy="300.5" r="1.5" fill="#7cc44c"/><circle cx="469.4" cy="273.1" r="1.6" fill="#73bb47"/><circle cx="477.7" cy="277.4" r="1.9" fill="#5ca63c"/><circle cx="497.8" cy="270.5" r="1.7" fill="#69b242"/><circle cx="502.8" cy="277.8" r="2.0" fill="#5fa93d"/><circle cx="476.3" cy="295.6" r="2.2" fill="#519c37"/><circle cx="508.2" cy="303.7" r="1.7" fill="#6bb443"/><circle cx="480.8" cy="308.9" r="2.1" fill="#4f9a36"/><circle cx="458.6" cy="292.6" r="1.8" fill="#56a139"/><circle cx="492.2" cy="277.7" r="2.0" fill="#60aa3e"/><circle cx="496.5" cy="292.2" r="1.4" fill="#72bb47"/><circle cx="474.4" cy="275.3" r="1.1" fill="#8ecd5f"/><circle cx="496.3" cy="276.6" r="1.3" fill="#b2e085"/><circle cx="476.4" cy="281.7" r="1.1" fill="#65ae40"/><circle cx="466.4" cy="273.2" r="1.9" fill="#c0e894"/><circle cx="486.4" cy="300.6" r="1.7" fill="#4f9a36"/><circle cx="472.6" cy="309.7" r="1.6" fill="#4f9a36"/><circle cx="486.8" cy="313.0" r="2.1" fill="#4f9a36"/><circle cx="461.0" cy="275.3" r="1.2" fill="#adde80"/><circle cx="506.2" cy="291.3" r="1.5" fill="#57a23a"/><circle cx="509.2" cy="290.9" r="2.1" fill="#4f9a36"/><circle cx="482.4" cy="277.7" r="1.6" fill="#63ad3f"/><circle cx="471.5" cy="297.2" r="1.2" fill="#69b343"/><circle cx="503.3" cy="286.0" r="1.6" fill="#4f9a36"/><circle cx="466.0" cy="287.6" r="2.0" fill="#62ac3f"/><circle cx="491.8" cy="262.7" r="1.0" fill="#b8e48c"/><circle cx="473.8" cy="298.3" r="1.2" fill="#5ba53c"/><circle cx="464.1" cy="291.0" r="2.2" fill="#aadc7d"/><circle cx="478.5" cy="294.1" r="1.1" fill="#4f9a36"/><circle cx="489.1" cy="295.7" r="1.4" fill="#4f9a36"/><circle cx="481.6" cy="265.5" r="1.4" fill="#c0e894"/><circle cx="473.8" cy="278.0" r="1.4" fill="#69b243"/><circle cx="461.4" cy="299.0" r="1.4" fill="#4f9a36"/><circle cx="474.6" cy="277.7" r="1.4" fill="#7fc54f"/><circle cx="491.8" cy="303.7" r="1.9" fill="#4f9a36"/><circle cx="488.0" cy="271.2" r="1.3" fill="#6ab343"/><circle cx="504.6" cy="282.7" r="1.6" fill="#63ad40"/><circle cx="492.2" cy="276.1" r="1.9" fill="#76bf49"/><circle cx="474.7" cy="292.2" r="1.6" fill="#71b946"/><circle cx="476.0" cy="288.9" r="1.2" fill="#60aa3e"/><circle cx="461.8" cy="306.0" r="2.0" fill="#85c956"/><circle cx="498.5" cy="268.5" r="1.3" fill="#7ac24b"/><circle cx="497.2" cy="300.7" r="1.8" fill="#519b37"/><circle cx="472.7" cy="308.0" r="2.1" fill="#5ea83d"/><circle cx="458.8" cy="286.7" r="2.2" fill="#80c651"/><circle cx="507.3" cy="281.4" r="1.2" fill="#9bd46d"/><circle cx="492.9" cy="276.5" r="1.8" fill="#74bd48"/><circle cx="468.2" cy="298.0" r="1.0" fill="#85c855"/><circle cx="456.9" cy="285.3" r="1.3" fill="#6fb846"/><circle cx="476.8" cy="298.0" r="1.6" fill="#77bf49"/><circle cx="489.2" cy="280.2" r="1.8" fill="#a5da78"/><circle cx="501.4" cy="295.6" r="1.9" fill="#4f9a36"/><circle cx="482.7" cy="299.4" r="1.8" fill="#6eb745"/><circle cx="483.4" cy="309.9" r="2.1" fill="#4f9a36"/><circle cx="490.1" cy="293.2" r="1.3" fill="#67b142"/><circle cx="500.8" cy="292.8" r="1.3" fill="#7cc44d"/><circle cx="466.3" cy="299.8" r="1.2" fill="#5ea83d"/><circle cx="494.3" cy="289.9" r="1.5" fill="#7bc34b"/><circle cx="467.2" cy="291.8" r="2.1" fill="#56a039"/><circle cx="477.0" cy="302.7" r="1.5" fill="#7cc44c"/><circle cx="504.4" cy="296.2" r="1.7" fill="#5ea83d"/><circle cx="482.2" cy="289.0" r="2.2" fill="#4f9a36"/><circle cx="465.0" cy="301.8" r="1.7" fill="#4f9a36"/><circle cx="482.0" cy="291.0" r="1.1" fill="#63ac3f"/><circle cx="485.9" cy="267.3" r="1.1" fill="#88ca59"/><circle cx="473.1" cy="278.9" r="1.6" fill="#a7da79"/><circle cx="462.5" cy="285.4" r="1.8" fill="#65ae40"/><circle cx="481.7" cy="284.0" r="2.1" fill="#61ab3e"/><circle cx="485.5" cy="296.4" r="1.6" fill="#539e38"/><circle cx="479.9" cy="284.4" r="1.2" fill="#5ea83d"/><circle cx="483.6" cy="298.2" r="1.9" fill="#4f9a36"/><circle cx="487.0" cy="314.0" r="1.5" fill="#4f9a36"/><circle cx="500.5" cy="310.6" r="1.6" fill="#529d37"/><circle cx="493.7" cy="292.6" r="2.1" fill="#76bf49"/><circle cx="486.1" cy="299.3" r="1.5" fill="#4f9a36"/><circle cx="485.9" cy="295.4" r="1.4" fill="#59a33b"/><circle cx="482.1" cy="290.2" r="1.5" fill="#5ca63c"/><circle cx="473.9" cy="262.4" r="1.7" fill="#b5e289"/><circle cx="488.0" cy="282.5" r="1.4" fill="#85c855"/><circle cx="482.2" cy="290.2" r="2.0" fill="#a0d772"/><circle cx="479.9" cy="275.6" r="1.8" fill="#87ca58"/><circle cx="488.7" cy="303.7" r="1.8" fill="#59a33a"/><circle cx="478.1" cy="262.8" r="1.2" fill="#c0e894"/><circle cx="479.6" cy="272.1" r="1.8" fill="#8bcc5c"/><circle cx="474.9" cy="304.5" r="1.7" fill="#5ba53c"/><circle cx="471.0" cy="268.6" r="1.7" fill="#6fb846"/><circle cx="461.8" cy="272.9" r="1.5" fill="#6cb544"/><circle cx="479.4" cy="272.9" r="1.5" fill="#c0e894"/><circle cx="482.8" cy="275.7" r="1.4" fill="#6fb845"/><circle cx="487.7" cy="261.3" r="1.7" fill="#a4d977"/><circle cx="492.0" cy="281.4" r="2.2" fill="#63ad3f"/><circle cx="490.7" cy="293.6" r="2.1" fill="#60aa3e"/><circle cx="461.2" cy="305.7" r="2.1" fill="#6bb443"/><circle cx="501.1" cy="296.1" r="1.1" fill="#67b142"/><circle cx="508.0" cy="286.6" r="1.8" fill="#78c04a"/><circle cx="478.2" cy="266.9" r="1.5" fill="#c0e894"/><circle cx="461.9" cy="271.6" r="2.1" fill="#6ab343"/><circle cx="506.1" cy="286.8" r="1.2" fill="#529c37"/><circle cx="490.2" cy="315.4" r="2.2" fill="#4f9a36"/><circle cx="490.7" cy="273.8" r="1.3" fill="#c0e894"/><circle cx="502.7" cy="287.7" r="2.0" fill="#5da73d"/><circle cx="506.2" cy="292.2" r="1.8" fill="#90ce61"/><circle cx="496.3" cy="302.2" r="1.3" fill="#73bb47"/><circle cx="496.4" cy="296.5" r="2.2" fill="#6ab343"/><circle cx="461.1" cy="283.4" r="1.8" fill="#58a33a"/><circle cx="498.4" cy="309.8" r="1.7" fill="#4f9a36"/><circle cx="502.5" cy="288.0" r="1.9" fill="#4f9a36"/><circle cx="495.0" cy="287.9" r="1.8" fill="#4f9a36"/><circle cx="460.7" cy="293.8" r="1.4" fill="#b1e084"/><circle cx="466.2" cy="278.3" r="1.2" fill="#85c855"/><circle cx="480.2" cy="273.4" r="2.0" fill="#74bd48"/><circle cx="487.9" cy="308.8" r="1.9" fill="#509b36"/><circle cx="493.0" cy="314.2" r="2.0" fill="#4f9a36"/><circle cx="493.0" cy="304.8" r="1.5" fill="#4f9a36"/><circle cx="472.0" cy="271.3" r="1.6" fill="#bae58e"/><circle cx="476.5" cy="271.2" r="1.1" fill="#9ed670"/><circle cx="490.4" cy="308.2" r="1.4" fill="#4f9a36"/><circle cx="463.1" cy="300.3" r="1.2" fill="#529d37"/><circle cx="456.6" cy="296.5" r="1.6" fill="#79c14a"/><circle cx="486.9" cy="309.8" r="1.3" fill="#6db644"/><circle cx="489.6" cy="286.8" r="2.0" fill="#87ca58"/><circle cx="459.9" cy="291.0" r="1.8" fill="#5ba53c"/><circle cx="470.1" cy="300.3" r="2.1" fill="#87c957"/><circle cx="506.2" cy="290.5" r="1.8" fill="#4f9a36"/><circle cx="462.6" cy="280.1" r="1.5" fill="#c0e894"/><circle cx="492.9" cy="277.3" r="1.4" fill="#6db644"/><circle cx="507.8" cy="280.4" r="1.5" fill="#89cb5a"/><circle cx="497.3" cy="280.1" r="1.3" fill="#79c14a"/><circle cx="502.5" cy="309.8" r="1.0" fill="#4f9a36"/><circle cx="478.7" cy="309.2" r="1.3" fill="#4f9a36"/><circle cx="457.8" cy="293.2" r="1.2" fill="#6cb544"/><circle cx="479.5" cy="308.5" r="1.1" fill="#4f9a36"/><circle cx="504.4" cy="283.8" r="1.1" fill="#88ca59"/><circle cx="466.6" cy="274.2" r="1.5" fill="#6fb845"/><circle cx="486.2" cy="271.3" r="2.1" fill="#a1d874"/><circle cx="459.9" cy="298.5" r="1.5" fill="#7ac24b"/><circle cx="496.2" cy="276.6" r="1.6" fill="#7bc34b"/><circle cx="482.1" cy="259.6" r="1.5" fill="#c0e894"/><circle cx="478.2" cy="272.8" r="1.9" fill="#9ed670"/><circle cx="485.1" cy="290.8" r="1.0" fill="#529d37"/><circle cx="465.9" cy="285.6" r="1.1" fill="#9cd56e"/><circle cx="486.7" cy="274.5" r="2.0" fill="#8acb5b"/><circle cx="480.0" cy="307.2" r="1.2" fill="#66af41"/><circle cx="477.2" cy="273.5" r="1.1" fill="#75bd48"/><circle cx="496.4" cy="268.6" r="1.3" fill="#a0d772"/><circle cx="488.0" cy="297.3" r="1.7" fill="#70b846"/><circle cx="507.2" cy="280.8" r="1.7" fill="#b1e084"/><circle cx="499.9" cy="283.2" r="1.4" fill="#539e38"/><circle cx="480.1" cy="281.8" r="1.1" fill="#bce690"/><circle cx="491.3" cy="310.1" r="2.1" fill="#65af41"/><circle cx="472.6" cy="280.9" r="1.0" fill="#c0e894"/><circle cx="487.5" cy="309.8" r="1.2" fill="#4f9a36"/><circle cx="492.7" cy="263.1" r="1.9" fill="#aadc7c"/><circle cx="476.2" cy="274.7" r="1.3" fill="#afdf82"/><circle cx="476.5" cy="266.6" r="1.0" fill="#c0e894"/><circle cx="481.2" cy="291.2" r="1.5" fill="#62ac3f"/><circle cx="464.8" cy="289.8" r="1.4" fill="#7dc44d"/><circle cx="496.5" cy="286.9" r="1.8" fill="#66af41"/><circle cx="478.3" cy="286.7" r="1.2" fill="#4f9a36"/><circle cx="480.9" cy="293.0" r="1.1" fill="#549f38"/><circle cx="493.0" cy="268.0" r="1.5" fill="#c0e894"/><circle cx="462.3" cy="297.6" r="1.9" fill="#4f9a36"/><circle cx="487.1" cy="280.2" r="1.5" fill="#c0e894"/><circle cx="484.3" cy="273.6" r="2.1" fill="#9cd56e"/><circle cx="475.3" cy="271.3" r="2.1" fill="#a6da78"/><circle cx="472.1" cy="275.6" r="1.2" fill="#77bf49"/><circle cx="510.0" cy="297.9" r="1.2" fill="#4f9a36"/><circle cx="481.0" cy="287.7" r="1.0" fill="#67b041"/><circle cx="475.9" cy="265.0" r="1.4" fill="#8bcc5c"/><circle cx="460.6" cy="277.8" r="1.7" fill="#6eb745"/><circle cx="457.1" cy="291.4" r="1.6" fill="#77bf49"/><circle cx="494.9" cy="302.8" r="1.5" fill="#4f9a36"/><circle cx="466.4" cy="299.0" r="2.2" fill="#4f9a36"/><circle cx="488.7" cy="274.9" r="1.2" fill="#5ea83d"/><circle cx="491.6" cy="308.1" r="1.9" fill="#4f9a36"/><circle cx="478.7" cy="298.6" r="1.8" fill="#79c14a"/><circle cx="460.2" cy="275.0" r="1.8" fill="#c0e894"/><circle cx="507.8" cy="307.0" r="1.6" fill="#6eb745"/><circle cx="461.0" cy="290.5" r="2.1" fill="#c0e894"/><circle cx="480.3" cy="265.8" r="1.4" fill="#b6e38a"/><circle cx="456.9" cy="289.3" r="1.4" fill="#7bc34b"/><circle cx="477.6" cy="263.6" r="2.0" fill="#77bf49"/><circle cx="508.5" cy="279.8" r="1.6" fill="#90ce61"/><circle cx="484.6" cy="300.5" r="2.2" fill="#7ac24b"/><circle cx="485.3" cy="272.9" r="1.1" fill="#7dc44d"/><circle cx="502.7" cy="288.4" r="1.1" fill="#81c651"/><circle cx="485.0" cy="304.5" r="2.1" fill="#6cb544"/><circle cx="489.5" cy="286.8" r="1.4" fill="#4f9a36"/><circle cx="495.1" cy="278.4" r="1.6" fill="#8ecd5f"/><circle cx="477.0" cy="258.4" r="1.1" fill="#c0e894"/><circle cx="501.2" cy="297.1" r="1.9" fill="#4f9a36"/><circle cx="473.8" cy="293.4" r="1.5" fill="#94d166"/><circle cx="493.0" cy="270.8" r="1.5" fill="#87ca58"/><circle cx="506.3" cy="296.9" r="1.7" fill="#4f9a36"/><circle cx="462.1" cy="290.3" r="1.4" fill="#59a43b"/><circle cx="481.6" cy="261.8" r="1.3" fill="#79c14a"/><circle cx="479.6" cy="264.2" r="1.7" fill="#a9dc7c"/><circle cx="471.4" cy="305.1" r="1.9" fill="#4f9a36"/><circle cx="470.2" cy="286.6" r="1.5" fill="#64ae40"/><circle cx="480.1" cy="274.5" r="1.5" fill="#8acb5a"/><circle cx="489.5" cy="296.1" r="1.9" fill="#4f9a36"/><circle cx="468.5" cy="301.5" r="1.6" fill="#59a33b"/><circle cx="495.1" cy="306.7" r="1.3" fill="#60aa3e"/><circle cx="485.1" cy="261.0" r="1.2" fill="#82c752"/><circle cx="471.6" cy="303.5" r="1.3" fill="#4f9a36"/><circle cx="460.4" cy="296.7" r="1.5" fill="#64ae40"/><circle cx="467.1" cy="270.4" r="1.2" fill="#b4e288"/><circle cx="469.4" cy="276.1" r="1.0" fill="#6eb745"/><circle cx="497.3" cy="272.4" r="2.2" fill="#73bc48"/><circle cx="470.9" cy="299.0" r="1.4" fill="#7bc34b"/><circle cx="494.6" cy="274.2" r="2.0" fill="#6eb745"/><circle cx="492.6" cy="286.1" r="1.8" fill="#62ab3f"/><circle cx="462.8" cy="299.1" r="2.0" fill="#93d064"/><circle cx="455.6" cy="297.7" r="1.0" fill="#509b36"/><circle cx="489.8" cy="295.2" r="2.2" fill="#5ea83d"/><circle cx="485.4" cy="268.9" r="1.1" fill="#bfe793"/><circle cx="498.8" cy="268.8" r="1.9" fill="#7fc54f"/><circle cx="468.4" cy="295.4" r="1.5" fill="#5da73d"/><circle cx="500.0" cy="281.5" r="1.1" fill="#a2d874"/><circle cx="461.8" cy="300.0" r="1.2" fill="#67b142"/><circle cx="488.6" cy="284.7" r="1.7" fill="#529d37"/><circle cx="484.9" cy="303.4" r="1.9" fill="#63ac3f"/><circle cx="477.9" cy="276.3" r="1.8" fill="#b1e084"/><circle cx="463.3" cy="286.3" r="1.8" fill="#76be49"/><circle cx="464.8" cy="303.4" r="1.6" fill="#6ab343"/><circle cx="485.4" cy="258.7" r="1.9" fill="#c0e894"/><circle cx="502.1" cy="310.1" r="1.1" fill="#4f9a36"/><circle cx="469.8" cy="281.4" r="1.4" fill="#c0e894"/><circle cx="471.6" cy="300.0" r="1.7" fill="#66b041"/><circle cx="470.8" cy="299.8" r="1.1" fill="#60aa3e"/><circle cx="500.9" cy="308.3" r="1.9" fill="#4f9a36"/><circle cx="501.0" cy="308.2" r="1.8" fill="#4f9a36"/><circle cx="484.7" cy="313.3" r="2.0" fill="#61aa3e"/><circle cx="500.7" cy="300.4" r="2.2" fill="#65ae40"/><circle cx="468.8" cy="279.6" r="1.9" fill="#bfe793"/><circle cx="458.7" cy="292.1" r="1.4" fill="#8acb5b"/><circle cx="498.0" cy="283.9" r="2.0" fill="#5ba53c"/><circle cx="468.7" cy="276.4" r="1.4" fill="#8ccc5d"/><circle cx="479.1" cy="286.2" r="1.1" fill="#5ea83d"/><circle cx="475.5" cy="269.7" r="1.4" fill="#adde80"/><circle cx="496.8" cy="268.3" r="1.8" fill="#64ae40"/><circle cx="501.0" cy="298.9" r="1.2" fill="#68b142"/><circle cx="459.0" cy="286.8" r="1.0" fill="#559f38"/><circle cx="486.7" cy="298.3" r="1.2" fill="#73bc47"/><circle cx="508.1" cy="303.4" r="2.1" fill="#5ba63c"/><circle cx="480.1" cy="307.2" r="1.6" fill="#4f9a36"/><circle cx="475.0" cy="260.9" r="1.9" fill="#c0e894"/><circle cx="472.5" cy="274.2" r="1.1" fill="#b2e186"/><circle cx="505.2" cy="295.1" r="2.0" fill="#529c37"/><circle cx="489.2" cy="280.6" r="1.3" fill="#5ba53c"/><circle cx="475.0" cy="300.3" r="1.5" fill="#60aa3e"/><circle cx="507.2" cy="280.9" r="1.0" fill="#90ce61"/><circle cx="485.4" cy="313.8" r="1.4" fill="#4f9a36"/><circle cx="492.6" cy="270.0" r="1.2" fill="#8ecd5f"/><circle cx="466.9" cy="278.5" r="2.0" fill="#75bd48"/><circle cx="457.0" cy="285.9" r="1.1" fill="#62ac3f"/><circle cx="467.1" cy="294.7" r="2.1" fill="#7fc650"/><circle cx="488.0" cy="271.7" r="1.4" fill="#73bb47"/><circle cx="457.7" cy="286.4" r="1.7" fill="#c0e894"/><circle cx="465.5" cy="285.5" r="1.8" fill="#56a039"/><circle cx="486.6" cy="304.0" r="1.7" fill="#5da73d"/><circle cx="498.2" cy="307.6" r="1.1" fill="#4f9a36"/><circle cx="478.2" cy="271.6" r="1.1" fill="#98d269"/><circle cx="481.2" cy="304.0" r="1.5" fill="#509b36"/><circle cx="489.4" cy="310.9" r="1.8" fill="#68b142"/><circle cx="487.0" cy="258.2" r="1.6" fill="#98d36a"/><circle cx="486.8" cy="294.9" r="2.0" fill="#65af41"/><circle cx="486.2" cy="281.7" r="1.1" fill="#97d268"/><circle cx="495.3" cy="310.3" r="2.0" fill="#66af41"/><circle cx="487.7" cy="272.2" r="1.6" fill="#5fa93e"/><circle cx="469.6" cy="286.8" r="1.0" fill="#78c14a"/><circle cx="505.7" cy="292.2" r="2.0" fill="#4f9a36"/><circle cx="494.3" cy="294.0" r="1.7" fill="#55a039"/><circle cx="475.7" cy="304.2" r="2.1" fill="#65ae40"/><circle cx="508.6" cy="289.9" r="1.1" fill="#4f9a36"/><circle cx="470.0" cy="288.0" r="1.8" fill="#c0e894"/><circle cx="484.1" cy="263.6" r="1.5" fill="#8fce60"/><circle cx="502.7" cy="282.7" r="1.3" fill="#96d268"/><circle cx="487.8" cy="273.0" r="2.1" fill="#afdf82"/><circle cx="485.3" cy="270.6" r="2.0" fill="#9cd56e"/><circle cx="464.2" cy="298.6" r="1.1" fill="#93d065"/><circle cx="460.2" cy="278.3" r="1.9" fill="#c0e894"/><circle cx="478.8" cy="285.4" r="1.7" fill="#9ed670"/><circle cx="462.7" cy="273.9" r="1.3" fill="#72bb47"/><circle cx="465.4" cy="284.6" r="1.4" fill="#c0e894"/><circle cx="489.8" cy="290.9" r="1.5" fill="#4f9a36"/><circle cx="485.4" cy="263.3" r="2.1" fill="#a4d976"/><circle cx="489.2" cy="258.7" r="1.9" fill="#c0e894"/><circle cx="499.5" cy="294.0" r="1.6" fill="#4f9a36"/><circle cx="492.1" cy="285.1" r="1.2" fill="#5fa93e"/><circle cx="471.6" cy="273.4" r="2.1" fill="#8ece60"/><circle cx="481.8" cy="287.7" r="1.2" fill="#509b36"/><circle cx="469.1" cy="295.7" r="1.6" fill="#529d37"/><circle cx="468.3" cy="305.2" r="1.0" fill="#5ca73c"/><circle cx="461.2" cy="305.7" r="1.1" fill="#70b946"/><circle cx="470.1" cy="303.4" r="1.5" fill="#80c651"/><circle cx="502.9" cy="280.3" r="1.1" fill="#77bf49"/><circle cx="462.9" cy="271.5" r="1.3" fill="#c0e894"/><circle cx="489.5" cy="313.5" r="1.6" fill="#539d38"/><circle cx="464.2" cy="279.4" r="1.4" fill="#bce690"/><circle cx="506.3" cy="287.3" r="2.0" fill="#4f9a36"/><circle cx="496.0" cy="294.6" r="1.5" fill="#66af41"/><circle cx="477.7" cy="265.9" r="1.4" fill="#c0e894"/><circle cx="474.2" cy="290.4" r="2.1" fill="#59a33b"/><circle cx="488.9" cy="286.4" r="1.3" fill="#4f9a36"/><circle cx="486.9" cy="281.9" r="1.4" fill="#80c650"/><circle cx="482.8" cy="310.3" r="1.1" fill="#4f9a36"/><circle cx="478.8" cy="269.1" r="1.7" fill="#68b242"/><circle cx="488.4" cy="281.1" r="1.5" fill="#a9dc7c"/><circle cx="472.8" cy="307.1" r="1.4" fill="#4f9a36"/><circle cx="475.1" cy="270.2" r="1.8" fill="#69b243"/><circle cx="489.6" cy="266.6" r="2.1" fill="#66af41"/><circle cx="482.5" cy="277.5" r="1.6" fill="#6cb544"/><circle cx="478.7" cy="270.6" r="1.0" fill="#afdf82"/><circle cx="458.0" cy="294.6" r="1.2" fill="#72bb47"/><circle cx="487.4" cy="290.0" r="1.4" fill="#87c957"/><circle cx="476.0" cy="269.6" r="1.7" fill="#c0e894"/><circle cx="474.0" cy="266.4" r="1.2" fill="#8bcc5c"/><circle cx="463.0" cy="287.6" r="1.5" fill="#6cb544"/><circle cx="473.6" cy="284.6" r="1.7" fill="#61ab3f"/><circle cx="461.0" cy="289.2" r="1.3" fill="#a3d875"/><circle cx="454.4" cy="289.9" r="2.2" fill="#bce58f"/><circle cx="482.2" cy="308.6" r="1.6" fill="#70b946"/><circle cx="496.6" cy="288.4" r="1.3" fill="#8fce60"/><circle cx="469.7" cy="289.9" r="1.3" fill="#9bd46c"/><circle cx="506.1" cy="284.1" r="1.9" fill="#7fc54f"/><circle cx="478.9" cy="303.5" r="1.7" fill="#60aa3e"/><circle cx="480.3" cy="293.3" r="1.6" fill="#71ba46"/><circle cx="460.0" cy="287.5" r="1.1" fill="#559f38"/><circle cx="463.9" cy="301.5" r="1.4" fill="#4f9a36"/><circle cx="479.2" cy="303.0" r="1.5" fill="#4f9a36"/><circle cx="508.6" cy="297.1" r="1.6" fill="#6bb444"/><circle cx="496.4" cy="306.5" r="1.9" fill="#5ca63c"/><circle cx="481.9" cy="289.8" r="1.5" fill="#6db644"/><circle cx="463.3" cy="271.9" r="1.2" fill="#c0e894"/><circle cx="499.2" cy="302.2" r="1.3" fill="#6eb745"/><circle cx="507.6" cy="300.6" r="1.3" fill="#57a139"/><circle cx="465.0" cy="278.5" r="2.0" fill="#71b946"/><circle cx="470.9" cy="289.5" r="1.5" fill="#afdf82"/><circle cx="484.1" cy="305.8" r="1.1" fill="#76be49"/><circle cx="479.5" cy="272.9" r="1.9" fill="#c0e894"/><circle cx="500.2" cy="288.8" r="1.4" fill="#68b242"/><circle cx="478.5" cy="275.1" r="1.3" fill="#a5da78"/><circle cx="499.0" cy="272.8" r="1.0" fill="#64ae40"/><circle cx="481.3" cy="298.3" r="1.4" fill="#6cb544"/><circle cx="471.8" cy="280.4" r="1.5" fill="#a5da78"/><circle cx="501.7" cy="280.7" r="1.6" fill="#97d268"/><circle cx="472.5" cy="282.0" r="2.1" fill="#79c14a"/><circle cx="490.8" cy="299.8" r="1.2" fill="#69b242"/><circle cx="507.7" cy="289.0" r="1.5" fill="#5ba53b"/><circle cx="477.3" cy="291.6" r="1.2" fill="#60aa3e"/><circle cx="476.8" cy="258.2" r="2.0" fill="#c0e894"/><circle cx="501.5" cy="274.9" r="1.5" fill="#539d37"/><circle cx="496.7" cy="281.9" r="1.6" fill="#5aa43b"/><circle cx="506.0" cy="300.6" r="1.7" fill="#69b242"/><circle cx="476.2" cy="307.8" r="1.1" fill="#549f38"/><circle cx="486.8" cy="267.6" r="1.3" fill="#c0e894"/><circle cx="487.0" cy="290.4" r="1.2" fill="#96d167"/><circle cx="487.6" cy="295.1" r="1.0" fill="#92d064"/><circle cx="459.5" cy="291.8" r="1.3" fill="#b9e48d"/><circle cx="491.8" cy="287.4" r="1.5" fill="#4f9a36"/><circle cx="464.8" cy="296.6" r="2.1" fill="#8ecd5f"/><circle cx="477.0" cy="265.1" r="1.9" fill="#6eb745"/><circle cx="489.9" cy="291.1" r="1.3" fill="#5ea83d"/><circle cx="476.0" cy="300.8" r="1.7" fill="#4f9a36"/><circle cx="489.4" cy="290.7" r="1.3" fill="#82c752"/><circle cx="492.1" cy="303.0" r="1.8" fill="#4f9a36"/><circle cx="485.7" cy="260.6" r="2.0" fill="#77c049"/><circle cx="461.9" cy="276.8" r="1.9" fill="#93d064"/><circle cx="463.7" cy="290.0" r="1.2" fill="#b4e187"/><circle cx="461.1" cy="272.4" r="1.8" fill="#b8e48c"/><circle cx="464.0" cy="296.3" r="1.0" fill="#96d167"/><circle cx="480.9" cy="283.6" r="1.2" fill="#529d37"/><circle cx="506.0" cy="281.9" r="1.1" fill="#4f9a36"/><circle cx="482.1" cy="309.9" r="1.4" fill="#5da73d"/><circle cx="465.1" cy="270.5" r="1.2" fill="#c0e894"/><circle cx="494.3" cy="312.6" r="1.4" fill="#5ea83d"/><circle cx="481.2" cy="288.1" r="2.1" fill="#69b242"/><circle cx="473.7" cy="302.4" r="1.4" fill="#4f9a36"/><circle cx="472.5" cy="284.8" r="1.8" fill="#a9db7b"/><circle cx="504.0" cy="289.8" r="2.2" fill="#4f9a36"/><circle cx="466.7" cy="278.7" r="1.8" fill="#8ecd5f"/><circle cx="467.8" cy="295.4" r="1.5" fill="#62ac3f"/><circle cx="480.3" cy="278.3" r="1.8" fill="#6fb845"/><circle cx="462.5" cy="273.9" r="1.9" fill="#c0e894"/><circle cx="482.0" cy="260.7" r="1.3" fill="#79c14a"/><circle cx="488.4" cy="268.9" r="1.5" fill="#c0e894"/><circle cx="503.8" cy="288.2" r="1.9" fill="#57a23a"/><circle cx="494.8" cy="303.2" r="1.8" fill="#4f9a36"/><circle cx="487.0" cy="275.2" r="1.2" fill="#5aa43b"/><circle cx="470.7" cy="276.7" r="1.0" fill="#a9db7b"/><circle cx="498.5" cy="279.9" r="1.5" fill="#a4d976"/><circle cx="488.5" cy="289.3" r="2.0" fill="#a0d772"/><circle cx="490.2" cy="278.3" r="2.0" fill="#95d166"/><circle cx="476.2" cy="310.0" r="1.3" fill="#549e38"/><circle cx="454.7" cy="288.4" r="1.6" fill="#8bcc5c"/><circle cx="489.0" cy="278.5" r="1.7" fill="#81c651"/><circle cx="507.9" cy="277.4" r="2.1" fill="#549f38"/><circle cx="491.3" cy="300.3" r="1.5" fill="#4f9a36"/><circle cx="487.3" cy="285.6" r="2.0" fill="#a5d977"/><circle cx="481.5" cy="298.6" r="1.7" fill="#88ca59"/><circle cx="508.7" cy="305.9" r="1.5" fill="#5ba53b"/><circle cx="493.8" cy="311.8" r="1.3" fill="#4f9a36"/><circle cx="480.2" cy="272.5" r="1.5" fill="#94d166"/><circle cx="493.8" cy="280.2" r="2.1" fill="#56a039"/><circle cx="476.3" cy="260.7" r="2.1" fill="#7bc34b"/><circle cx="499.6" cy="306.7" r="1.5" fill="#75be48"/><circle cx="493.4" cy="307.3" r="1.4" fill="#529d37"/><circle cx="484.1" cy="302.8" r="1.4" fill="#75bd48"/><circle cx="475.6" cy="270.3" r="2.0" fill="#74bc48"/><circle cx="465.0" cy="290.9" r="1.8" fill="#79c14a"/><circle cx="491.6" cy="314.4" r="1.7" fill="#4f9a36"/><circle cx="504.7" cy="285.5" r="1.5" fill="#539e38"/><circle cx="497.6" cy="289.0" r="1.0" fill="#7bc34b"/><circle cx="477.4" cy="278.9" r="2.0" fill="#76bf49"/><circle cx="471.7" cy="299.0" r="1.1" fill="#86c956"/><circle cx="470.4" cy="270.9" r="1.3" fill="#7ac24b"/><circle cx="492.4" cy="265.0" r="2.1" fill="#77c04a"/><circle cx="470.8" cy="298.5" r="1.5" fill="#7fc54f"/><circle cx="509.0" cy="291.1" r="1.2" fill="#63ac3f"/><circle cx="489.4" cy="286.4" r="1.6" fill="#7ec54e"/><circle cx="472.5" cy="304.2" r="1.7" fill="#57a13a"/><circle cx="462.2" cy="282.1" r="2.1" fill="#67b142"/><circle cx="468.4" cy="286.8" r="2.1" fill="#7ec54e"/><circle cx="490.2" cy="290.6" r="1.6" fill="#71ba46"/><circle cx="495.9" cy="269.2" r="1.1" fill="#a0d772"/><circle cx="485.5" cy="266.9" r="1.6" fill="#b4e288"/><circle cx="508.2" cy="280.9" r="1.1" fill="#7ac24b"/><circle cx="493.0" cy="284.9" r="2.0" fill="#62ac3f"/>
<g fill="#3f9a3a"><circle cx="490.0" cy="336.0" r="5.0"/><circle cx="497.0" cy="334.0" r="5.5"/><circle cx="505.0" cy="335.0" r="5.5"/><circle cx="511.0" cy="338.0" r="4.0"/><circle cx="486.0" cy="339.0" r="4.0"/></g><circle cx="497.9" cy="334.2" r="2.0" fill="#7bc859"/><circle cx="505.1" cy="335.3" r="1.2" fill="#2d7c2c"/><circle cx="504.2" cy="339.2" r="1.1" fill="#2e7d2c"/><circle cx="495.4" cy="335.9" r="1.5" fill="#7cc95a"/><circle cx="486.5" cy="336.6" r="1.1" fill="#7cc95a"/><circle cx="496.6" cy="334.6" r="1.1" fill="#399035"/><circle cx="485.6" cy="336.8" r="1.2" fill="#388e34"/><circle cx="491.1" cy="337.6" r="1.4" fill="#6dbd52"/><circle cx="504.2" cy="337.3" r="1.1" fill="#246b24"/><circle cx="501.5" cy="335.3" r="2.2" fill="#409b3b"/><circle cx="508.0" cy="333.6" r="1.3" fill="#459f3d"/><circle cx="497.3" cy="333.5" r="1.8" fill="#7cc95a"/><circle cx="487.1" cy="340.0" r="1.9" fill="#59ae48"/><circle cx="508.2" cy="336.0" r="1.3" fill="#2a7629"/><circle cx="506.1" cy="335.0" r="2.2" fill="#57ac46"/><circle cx="496.0" cy="334.2" r="1.4" fill="#30802e"/><circle cx="504.0" cy="331.4" r="1.3" fill="#378d34"/><circle cx="513.6" cy="337.5" r="1.1" fill="#4da541"/><circle cx="490.3" cy="334.4" r="2.2" fill="#3e9939"/><circle cx="494.6" cy="331.0" r="1.2" fill="#68b94f"/><circle cx="486.6" cy="336.8" r="1.1" fill="#338630"/><circle cx="506.9" cy="334.4" r="1.2" fill="#287327"/><circle cx="510.4" cy="335.9" r="1.1" fill="#58ad47"/><circle cx="499.9" cy="331.4" r="1.1" fill="#4fa642"/><circle cx="507.4" cy="332.1" r="1.2" fill="#7cc95a"/><circle cx="497.7" cy="336.8" r="1.2" fill="#3c9537"/><circle cx="510.7" cy="336.6" r="1.6" fill="#2f7f2d"/><circle cx="503.3" cy="336.6" r="1.9" fill="#3e9939"/><circle cx="505.0" cy="335.3" r="1.8" fill="#399035"/><circle cx="485.6" cy="337.4" r="2.1" fill="#469f3d"/><circle cx="505.9" cy="337.7" r="1.0" fill="#246b24"/><circle cx="501.9" cy="337.6" r="1.5" fill="#297428"/><circle cx="498.1" cy="336.5" r="1.9" fill="#70c054"/><circle cx="487.2" cy="333.9" r="1.9" fill="#7cc95a"/><circle cx="498.0" cy="336.3" r="1.8" fill="#3f9a3a"/><circle cx="491.1" cy="332.6" r="1.2" fill="#61b44c"/>
<rect x="141.3" y="346.5" width="56.2" height="12.5" fill="#5b92cd"/>
<path d="M20,346.3 H141.3 V359 H197.5 V346" fill="none" stroke="#111" stroke-width="1.8"/>
<line x1="143.5" y1="346" x2="143.5" y2="304" stroke="#7fb0dc" stroke-width="0.8"/>
<path d="M140.5,300.5 L160,293" stroke="#222" stroke-width="0.9"/>
<g stroke="#3a3a3a" stroke-width="1">
<line x1="82.4" y1="317.0" x2="82.4" y2="363.5"/>
<line x1="178.7" y1="351.0" x2="178.7" y2="379.0"/>
<line x1="261.4" y1="343.0" x2="261.4" y2="379.0"/>
<line x1="355.0" y1="336.0" x2="355.0" y2="379.0"/>
<line x1="467.7" y1="315.0" x2="467.7" y2="360.0"/>
<line x1="552.5" y1="325.0" x2="552.5" y2="371.0"/>
<line x1="609.5" y1="354.5" x2="609.5" y2="372.0"/>
<line x1="675.5" y1="353.0" x2="675.5" y2="372.0"/>
</g><g fill="#e01b1b">
<circle cx="82.4" cy="316.5" r="1.8"/>
<circle cx="178.7" cy="351.0" r="1.8"/>
<circle cx="261.4" cy="342.7" r="1.8"/>
<circle cx="355.6" cy="335.7" r="1.8"/>
<circle cx="467.7" cy="315.0" r="1.8"/>
<circle cx="552.5" cy="325.0" r="1.8"/>
<circle cx="609.5" cy="354.5" r="1.8"/>
<circle cx="675.5" cy="353.0" r="1.8"/>
</g>
<path d="M581.5,393.5 q1.5,-1 3,0 t3,0 t3,0 t3,0 t3,0 t3,0 t3,0 t3,0 t3,0" fill="none" stroke="#e05050" stroke-width="0.6"/>
<g id="boxes"><rect x="30.0" y="146.0" width="85.2" height="13.0" fill="#ffffff"/><rect x="175.0" y="100.7" width="68.9" height="13.0" fill="#ffffff"/><rect x="175.0" y="112.7" width="62.9" height="13.0" fill="#ffffff"/><rect x="224.5" y="163.2" width="74.5" height="13.0" fill="#ffffff"/><rect x="224.5" y="174.4" width="31.2" height="13.0" fill="#ffffff"/><rect x="163.0" y="216.9" width="75.0" height="13.0" fill="#ffffff"/><rect x="0.0" y="219.1" width="53.1" height="13.0" fill="#ffffff"/><rect x="0.0" y="229.7" width="111.3" height="13.0" fill="#ffffff"/><rect x="269.5" y="273.4" width="53.9" height="13.0" fill="#ffffff"/><rect x="321.6" y="202.2" width="56.2" height="13.0" fill="#ffffff"/><rect x="396.3" y="96.4" width="70.2" height="13.0" fill="#ffffff"/><rect x="437.3" y="143.2" width="43.1" height="13.0" fill="#ffffff"/><rect x="400.3" y="175.0" width="70.9" height="13.0" fill="#ffffff"/><rect x="513.3" y="72.4" width="80.1" height="13.0" fill="#ffffff"/><rect x="528.0" y="122.7" width="63.1" height="13.0" fill="#ffffff"/><rect x="528.0" y="133.7" width="33.0" height="13.0" fill="#ffffff"/><rect x="37.0" y="361.3" width="87.6" height="13.0" fill="#ffffff"/><rect x="136.5" y="379.0" width="82.5" height="13.0" fill="#ffffff"/><rect x="236.5" y="379.0" width="49.5" height="13.0" fill="#ffffff"/><rect x="323.0" y="379.0" width="69.6" height="13.0" fill="#ffffff"/><rect x="341.0" y="390.0" width="34.7" height="13.0" fill="#ffffff"/><rect x="425.8" y="360.4" width="77.2" height="13.0" fill="#ffffff"/><rect x="435.0" y="371.5" width="58.6" height="13.0" fill="#ffffff"/><rect x="511.8" y="369.0" width="73.2" height="13.0" fill="#ffffff"/><rect x="591.4" y="371.0" width="42.7" height="13.0" fill="#ffffff"/><rect x="578.5" y="382.0" width="68.5" height="13.0" fill="#ffffff"/><rect x="650.0" y="371.0" width="60.1" height="13.0" fill="#ffffff"/></g>
<g id="labels">
<text class="t g" x="33" y="156.0" textLength="79" lengthAdjust="spacingAndGlyphs">Güneş Pasif Mimarisi</text>
<text class="t" x="178" y="110.7" textLength="62.5" lengthAdjust="spacingAndGlyphs">Saha ve Ekolojik</text>
<text class="t" x="178" y="122.7" textLength="56.5" lengthAdjust="spacingAndGlyphs">Değerlendirme</text>
<text class="t" x="227.5" y="173.2" textLength="68.5" lengthAdjust="spacingAndGlyphs">Arazi Çözünürlüğü</text>
<text class="t" x="227.5" y="184.4" textLength="25" lengthAdjust="spacingAndGlyphs">Analizi</text>
<text class="t" x="139.5" y="194.9" textLength="49.3" lengthAdjust="spacingAndGlyphs">Isıl Konfor ve</text>
<text class="t" x="139.5" y="207.4" textLength="61" lengthAdjust="spacingAndGlyphs">Enerji Tasarrufu</text>
<text class="t" x="166" y="226.9" textLength="69" lengthAdjust="spacingAndGlyphs">Su Geri Dönüşümü</text>
<text class="t" x="3" y="229.1" textLength="47" lengthAdjust="spacingAndGlyphs">Yenilenebilir</text>
<text class="t" x="3" y="239.7" textLength="105.3" lengthAdjust="spacingAndGlyphs">Teknolojilerin Entegrasyonu</text>
<text class="t" x="272.5" y="283.4" textLength="47.5" lengthAdjust="spacingAndGlyphs">Biyoçeşitlilik</text>
<text class="t" x="324.6" y="212.2" textLength="50" lengthAdjust="spacingAndGlyphs">Su Süzülmesi</text>
<text class="t" x="399.3" y="106.4" textLength="64" lengthAdjust="spacingAndGlyphs">Yapı Malzemeleri</text>
<text class="t" x="440.3" y="153.2" textLength="36.7" lengthAdjust="spacingAndGlyphs">Doğal Işık</text>
<text class="t" x="403.3" y="185.0" textLength="64.7" lengthAdjust="spacingAndGlyphs">İnşaat Teknolojisi</text>
<text class="t" x="516.3" y="82.4" textLength="73.7" lengthAdjust="spacingAndGlyphs">Biyolojik İyileştirme</text>
<text class="t" x="531" y="132.7" textLength="56.7" lengthAdjust="spacingAndGlyphs">İç Mekan Çevre</text>
<text class="t" x="531" y="143.7" textLength="26.8" lengthAdjust="spacingAndGlyphs">Kalitesi</text>

<text class="b" x="40" y="371.3" textLength="81" lengthAdjust="spacingAndGlyphs">Çapraz Havalandırma</text>
<text class="b" x="139.5" y="389.0" textLength="76.5" lengthAdjust="spacingAndGlyphs">Yağmur Suyu Hasadı</text>
<text class="b" x="239.5" y="389.0" textLength="43" lengthAdjust="spacingAndGlyphs">Temiz Hava</text>
<text class="b" x="326" y="389.0" textLength="63.5" lengthAdjust="spacingAndGlyphs">Havayı Arındıran</text>
<text class="b" x="344" y="400.0" textLength="28.5" lengthAdjust="spacingAndGlyphs">Ağaçlar</text>
<text class="b" x="428.8" y="370.4" textLength="71.2" lengthAdjust="spacingAndGlyphs">Ses Bariyeri görevi</text>
<text class="b" x="438" y="381.5" textLength="52.4" lengthAdjust="spacingAndGlyphs">gören ağaçlar</text>
<text class="b" x="514.8" y="379.0" textLength="67.2" lengthAdjust="spacingAndGlyphs">Yalıtım Malzemesi</text>
<text class="b" x="594.4" y="381.0" textLength="36.6" lengthAdjust="spacingAndGlyphs">Gri Suyun</text>
<text class="b" x="581.5" y="392.0" textLength="62.5" lengthAdjust="spacingAndGlyphs">Yniden Kullanımı</text>
<text class="b" x="653" y="381.0" textLength="54" lengthAdjust="spacingAndGlyphs">Drenaj Çukuru</text>
</g>
</svg>
</body></html>
